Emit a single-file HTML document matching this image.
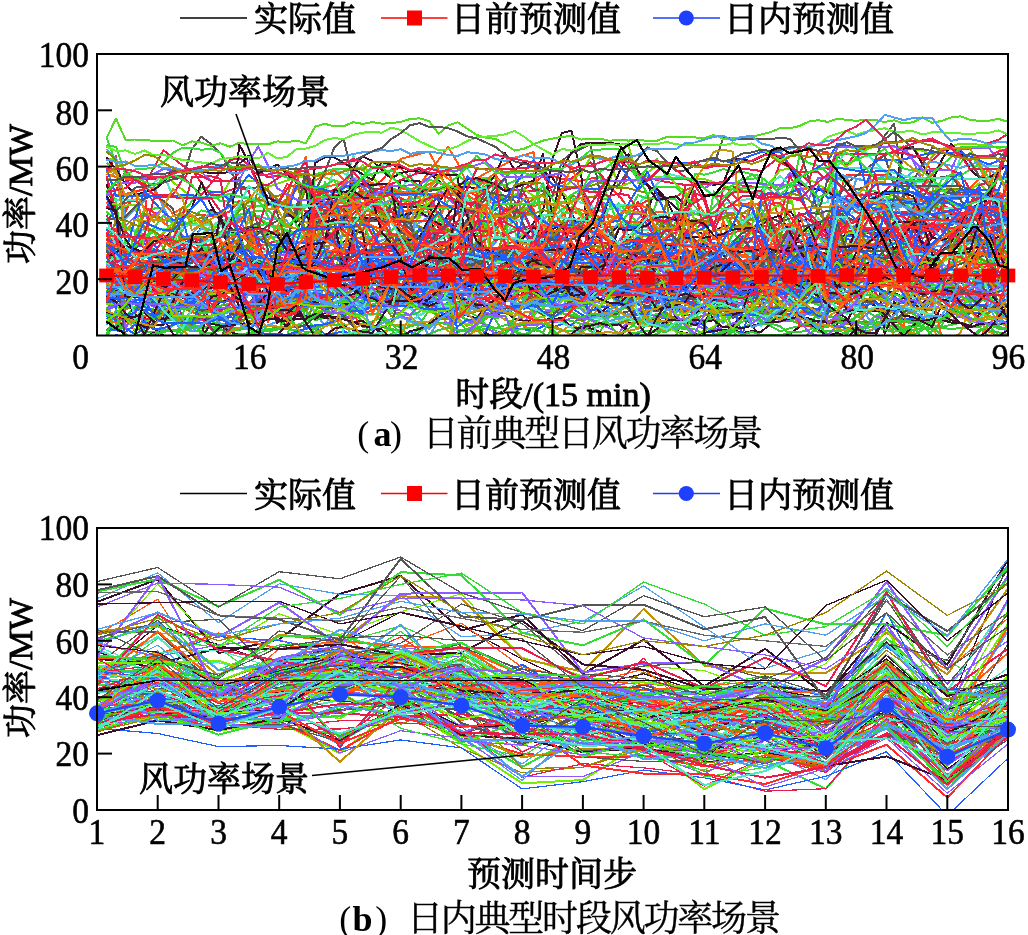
<!DOCTYPE html><html><head><meta charset="utf-8"><style>html,body{margin:0;padding:0;background:#fff;overflow:hidden}svg{display:block}</style></head><body>
<svg width="1028" height="935" viewBox="0 0 1028 935">
<style>text{fill:#000;stroke:#000;stroke-width:0.6}.lg{font-family:"Liberation Serif","Noto Serif CJK SC",serif;font-size:34px;stroke-width:0.9}.tk{font-family:"Liberation Serif","Noto Serif CJK SC",serif;font-size:36px;}.cap{font-family:"Liberation Serif","Noto Serif CJK SC",serif;font-size:36px;stroke-width:0.4}</style>
<rect width="1028" height="935" fill="#fff"/>
<clipPath id="ct"><rect x="97" y="54" width="911" height="281.5"/></clipPath>
<clipPath id="cb"><rect x="97" y="528" width="911" height="282"/></clipPath>
<g clip-path="url(#ct)" fill="none" stroke-width="2" stroke-linejoin="round" shape-rendering="crispEdges">
<polyline stroke="#e81c4c" points="106.5,188.2 135.0,178.2 153.9,178.8 182.4,176.0 201.4,195.1 229.9,160.0 239.3,158.2 267.8,177.3 286.8,174.7 305.8,174.7 334.2,216.9 362.7,190.3 372.2,203.7 381.7,192.1 429.1,191.5 438.6,182.8 457.6,190.8 476.6,179.9 505.1,190.3 543.0,190.8 571.5,178.6 590.5,162.3 618.9,196.6 628.4,169.5 656.9,180.3 685.4,185.0 732.8,182.5 742.3,185.6 770.8,188.2 780.2,162.6 799.2,172.1 818.2,172.1 827.7,181.0 837.2,155.9 846.7,164.8 856.2,152.5 865.7,148.2 884.6,143.0 903.6,141.1 932.1,141.1 960.6,149.0 970.0,149.0 998.5,139.7 1008.0,133.8"/>
<polyline stroke="#e81c4c" points="106.5,247.7 144.4,269.3 153.9,293.5 172.9,293.5 210.9,252.2 239.3,252.2 277.3,240.8 296.3,248.7 315.3,261.2 343.7,243.5 353.2,251.1 362.7,251.1 391.2,258.8 429.1,249.1 457.6,249.1 467.1,224.8 495.6,233.1 505.1,233.1 543.0,264.1 609.4,295.8 637.9,275.2 656.9,297.1 666.4,297.1 675.9,286.2 694.8,245.8 723.3,281.6 732.8,288.4 761.3,292.1 770.8,272.4 780.2,266.8 808.7,264.4 827.7,277.7 837.2,225.1 875.1,212.1 913.1,212.1 932.1,197.3 960.6,216.3 970.0,215.3 998.5,196.0 1008.0,219.6"/>
<polyline stroke="#ff2a2a" points="106.5,290.6 144.4,286.2 163.4,273.0 201.4,285.0 210.9,300.0 220.4,278.4 248.8,271.5 277.3,280.8 315.3,289.1 362.7,289.1 372.2,299.9 410.2,294.2 438.6,285.9 467.1,275.3 476.6,293.8 505.1,291.5 533.5,287.0 571.5,272.3 599.9,291.2 609.4,279.9 618.9,279.9 637.9,284.9 656.9,268.0 694.8,292.0 751.8,292.0 780.2,287.8 789.7,282.6 808.7,261.0 827.7,296.0 837.2,207.7 846.7,231.9 875.1,248.7 894.1,229.9 903.6,228.0 913.1,215.4 932.1,226.6 960.6,220.2 998.5,220.2 1008.0,240.2"/>
<polyline stroke="#ff2a2a" points="106.5,254.7 116.0,254.7 135.0,262.0 163.4,262.0 201.4,291.3 220.4,293.3 239.3,293.3 258.3,291.2 267.8,268.2 305.8,259.2 334.2,291.2 362.7,280.2 400.7,238.8 448.1,235.1 486.1,253.6 505.1,245.6 514.5,245.6 524.0,261.1 562.0,230.6 581.0,216.7 599.9,226.5 647.4,226.5 675.9,261.5 704.3,242.0 742.3,229.9 770.8,230.2 789.7,246.0 808.7,246.0 827.7,258.5 837.2,198.3 846.7,174.7 884.6,175.1 913.1,182.2 922.6,178.7 951.1,194.2 979.5,195.1 998.5,190.5 1008.0,163.8"/>
<polyline stroke="#33cc33" points="106.5,341.1 135.0,341.1 144.4,333.1 153.9,339.1 163.4,341.1 182.4,341.1 191.9,338.5 201.4,338.3 210.9,339.3 220.4,317.6 229.9,316.7 239.3,311.6 248.8,314.0 267.8,316.7 277.3,292.5 286.8,298.5 296.3,309.8 305.8,316.8 315.3,329.1 324.8,337.0 334.2,328.3 343.7,328.1 353.2,329.6 362.7,323.6 372.2,321.6 381.7,316.9 391.2,329.6 400.7,340.3 410.2,341.1 419.6,331.2 438.6,319.5 448.1,319.2 467.1,310.8 476.6,315.8 486.1,324.5 495.6,331.0 505.1,341.1 609.4,341.1 618.9,337.7 637.9,336.1 647.4,334.5 656.9,330.5 666.4,327.9 675.9,326.9 685.4,328.5 704.3,319.6 723.3,314.8 732.8,314.4 742.3,315.6 751.8,312.7 770.8,313.6 780.2,318.8 808.7,324.9 818.2,332.4 827.7,330.7 837.2,330.9 846.7,330.1 856.2,327.6 865.7,327.9 875.1,326.7 884.6,329.7 894.1,329.3 903.6,328.0 922.6,322.2 932.1,324.4 941.6,327.7 951.1,329.1 960.6,327.9 979.5,326.9 989.0,337.2 998.5,341.1 1008.0,341.1"/>
<polyline stroke="#33dd33" points="106.5,163.1 116.0,167.3 125.5,227.2 135.0,229.7 144.4,235.7 153.9,240.0 163.4,243.2 172.9,239.8 182.4,212.7 191.9,201.4 201.4,187.7 210.9,191.6 220.4,201.3 229.9,200.3 248.8,206.0 258.3,205.8 267.8,204.9 286.8,208.5 296.3,222.7 305.8,181.3 315.3,228.9 324.8,216.5 334.2,200.8 343.7,182.5 353.2,194.2 362.7,207.3 381.7,196.1 391.2,186.0 410.2,239.7 419.6,256.5 448.1,200.5 457.6,199.9 467.1,200.5 476.6,202.6 486.1,249.7 495.6,239.6 514.5,228.1 533.5,322.5 543.0,231.7 552.5,233.2 571.5,228.8 599.9,210.2 609.4,209.0 618.9,206.3 628.4,205.6 637.9,264.3 647.4,316.1 656.9,314.2 666.4,315.2 675.9,318.1 694.8,174.0 704.3,174.6 713.8,172.3 723.3,169.0 732.8,171.4 742.3,171.9 761.3,176.4 770.8,233.0 780.2,235.4 789.7,235.4 799.2,232.1 808.7,231.0 818.2,232.0 837.2,229.1 846.7,233.6 856.2,233.4 875.1,293.0 894.1,262.7 922.6,212.6 932.1,192.2 941.6,187.0 960.6,162.9 970.0,152.6 979.5,168.3 989.0,186.2 998.5,196.0 1008.0,195.9"/>
<polyline stroke="#ff2a2a" points="106.5,261.6 163.4,261.1 201.4,254.0 229.9,279.6 248.8,284.8 267.8,305.4 296.3,298.2 315.3,274.4 343.7,274.4 381.7,281.2 410.2,284.9 438.6,274.9 476.6,274.9 514.5,283.4 533.5,306.3 581.0,306.3 618.9,271.7 628.4,271.7 637.9,252.5 647.4,241.5 685.4,261.0 713.8,264.8 723.3,271.4 751.8,270.3 789.7,273.2 818.2,256.8 827.7,256.8 837.2,212.2 846.7,236.6 856.2,224.6 865.7,216.2 884.6,233.7 894.1,221.9 903.6,229.7 941.6,213.4 970.0,222.4 979.5,214.9 1008.0,247.3"/>
<polyline stroke="#ff5a10" points="106.5,251.4 144.4,253.5 153.9,261.7 172.9,265.0 201.4,260.4 220.4,246.2 248.8,249.5 277.3,264.3 305.8,260.9 315.3,202.6 324.8,203.2 362.7,198.1 372.2,203.5 391.2,222.1 410.2,196.1 448.1,172.3 457.6,193.4 476.6,191.9 486.1,248.3 495.6,247.5 533.5,265.8 562.0,247.3 599.9,246.4 618.9,252.1 647.4,252.1 666.4,270.9 675.9,270.9 704.3,245.0 732.8,245.0 742.3,257.4 799.2,257.4 865.7,247.8 894.1,268.4 922.6,277.5 951.1,295.6 970.0,262.4 998.5,248.3 1008.0,269.2"/>
<polyline stroke="#c8960a" points="106.5,238.3 116.0,242.5 125.5,266.1 135.0,280.1 153.9,302.5 163.4,308.4 172.9,279.5 182.4,274.3 191.9,270.6 201.4,263.4 210.9,264.9 229.9,260.3 239.3,262.1 248.8,259.4 258.3,262.8 267.8,308.4 277.3,268.1 286.8,266.3 296.3,290.9 305.8,293.4 315.3,295.2 324.8,295.1 334.2,339.9 343.7,301.1 353.2,293.8 362.7,295.3 372.2,298.3 391.2,299.7 400.7,299.1 410.2,300.2 419.6,297.8 429.1,305.1 438.6,307.7 448.1,326.4 457.6,314.3 467.1,304.8 476.6,307.4 486.1,308.9 495.6,305.8 505.1,307.2 514.5,305.8 524.0,305.5 543.0,315.0 552.5,334.9 562.0,331.0 571.5,324.3 581.0,330.4 590.5,319.0 599.9,305.6 609.4,295.1 618.9,293.5 628.4,295.0 637.9,295.6 656.9,291.4 675.9,306.0 685.4,309.8 694.8,307.5 704.3,295.9 713.8,292.6 723.3,294.5 732.8,295.7 742.3,298.7 751.8,285.8 761.3,279.1 770.8,268.3 789.7,294.5 799.2,299.2 808.7,279.0 818.2,264.4 827.7,313.1 837.2,307.7 846.7,300.9 856.2,302.0 865.7,302.0 875.1,301.3 884.6,315.8 894.1,336.0 903.6,332.7 913.1,333.6 922.6,309.7 932.1,328.2 941.6,341.1 951.1,339.8 960.6,332.5 970.0,307.5 979.5,320.1 989.0,319.3 998.5,315.9 1008.0,315.6"/>
<polyline stroke="#ff5a10" points="106.5,315.8 116.0,315.5 125.5,316.2 135.0,313.3 144.4,296.5 153.9,277.7 163.4,281.7 172.9,277.4 191.9,286.1 201.4,293.7 210.9,295.9 220.4,289.5 229.9,291.4 239.3,283.2 248.8,285.1 258.3,275.8 267.8,264.7 277.3,249.4 286.8,253.5 296.3,255.6 315.3,285.8 324.8,283.6 334.2,285.9 343.7,291.6 353.2,307.7 372.2,272.1 391.2,306.5 400.7,306.2 410.2,303.7 419.6,302.7 429.1,278.7 438.6,257.0 448.1,270.8 457.6,286.7 467.1,283.7 476.6,286.6 486.1,283.8 495.6,283.9 505.1,280.4 514.5,280.4 524.0,328.7 533.5,313.5 552.5,292.9 562.0,279.6 571.5,269.5 581.0,276.6 590.5,278.8 599.9,282.7 618.9,276.3 628.4,306.1 637.9,290.5 647.4,294.5 656.9,285.6 666.4,301.1 675.9,310.1 685.4,312.4 694.8,297.7 704.3,281.3 713.8,279.6 723.3,275.2 732.8,276.7 751.8,256.2 761.3,240.8 770.8,261.4 789.7,275.0 799.2,278.8 808.7,268.8 827.7,300.0 837.2,301.9 856.2,315.6 865.7,309.5 875.1,309.3 884.6,311.4 894.1,254.5 903.6,255.1 913.1,292.6 922.6,292.8 932.1,302.0 941.6,299.8 951.1,301.0 970.0,300.0 979.5,296.8 989.0,294.8 998.5,291.5 1008.0,283.7"/>
<polyline stroke="#ff3a1a" points="106.5,291.0 116.0,290.9 125.5,289.0 135.0,289.4 144.4,291.3 153.9,291.5 191.9,303.8 201.4,304.0 210.9,307.0 220.4,293.2 229.9,291.0 239.3,293.2 248.8,286.1 258.3,282.7 267.8,322.2 277.3,307.0 286.8,322.7 305.8,308.1 334.2,291.8 353.2,314.3 362.7,327.4 372.2,323.5 381.7,310.6 391.2,305.5 400.7,289.2 410.2,294.7 419.6,299.2 429.1,291.5 438.6,289.1 448.1,291.5 457.6,286.7 467.1,283.5 476.6,279.3 486.1,270.5 495.6,260.2 505.1,251.4 514.5,261.0 524.0,268.2 533.5,272.8 543.0,281.5 552.5,293.6 562.0,295.8 571.5,293.2 581.0,294.2 590.5,314.1 599.9,315.0 609.4,311.3 618.9,311.1 637.9,295.9 656.9,283.0 675.9,282.6 685.4,283.2 694.8,280.7 704.3,282.9 713.8,287.1 723.3,269.7 732.8,268.9 742.3,263.7 751.8,286.7 770.8,298.0 789.7,310.8 799.2,307.9 808.7,301.8 818.2,297.9 827.7,299.6 846.7,307.7 856.2,308.7 865.7,307.8 884.6,280.1 894.1,269.3 913.1,294.5 922.6,305.5 932.1,303.7 941.6,300.1 951.1,301.0 960.6,300.0 970.0,296.2 979.5,287.6 989.0,282.6 998.5,271.3 1008.0,280.6"/>
<polyline stroke="#4fa0ee" points="106.5,325.4 116.0,280.1 125.5,281.6 135.0,280.2 144.4,279.9 153.9,290.3 163.4,302.5 172.9,312.1 182.4,337.3 191.9,336.4 201.4,338.5 210.9,337.0 220.4,337.2 229.9,332.9 239.3,313.7 248.8,289.9 258.3,297.9 267.8,312.4 277.3,297.8 286.8,285.2 296.3,287.8 305.8,302.3 315.3,313.1 324.8,325.5 343.7,295.0 353.2,278.0 362.7,278.3 372.2,280.5 381.7,281.8 391.2,285.4 400.7,290.9 410.2,290.8 438.6,303.8 448.1,304.5 457.6,302.1 467.1,301.7 476.6,268.1 486.1,271.2 495.6,271.0 505.1,273.1 514.5,278.6 524.0,275.1 533.5,277.9 552.5,288.2 562.0,292.6 571.5,293.4 581.0,299.8 590.5,299.0 599.9,290.4 609.4,280.0 618.9,271.5 628.4,267.9 637.9,266.0 647.4,266.0 656.9,260.5 666.4,261.6 675.9,283.2 685.4,299.5 694.8,265.5 704.3,274.2 713.8,285.5 723.3,285.3 732.8,287.0 742.3,287.7 751.8,286.0 761.3,287.0 770.8,285.2 780.2,285.5 789.7,285.1 799.2,281.5 808.7,274.5 818.2,269.8 827.7,266.7 837.2,261.5 846.7,258.7 894.1,255.3 903.6,260.4 913.1,264.0 922.6,262.5 932.1,263.6 941.6,271.5 960.6,291.7 970.0,296.1 979.5,296.2 989.0,297.0 998.5,310.4 1008.0,321.6"/>
<polyline stroke="#50e8c0" points="106.5,233.4 116.0,230.8 135.0,230.0 153.9,230.7 163.4,229.0 172.9,228.3 182.4,243.2 191.9,240.7 210.9,226.6 220.4,220.5 229.9,218.5 239.3,221.3 248.8,222.7 258.3,227.2 277.3,242.6 286.8,239.5 296.3,237.2 305.8,236.6 324.8,210.6 334.2,217.7 353.2,155.6 372.2,205.0 381.7,216.2 400.7,190.9 410.2,174.2 419.6,194.9 429.1,197.1 438.6,196.1 448.1,193.3 457.6,192.0 467.1,199.8 476.6,206.1 486.1,210.2 505.1,241.0 514.5,216.4 524.0,225.7 533.5,233.5 543.0,244.1 552.5,227.7 562.0,213.2 571.5,196.9 581.0,202.8 590.5,202.7 599.9,221.8 609.4,237.9 618.9,259.3 628.4,258.4 637.9,229.9 647.4,230.1 656.9,231.5 666.4,240.1 675.9,240.5 685.4,240.0 694.8,241.2 704.3,239.8 713.8,243.0 723.3,243.3 732.8,240.8 742.3,242.2 751.8,242.1 761.3,239.6 780.2,240.1 789.7,238.8 808.7,233.7 818.2,217.8 827.7,227.7 837.2,241.9 856.2,226.5 865.7,259.4 875.1,259.3 884.6,228.4 894.1,258.4 913.1,202.2 922.6,205.4 932.1,207.2 941.6,205.2 951.1,231.6 960.6,234.0 970.0,237.8 979.5,238.1 989.0,211.8 998.5,215.0 1008.0,219.1"/>
<polyline stroke="#33dd33" points="106.5,255.3 116.0,259.2 125.5,260.2 144.4,209.2 163.4,207.9 172.9,225.5 182.4,265.9 191.9,254.1 201.4,247.1 210.9,248.4 220.4,246.0 229.9,245.2 248.8,247.6 258.3,251.7 267.8,257.6 286.8,277.6 296.3,279.1 315.3,261.6 324.8,181.8 334.2,213.7 343.7,215.1 353.2,218.0 362.7,221.8 381.7,275.1 400.7,267.8 410.2,271.6 419.6,273.1 429.1,279.7 438.6,269.1 448.1,265.0 467.1,244.0 476.6,225.6 495.6,182.9 524.0,242.8 543.0,232.7 552.5,225.0 562.0,227.5 571.5,226.8 581.0,224.9 590.5,245.2 599.9,272.1 609.4,294.4 628.4,257.4 637.9,236.4 647.4,235.9 656.9,241.8 666.4,240.3 675.9,221.5 685.4,199.1 694.8,254.0 704.3,254.3 713.8,252.9 723.3,250.5 732.8,246.2 742.3,237.0 751.8,231.9 761.3,250.3 770.8,265.7 780.2,266.6 789.7,266.1 799.2,258.1 808.7,243.2 818.2,249.5 827.7,237.6 846.7,228.7 856.2,225.6 865.7,243.5 875.1,256.7 884.6,256.6 894.1,250.8 903.6,251.8 913.1,227.5 932.1,230.1 951.1,228.5 960.6,225.7 979.5,224.7 998.5,220.5 1008.0,223.7"/>
<polyline stroke="#33dd33" points="106.5,268.1 116.0,267.4 125.5,268.2 135.0,272.7 153.9,240.6 163.4,233.0 172.9,227.8 182.4,243.0 191.9,255.2 201.4,269.9 210.9,242.0 220.4,252.3 229.9,256.4 239.3,206.1 258.3,198.8 267.8,216.0 277.3,235.6 286.8,258.9 315.3,238.0 334.2,205.4 343.7,206.5 353.2,205.7 362.7,208.6 372.2,257.4 381.7,293.5 400.7,279.8 410.2,272.1 419.6,258.5 429.1,254.5 438.6,252.9 448.1,263.5 467.1,286.8 486.1,226.0 495.6,214.9 505.1,210.3 514.5,212.7 524.0,209.6 533.5,203.9 543.0,201.5 552.5,204.5 562.0,202.1 571.5,203.6 581.0,212.9 590.5,224.3 609.4,209.0 618.9,203.3 637.9,223.3 647.4,227.8 656.9,201.6 666.4,198.4 675.9,199.4 685.4,229.5 694.8,243.6 713.8,265.3 723.3,251.6 732.8,234.2 742.3,219.8 751.8,219.7 761.3,217.3 780.2,204.2 799.2,239.4 808.7,254.5 818.2,202.1 827.7,190.8 837.2,207.4 846.7,227.0 856.2,242.9 875.1,208.2 884.6,196.4 894.1,200.1 903.6,202.2 913.1,210.3 922.6,197.8 932.1,183.3 941.6,230.6 951.1,255.0 960.6,250.7 979.5,234.3 989.0,238.7 998.5,221.8 1008.0,215.2"/>
<polyline stroke="#ff2a2a" points="106.5,202.1 116.0,205.3 135.0,200.5 144.4,207.2 153.9,212.4 163.4,220.2 172.9,220.9 182.4,217.4 201.4,214.7 210.9,216.5 220.4,214.9 229.9,211.5 239.3,201.0 248.8,211.4 267.8,225.9 286.8,184.2 296.3,187.4 315.3,190.6 324.8,190.0 334.2,224.3 343.7,214.2 362.7,186.4 372.2,186.2 381.7,180.5 391.2,169.4 400.7,168.2 419.6,187.2 429.1,195.7 438.6,287.1 448.1,287.6 467.1,284.3 476.6,194.4 486.1,185.7 495.6,175.3 505.1,188.0 514.5,197.3 524.0,188.9 533.5,183.7 543.0,176.0 552.5,175.6 562.0,178.9 571.5,180.4 581.0,180.7 599.9,176.7 609.4,187.0 618.9,195.1 628.4,208.6 637.9,206.1 656.9,195.0 666.4,197.7 675.9,197.0 685.4,190.1 704.3,182.1 713.8,183.2 723.3,183.7 732.8,194.9 742.3,204.2 751.8,203.1 761.3,205.7 770.8,195.6 780.2,220.7 789.7,175.8 799.2,175.8 808.7,149.4 827.7,152.3 837.2,225.9 846.7,225.2 856.2,228.0 875.1,160.0 894.1,151.3 903.6,149.5 913.1,148.5 932.1,171.0 941.6,202.0 970.0,194.9 979.5,195.2 989.0,193.7 998.5,196.1 1008.0,194.6"/>
<polyline stroke="#3a0f2a" points="106.5,183.8 116.0,214.1 125.5,278.9 144.4,284.4 153.9,284.6 163.4,285.8 172.9,292.8 191.9,242.5 201.4,227.0 210.9,209.5 220.4,220.4 229.9,226.9 239.3,235.5 248.8,271.8 258.3,294.3 267.8,287.1 277.3,276.9 296.3,261.3 305.8,256.4 324.8,240.6 334.2,242.4 343.7,241.5 353.2,241.3 362.7,221.4 372.2,218.9 381.7,221.6 391.2,221.8 400.7,180.3 419.6,181.5 438.6,246.3 448.1,246.1 457.6,243.4 467.1,245.7 476.6,248.9 486.1,255.8 495.6,254.3 505.1,251.9 514.5,253.4 524.0,236.3 533.5,223.1 543.0,211.3 552.5,158.5 562.0,132.9 571.5,130.8 581.0,174.3 590.5,249.0 599.9,239.6 609.4,235.1 618.9,224.7 628.4,224.5 637.9,229.7 656.9,188.6 666.4,199.2 685.4,216.2 694.8,231.8 704.3,234.0 713.8,231.2 723.3,226.2 732.8,224.9 742.3,226.9 751.8,226.9 761.3,234.4 770.8,228.8 780.2,221.8 789.7,211.0 799.2,221.3 808.7,219.2 818.2,224.9 827.7,232.4 837.2,238.2 846.7,234.5 856.2,233.1 865.7,232.8 875.1,233.3 884.6,235.6 894.1,235.2 913.1,305.3 922.6,252.4 932.1,236.9 941.6,227.9 951.1,213.0 960.6,223.4 979.5,240.6 989.0,248.1 998.5,256.9 1008.0,237.6"/>
<polyline stroke="#4fa0ee" points="106.5,278.7 116.0,285.0 125.5,295.1 135.0,296.9 144.4,295.7 163.4,279.1 172.9,272.3 182.4,295.2 191.9,312.3 210.9,253.4 220.4,259.9 229.9,269.4 239.3,269.4 248.8,267.4 258.3,269.2 267.8,278.3 286.8,280.5 296.3,282.5 305.8,282.2 315.3,275.4 324.8,271.8 334.2,271.3 343.7,274.1 362.7,275.5 372.2,275.5 381.7,274.3 391.2,282.2 400.7,296.9 410.2,306.3 419.6,318.5 429.1,336.3 438.6,320.9 448.1,302.3 457.6,291.7 476.6,266.0 486.1,268.4 495.6,267.9 514.5,270.7 524.0,272.9 533.5,274.3 543.0,269.4 552.5,271.2 562.0,268.8 581.0,253.4 590.5,242.8 599.9,238.6 609.4,230.5 618.9,224.1 628.4,226.2 637.9,226.1 647.4,225.3 656.9,233.6 666.4,221.8 675.9,215.7 694.8,278.7 704.3,281.8 713.8,277.1 723.3,269.2 742.3,267.0 761.3,266.6 770.8,267.9 780.2,271.1 789.7,266.4 808.7,254.0 818.2,256.0 827.7,257.1 837.2,262.2 856.2,241.0 865.7,228.4 875.1,240.4 884.6,250.2 894.1,252.9 903.6,286.4 913.1,285.6 922.6,287.4 932.1,292.7 941.6,296.0 951.1,287.8 970.0,259.6 979.5,284.4 989.0,299.7 998.5,312.3 1008.0,286.9"/>
<polyline stroke="#33cc33" points="106.5,330.5 116.0,325.2 125.5,328.7 135.0,333.6 144.4,337.4 153.9,333.8 163.4,331.3 172.9,330.8 182.4,327.9 201.4,328.2 210.9,326.7 229.9,328.0 239.3,327.5 248.8,328.4 258.3,331.9 267.8,340.8 315.3,341.1 324.8,340.7 372.2,341.1 381.7,339.9 391.2,334.0 400.7,337.9 410.2,340.2 419.6,323.6 429.1,310.6 438.6,316.0 448.1,316.9 457.6,319.2 467.1,331.5 476.6,341.1 505.1,341.1 514.5,331.5 533.5,341.1 543.0,340.6 552.5,329.3 562.0,338.6 571.5,341.1 581.0,341.1 599.9,335.1 609.4,338.8 618.9,340.6 628.4,335.8 637.9,339.6 647.4,341.1 666.4,340.6 675.9,336.0 685.4,313.1 694.8,309.2 704.3,309.0 713.8,307.8 723.3,308.2 732.8,328.8 761.3,324.7 770.8,319.4 780.2,319.2 789.7,316.2 799.2,314.8 808.7,309.6 818.2,314.0 827.7,311.8 837.2,307.2 846.7,335.8 856.2,315.0 865.7,321.0 875.1,324.0 884.6,324.6 894.1,326.9 903.6,321.2 913.1,323.0 922.6,341.1 941.6,321.3 951.1,316.4 960.6,306.7 970.0,298.9 979.5,306.3 989.0,316.1 998.5,324.3 1008.0,324.7"/>
<polyline stroke="#1f5fff" points="106.5,263.4 116.0,262.0 125.5,254.3 135.0,247.9 144.4,243.9 153.9,244.8 163.4,256.3 172.9,273.4 182.4,286.7 201.4,292.8 210.9,296.7 220.4,291.8 229.9,285.1 239.3,275.5 248.8,261.6 258.3,270.7 267.8,272.3 277.3,271.9 286.8,273.5 296.3,290.6 315.3,272.0 324.8,272.5 334.2,275.5 343.7,276.8 353.2,285.6 362.7,299.2 381.7,300.1 391.2,303.4 400.7,300.8 410.2,301.4 419.6,304.8 429.1,307.1 438.6,306.2 448.1,302.9 467.1,301.1 476.6,301.6 495.6,295.3 505.1,298.8 514.5,298.8 524.0,297.6 533.5,276.6 552.5,277.4 562.0,281.0 571.5,274.2 581.0,269.9 590.5,263.6 599.9,262.1 609.4,261.3 618.9,258.4 628.4,257.6 637.9,291.2 647.4,281.1 656.9,267.6 666.4,269.3 675.9,249.5 685.4,251.2 694.8,256.0 704.3,258.0 713.8,268.2 723.3,275.4 742.3,236.2 761.3,263.0 770.8,274.0 780.2,269.2 789.7,268.4 818.2,226.6 837.2,239.2 846.7,238.7 856.2,242.4 865.7,255.0 875.1,254.3 884.6,255.9 894.1,256.6 903.6,256.7 913.1,259.9 922.6,241.5 932.1,265.5 941.6,246.8 960.6,236.1 970.0,227.9 989.0,246.4 998.5,277.6 1008.0,263.6"/>
<polyline stroke="#8a8a00" points="106.5,312.3 116.0,285.5 125.5,296.0 135.0,304.2 153.9,303.9 163.4,300.8 172.9,306.2 182.4,308.0 201.4,315.9 210.9,321.4 220.4,315.2 239.3,307.6 248.8,315.1 258.3,324.4 267.8,329.0 277.3,327.9 296.3,327.1 305.8,320.6 315.3,302.2 324.8,287.3 334.2,287.3 343.7,289.1 353.2,287.4 381.7,290.6 391.2,289.8 410.2,285.7 419.6,285.5 429.1,296.9 438.6,303.2 448.1,305.9 457.6,307.0 467.1,305.3 476.6,296.5 486.1,293.4 495.6,286.3 505.1,285.4 514.5,282.2 524.0,285.4 533.5,289.4 543.0,291.2 552.5,291.7 562.0,298.9 571.5,301.8 581.0,308.9 590.5,312.9 599.9,287.4 609.4,289.9 618.9,299.3 628.4,299.2 637.9,283.2 647.4,284.3 656.9,288.4 666.4,281.1 675.9,280.8 685.4,282.1 694.8,277.9 704.3,280.4 713.8,282.1 723.3,283.0 732.8,281.8 742.3,282.3 751.8,280.1 761.3,280.4 770.8,277.1 780.2,275.7 789.7,279.1 799.2,279.1 808.7,281.6 818.2,281.8 827.7,289.7 837.2,292.4 846.7,300.8 856.2,293.1 865.7,290.4 875.1,290.6 884.6,286.3 894.1,284.6 903.6,280.9 913.1,313.8 922.6,319.2 932.1,321.6 941.6,317.8 960.6,307.8 970.0,313.1 979.5,312.4 989.0,312.9 998.5,305.4 1008.0,306.8"/>
<polyline stroke="#ff2a2a" points="106.5,172.5 116.0,155.7 125.5,211.9 135.0,192.0 144.4,188.9 153.9,281.1 172.9,276.3 182.4,275.5 191.9,245.5 201.4,253.3 210.9,257.7 220.4,268.2 239.3,239.8 248.8,262.2 258.3,274.2 267.8,282.0 277.3,273.8 286.8,262.5 296.3,253.7 305.8,254.9 315.3,255.2 334.2,252.3 343.7,252.4 362.7,245.8 372.2,208.7 381.7,208.4 391.2,245.6 400.7,235.2 410.2,246.8 419.6,256.5 429.1,270.7 438.6,251.9 448.1,254.6 457.6,253.9 467.1,292.3 476.6,284.4 486.1,273.2 495.6,265.6 505.1,265.4 514.5,261.5 524.0,249.1 552.5,221.8 571.5,220.4 590.5,262.3 599.9,271.6 609.4,278.0 618.9,273.4 628.4,270.1 637.9,265.2 656.9,290.7 666.4,300.0 675.9,292.9 685.4,288.8 694.8,262.6 704.3,233.2 713.8,245.4 723.3,247.0 732.8,245.5 742.3,248.0 751.8,247.1 761.3,248.9 770.8,248.7 780.2,244.3 789.7,246.5 799.2,251.5 808.7,258.1 827.7,276.9 837.2,288.7 846.7,284.2 856.2,278.5 865.7,275.4 875.1,267.3 884.6,265.9 894.1,267.3 903.6,230.8 922.6,258.7 932.1,256.3 951.1,244.5 960.6,239.4 970.0,238.4 989.0,310.8 1008.0,293.5"/>
<polyline stroke="#33dd33" points="106.5,273.2 116.0,295.9 144.4,295.9 153.9,291.4 182.4,287.0 201.4,276.8 229.9,263.8 286.8,263.8 296.3,260.7 305.8,262.0 315.3,204.7 334.2,207.4 343.7,231.7 362.7,206.6 372.2,259.5 391.2,245.2 419.6,245.2 429.1,303.9 457.6,303.9 495.6,287.7 505.1,276.5 543.0,307.3 571.5,250.8 599.9,276.6 637.9,295.7 666.4,295.7 675.9,282.8 685.4,282.8 694.8,267.0 723.3,263.3 751.8,289.1 761.3,255.4 770.8,279.4 799.2,294.8 808.7,294.8 818.2,271.4 827.7,269.1 846.7,279.9 884.6,281.8 922.6,291.0 951.1,261.8 989.0,264.8 1008.0,291.4"/>
<polyline stroke="#33dd33" points="106.5,283.7 135.0,283.7 153.9,305.2 182.4,316.1 191.9,280.9 229.9,278.5 267.8,271.2 296.3,286.6 305.8,282.8 315.3,228.3 334.2,220.8 343.7,246.7 353.2,240.1 372.2,270.1 400.7,236.4 419.6,230.5 448.1,230.3 457.6,281.0 514.5,280.9 524.0,268.6 533.5,268.8 552.5,262.3 628.4,291.2 666.4,291.2 694.8,276.1 770.8,276.1 799.2,277.5 818.2,304.1 846.7,286.9 884.6,274.8 903.6,260.7 913.1,246.3 922.6,272.0 941.6,305.6 951.1,305.6 979.5,264.6 989.0,259.6 998.5,292.7 1008.0,266.7"/>
<polyline stroke="#1f5fff" points="106.5,341.1 116.0,335.0 125.5,337.3 135.0,340.7 286.8,341.1 296.3,340.2 305.8,325.2 315.3,326.7 324.8,334.0 334.2,333.6 343.7,331.1 353.2,335.0 362.7,341.1 372.2,341.1 381.7,339.7 391.2,336.4 410.2,332.3 419.6,334.7 429.1,339.6 438.6,341.1 467.1,341.1 495.6,333.5 505.1,330.1 514.5,327.9 533.5,330.9 543.0,326.3 552.5,327.5 562.0,324.2 571.5,324.8 581.0,317.5 590.5,330.8 609.4,339.9 618.9,341.1 628.4,340.0 637.9,334.0 647.4,324.0 656.9,319.4 666.4,309.3 675.9,309.3 694.8,313.3 704.3,310.7 723.3,309.4 751.8,310.0 761.3,311.2 770.8,314.5 780.2,312.5 789.7,314.7 799.2,315.5 808.7,323.3 818.2,324.9 827.7,325.2 846.7,327.8 856.2,330.1 865.7,331.2 875.1,329.0 894.1,317.9 913.1,319.2 922.6,318.7 932.1,322.9 941.6,319.2 951.1,307.1 960.6,316.9 970.0,313.4 979.5,312.5 989.0,309.1 998.5,307.1 1008.0,320.0"/>
<polyline stroke="#ff2a2a" points="106.5,254.1 116.0,272.0 153.9,272.0 163.4,264.9 191.9,273.7 220.4,268.2 248.8,268.2 277.3,255.4 286.8,261.2 296.3,261.0 305.8,284.5 315.3,223.0 343.7,223.0 381.7,210.1 410.2,205.9 438.6,196.1 467.1,191.4 505.1,208.5 514.5,208.5 524.0,273.7 543.0,281.1 562.0,281.1 599.9,274.0 637.9,274.0 666.4,285.4 675.9,262.1 694.8,284.1 704.3,278.6 723.3,278.6 751.8,229.8 780.2,263.6 789.7,258.2 799.2,247.6 856.2,277.3 875.1,271.0 903.6,263.5 932.1,263.5 951.1,279.4 970.0,299.9 979.5,262.9 998.5,291.1 1008.0,271.5"/>
<polyline stroke="#e81c4c" points="106.5,242.2 116.0,258.7 125.5,315.7 135.0,331.3 144.4,325.7 153.9,317.3 163.4,298.4 172.9,276.5 182.4,320.4 191.9,322.3 201.4,323.2 210.9,319.7 239.3,258.9 248.8,244.8 258.3,241.4 267.8,234.7 277.3,230.3 305.8,278.9 315.3,255.1 324.8,255.7 343.7,259.4 353.2,260.5 362.7,263.3 372.2,264.4 381.7,263.5 391.2,265.6 400.7,266.6 419.6,295.9 429.1,307.6 438.6,306.8 448.1,255.3 457.6,268.0 467.1,271.2 476.6,267.8 486.1,271.2 495.6,280.2 505.1,264.3 514.5,251.2 524.0,256.2 552.5,304.6 562.0,281.2 571.5,264.3 581.0,281.7 590.5,279.0 609.4,281.8 618.9,274.5 628.4,262.5 637.9,248.7 647.4,263.1 656.9,261.9 666.4,259.9 675.9,252.6 685.4,244.0 694.8,229.8 704.3,220.6 723.3,280.0 751.8,204.4 761.3,236.2 770.8,265.4 780.2,263.6 789.7,270.3 799.2,250.1 818.2,235.8 837.2,215.1 846.7,198.4 856.2,207.0 865.7,212.3 884.6,256.6 894.1,252.2 903.6,251.3 913.1,247.8 922.6,248.1 932.1,251.4 941.6,255.8 951.1,256.1 970.0,248.1 989.0,241.6 998.5,239.9 1008.0,256.5"/>
<polyline stroke="#4fa0ee" points="106.5,295.9 135.0,303.5 163.4,298.9 182.4,306.5 220.4,279.7 258.3,312.2 296.3,311.2 305.8,308.7 324.8,276.0 353.2,271.9 391.2,285.9 400.7,290.9 419.6,291.4 448.1,283.8 476.6,291.7 486.1,252.7 505.1,231.5 524.0,252.5 533.5,243.5 543.0,289.1 562.0,277.4 581.0,290.4 618.9,245.2 637.9,264.5 647.4,264.5 666.4,245.1 694.8,245.1 704.3,268.5 713.8,262.8 723.3,261.3 751.8,251.8 761.3,262.8 770.8,287.1 780.2,287.2 799.2,312.3 818.2,316.5 827.7,316.5 837.2,246.5 913.1,241.8 951.1,270.1 989.0,270.1 1008.0,233.7"/>
<polyline stroke="#33cc33" points="106.5,321.1 116.0,326.5 135.0,340.7 172.9,341.1 182.4,324.6 191.9,326.7 201.4,325.5 210.9,328.9 220.4,328.0 229.9,336.4 239.3,333.9 248.8,333.8 258.3,329.7 277.3,329.1 296.3,329.7 305.8,332.0 315.3,331.8 324.8,336.4 334.2,336.9 343.7,336.4 353.2,332.6 362.7,331.8 372.2,333.2 381.7,319.8 400.7,327.6 410.2,336.7 419.6,328.2 429.1,324.9 448.1,322.5 457.6,341.1 476.6,341.1 486.1,340.3 495.6,338.6 505.1,341.1 514.5,330.4 524.0,328.6 533.5,327.9 543.0,332.9 552.5,341.1 562.0,341.1 571.5,337.9 581.0,323.6 590.5,331.1 599.9,340.0 609.4,341.1 618.9,341.1 628.4,340.1 637.9,339.9 656.9,333.8 666.4,328.7 675.9,327.3 685.4,329.5 694.8,329.3 704.3,334.8 713.8,336.0 723.3,334.7 732.8,330.6 742.3,327.8 751.8,323.7 761.3,317.0 770.8,311.9 780.2,305.7 789.7,303.5 799.2,306.7 808.7,309.1 818.2,317.9 827.7,316.0 837.2,318.1 846.7,328.3 856.2,332.7 865.7,331.7 875.1,328.4 884.6,327.5 894.1,324.4 903.6,329.0 913.1,330.4 922.6,328.8 932.1,329.2 960.6,322.7 970.0,325.4 979.5,326.3 989.0,323.3 998.5,326.2 1008.0,329.9"/>
<polyline stroke="#77dd00" points="106.5,159.2 116.0,159.2 125.5,171.0 153.9,194.4 163.4,174.2 191.9,197.4 220.4,197.4 229.9,181.0 258.3,181.0 267.8,186.9 296.3,177.5 315.3,174.5 343.7,183.4 362.7,164.9 391.2,200.3 400.7,217.8 419.6,217.8 429.1,196.1 457.6,187.2 467.1,178.0 495.6,178.0 514.5,195.0 524.0,188.9 533.5,196.3 552.5,196.3 581.0,173.1 590.5,157.4 609.4,159.5 618.9,187.2 647.4,175.7 675.9,178.9 704.3,178.9 732.8,189.1 761.3,193.1 780.2,170.0 789.7,168.7 827.7,189.6 837.2,161.3 846.7,166.6 865.7,149.8 875.1,146.4 903.6,147.2 922.6,150.7 932.1,154.4 941.6,148.9 960.6,143.6 989.0,145.2 998.5,148.3 1008.0,153.6"/>
<polyline stroke="#8a5cff" points="106.5,244.3 135.0,216.7 153.9,215.0 163.4,209.1 182.4,281.3 191.9,302.3 201.4,286.9 210.9,269.3 220.4,269.4 229.9,250.5 239.3,216.2 248.8,241.3 258.3,269.6 296.3,242.4 305.8,241.0 315.3,247.1 324.8,257.8 334.2,234.1 353.2,200.5 362.7,203.1 372.2,203.0 381.7,202.0 391.2,232.7 400.7,259.7 410.2,211.6 419.6,214.9 429.1,216.1 438.6,190.1 457.6,206.7 467.1,216.1 486.1,198.8 495.6,192.4 505.1,177.8 514.5,168.0 524.0,236.3 533.5,240.9 543.0,229.2 552.5,231.1 562.0,231.7 571.5,237.0 581.0,221.2 590.5,213.4 599.9,201.4 628.4,213.9 637.9,213.7 647.4,209.4 666.4,224.2 675.9,218.7 685.4,216.6 694.8,213.4 704.3,215.8 713.8,216.1 723.3,213.4 732.8,212.5 742.3,212.7 751.8,214.9 761.3,214.8 789.7,172.8 799.2,182.5 808.7,189.0 818.2,198.3 827.7,231.2 837.2,245.0 856.2,259.2 865.7,240.4 875.1,233.9 884.6,230.7 894.1,224.8 903.6,146.3 913.1,160.5 922.6,182.4 932.1,201.5 951.1,258.9 960.6,255.0 970.0,252.6 989.0,250.9 998.5,249.1 1008.0,243.3"/>
<polyline stroke="#8a5cff" points="106.5,278.0 125.5,250.9 135.0,244.6 144.4,241.6 153.9,236.6 163.4,238.4 182.4,235.2 191.9,253.2 201.4,274.3 210.9,292.7 220.4,283.8 229.9,280.0 239.3,279.2 248.8,283.3 258.3,290.7 267.8,295.9 277.3,298.9 286.8,259.7 296.3,262.7 305.8,266.7 315.3,281.4 324.8,291.2 343.7,298.4 353.2,276.9 362.7,270.2 381.7,259.5 391.2,263.8 400.7,264.9 410.2,267.9 419.6,273.2 429.1,276.0 438.6,277.7 448.1,278.5 457.6,275.2 467.1,276.9 486.1,277.0 495.6,273.7 514.5,309.2 524.0,323.0 533.5,309.0 543.0,286.1 552.5,284.7 571.5,287.2 581.0,286.6 590.5,278.9 599.9,274.5 609.4,267.4 628.4,300.0 647.4,288.7 666.4,289.6 675.9,319.5 694.8,292.3 704.3,282.1 713.8,277.4 723.3,275.5 732.8,277.6 742.3,284.7 751.8,285.3 761.3,284.4 780.2,321.9 789.7,317.8 808.7,307.8 818.2,309.3 827.7,309.8 837.2,289.9 846.7,257.9 865.7,257.2 875.1,261.4 884.6,268.8 894.1,271.7 913.1,274.5 932.1,260.7 941.6,276.7 951.1,290.9 960.6,302.8 970.0,293.7 979.5,292.5 989.0,299.5 998.5,313.7 1008.0,314.1"/>
<polyline stroke="#1f5fff" points="106.5,299.3 135.0,310.1 172.9,310.1 191.9,269.2 201.4,269.2 229.9,288.0 248.8,270.7 258.3,270.7 286.8,242.6 315.3,242.6 353.2,267.6 381.7,278.0 400.7,262.5 419.6,255.7 429.1,269.7 457.6,269.5 476.6,289.2 495.6,289.2 514.5,303.5 543.0,299.9 552.5,263.0 590.5,263.0 618.9,293.4 647.4,309.9 675.9,261.9 704.3,261.9 723.3,277.1 751.8,260.7 761.3,283.9 770.8,300.7 827.7,300.7 837.2,248.2 856.2,225.4 884.6,238.8 894.1,226.3 903.6,230.8 932.1,230.8 951.1,245.6 989.0,232.9 1008.0,257.1"/>
<polyline stroke="#33dd33" points="106.5,192.4 116.0,199.3 125.5,281.8 135.0,290.9 144.4,296.8 153.9,300.9 163.4,303.3 172.9,305.0 182.4,293.0 191.9,283.1 210.9,291.3 220.4,288.1 229.9,291.3 248.8,302.4 258.3,314.5 267.8,329.9 277.3,341.1 286.8,339.2 296.3,292.4 305.8,275.9 315.3,276.2 324.8,277.4 343.7,275.8 353.2,282.9 362.7,291.6 372.2,295.5 381.7,295.5 400.7,301.4 410.2,302.1 419.6,307.0 429.1,299.1 438.6,295.8 448.1,293.6 457.6,294.1 467.1,252.2 476.6,253.7 486.1,287.8 495.6,278.2 505.1,267.0 524.0,285.9 533.5,297.3 543.0,289.3 562.0,277.9 571.5,275.4 581.0,273.9 590.5,278.6 599.9,286.8 609.4,290.9 618.9,298.6 647.4,278.6 656.9,274.8 666.4,277.7 675.9,279.6 685.4,280.7 694.8,299.2 704.3,314.5 713.8,313.5 723.3,315.3 732.8,316.2 742.3,318.9 751.8,319.6 761.3,322.6 770.8,299.6 780.2,307.6 789.7,318.1 799.2,301.3 808.7,282.4 818.2,282.4 827.7,279.6 837.2,279.1 846.7,253.7 856.2,256.4 875.1,269.2 884.6,247.7 894.1,243.7 903.6,244.3 913.1,285.4 922.6,271.1 932.1,269.7 951.1,307.9 960.6,304.9 970.0,299.2 979.5,285.2 989.0,278.8 998.5,280.2 1008.0,276.8"/>
<polyline stroke="#33cc33" points="106.5,341.1 135.0,341.1 144.4,331.6 153.9,332.2 163.4,328.9 182.4,332.9 191.9,318.6 201.4,318.4 210.9,320.9 220.4,324.6 239.3,321.7 258.3,336.1 267.8,341.1 324.8,341.1 334.2,335.9 343.7,337.7 353.2,332.9 362.7,341.1 438.6,341.1 448.1,336.4 467.1,328.7 476.6,326.1 486.1,333.7 495.6,338.0 505.1,341.1 514.5,339.1 524.0,338.6 533.5,330.3 543.0,319.8 562.0,319.8 571.5,320.7 581.0,323.8 590.5,323.9 599.9,334.4 609.4,341.1 618.9,341.1 628.4,334.0 647.4,330.8 666.4,331.7 685.4,321.1 694.8,313.8 704.3,307.7 713.8,306.8 723.3,307.3 732.8,306.3 742.3,314.0 751.8,319.1 761.3,320.9 780.2,331.4 789.7,328.3 799.2,326.2 808.7,321.5 818.2,324.3 827.7,321.0 846.7,321.2 856.2,317.4 865.7,310.0 875.1,308.7 884.6,317.6 903.6,332.1 913.1,335.0 922.6,329.8 932.1,323.5 941.6,319.4 951.1,320.5 970.0,310.0 979.5,306.2 989.0,305.3 998.5,302.3 1008.0,304.8"/>
<polyline stroke="#4fa0ee" points="106.5,149.0 116.0,159.1 125.5,218.8 144.4,200.6 153.9,187.1 163.4,207.2 172.9,225.4 182.4,241.4 191.9,234.0 210.9,211.8 229.9,218.1 258.3,215.9 267.8,219.3 277.3,219.0 286.8,220.3 296.3,246.5 305.8,251.5 315.3,253.3 324.8,253.5 334.2,255.5 343.7,263.2 353.2,272.1 362.7,262.5 372.2,267.8 381.7,275.4 391.2,276.3 400.7,257.0 410.2,240.3 429.1,269.2 438.6,279.0 448.1,285.3 457.6,288.5 467.1,284.2 476.6,281.1 486.1,280.8 495.6,262.3 505.1,263.5 514.5,261.1 524.0,257.0 533.5,263.9 552.5,235.8 562.0,245.1 571.5,257.3 590.5,260.2 599.9,261.0 609.4,249.4 618.9,240.6 637.9,219.5 647.4,207.2 656.9,222.5 666.4,234.7 675.9,244.7 685.4,253.2 694.8,262.9 704.3,263.4 723.3,254.1 732.8,248.0 742.3,249.7 751.8,249.8 761.3,251.5 770.8,229.9 780.2,230.1 789.7,224.8 799.2,217.3 808.7,223.3 818.2,233.4 846.7,246.0 856.2,246.2 865.7,241.3 875.1,237.9 884.6,230.3 894.1,224.9 903.6,225.2 913.1,222.8 932.1,231.2 941.6,229.1 951.1,229.5 960.6,233.1 970.0,243.5 979.5,250.1 998.5,240.3 1008.0,233.2"/>
<polyline stroke="#50e8c0" points="106.5,200.0 135.0,200.0 163.4,173.9 172.9,196.3 220.4,197.3 248.8,196.7 277.3,205.5 305.8,205.3 324.8,196.1 334.2,169.6 362.7,181.0 372.2,168.5 391.2,162.0 410.2,170.1 429.1,169.4 438.6,168.3 467.1,168.2 505.1,221.1 524.0,219.1 543.0,182.5 552.5,221.3 581.0,221.3 599.9,204.8 637.9,204.8 666.4,173.5 694.8,179.9 723.3,204.1 751.8,198.4 780.2,175.9 799.2,192.8 808.7,180.7 818.2,203.5 827.7,202.3 837.2,167.4 846.7,146.4 856.2,148.6 865.7,152.5 894.1,181.5 922.6,181.5 951.1,188.2 960.6,156.3 970.0,166.2 1008.0,166.2"/>
<polyline stroke="#50e8c0" points="106.5,306.6 144.4,306.6 172.9,301.0 191.9,292.5 267.8,286.9 296.3,264.8 315.3,282.8 334.2,321.3 362.7,312.3 372.2,315.4 400.7,301.8 419.6,315.5 438.6,305.3 457.6,306.1 467.1,307.8 486.1,290.9 524.0,290.9 562.0,286.6 571.5,287.2 590.5,318.0 609.4,318.0 618.9,282.9 628.4,276.2 647.4,296.8 666.4,310.8 675.9,289.2 704.3,293.4 732.8,288.7 761.3,291.7 789.7,277.1 799.2,293.7 827.7,307.6 837.2,221.4 865.7,204.9 875.1,215.1 894.1,201.6 932.1,208.3 951.1,208.3 960.6,206.8 970.0,211.5 989.0,226.7 998.5,226.7 1008.0,219.0"/>
<polyline stroke="#ff2a2a" points="106.5,287.6 125.5,292.2 153.9,292.2 163.4,294.5 191.9,285.3 229.9,285.3 258.3,278.0 286.8,289.2 305.8,289.2 315.3,209.7 353.2,209.7 391.2,193.9 419.6,206.4 448.1,206.4 457.6,286.0 495.6,286.0 533.5,299.9 543.0,275.6 552.5,287.1 571.5,281.8 599.9,278.3 609.4,282.7 647.4,275.9 666.4,297.5 694.8,312.8 732.8,302.5 770.8,309.4 799.2,312.4 818.2,311.4 837.2,266.2 856.2,266.2 884.6,279.5 922.6,272.7 932.1,290.2 941.6,290.9 1008.0,290.9"/>
<polyline stroke="#33cc33" points="106.5,308.6 116.0,307.1 125.5,308.7 144.4,307.1 153.9,309.6 163.4,313.1 172.9,317.5 182.4,324.2 191.9,321.2 210.9,318.2 229.9,321.7 239.3,318.9 248.8,302.6 258.3,310.2 286.8,325.9 296.3,332.5 305.8,334.2 315.3,328.5 334.2,321.6 343.7,316.3 353.2,309.6 362.7,305.8 372.2,304.6 381.7,300.8 391.2,299.1 400.7,299.4 410.2,305.0 419.6,307.0 429.1,310.5 438.6,311.0 448.1,310.5 457.6,313.7 467.1,320.1 476.6,329.1 486.1,341.1 495.6,341.1 505.1,339.9 514.5,335.9 524.0,334.3 533.5,339.6 543.0,341.1 552.5,341.1 562.0,339.7 571.5,341.1 581.0,340.0 599.9,331.9 609.4,315.8 618.9,311.6 637.9,298.6 647.4,297.2 656.9,297.4 666.4,301.9 675.9,301.9 685.4,323.4 694.8,341.1 723.3,341.1 732.8,331.3 742.3,341.1 808.7,341.1 818.2,338.8 827.7,334.0 837.2,334.6 846.7,332.5 856.2,328.0 865.7,326.6 894.1,308.3 903.6,331.3 913.1,330.4 922.6,328.0 932.1,328.1 941.6,326.1 951.1,306.1 960.6,306.3 970.0,304.8 979.5,306.6 989.0,305.3 998.5,316.2 1008.0,311.3"/>
<polyline stroke="#555555" points="106.5,319.1 210.9,319.1 239.3,321.8 267.8,272.3 305.8,322.9 315.3,250.5 353.2,250.5 381.7,233.4 391.2,201.7 410.2,220.8 438.6,197.4 448.1,264.1 476.6,298.3 495.6,265.8 524.0,291.8 543.0,312.1 562.0,312.1 571.5,297.7 581.0,297.7 590.5,315.5 609.4,315.5 637.9,309.3 656.9,303.4 685.4,288.2 713.8,288.2 751.8,297.9 827.7,310.9 865.7,309.9 875.1,282.4 913.1,257.7 951.1,280.5 989.0,284.5 1008.0,319.8"/>
<polyline stroke="#3a0f2a" points="106.5,259.1 116.0,253.3 135.0,248.9 144.4,253.0 153.9,253.4 163.4,268.5 172.9,255.5 182.4,249.3 191.9,244.5 201.4,238.3 210.9,234.5 220.4,232.3 239.3,232.0 248.8,233.6 258.3,231.8 267.8,234.1 277.3,234.4 286.8,236.3 296.3,230.9 305.8,212.7 315.3,239.2 324.8,238.5 334.2,241.6 353.2,194.2 362.7,193.8 372.2,191.9 381.7,193.2 391.2,195.6 400.7,206.8 429.1,206.4 438.6,228.2 457.6,201.2 467.1,212.7 476.6,233.5 486.1,252.0 495.6,250.1 505.1,251.8 514.5,248.5 524.0,250.0 533.5,250.0 552.5,232.6 562.0,226.7 571.5,233.3 581.0,235.8 590.5,237.0 599.9,237.3 609.4,265.2 628.4,235.1 637.9,246.6 647.4,259.9 666.4,293.1 694.8,250.7 704.3,251.9 713.8,251.6 723.3,254.7 732.8,271.2 742.3,289.9 751.8,291.1 761.3,289.7 770.8,289.0 780.2,270.9 789.7,240.2 799.2,242.1 808.7,239.8 818.2,221.5 827.7,235.3 846.7,286.9 865.7,265.9 875.1,253.4 884.6,333.8 903.6,293.1 913.1,238.6 922.6,242.4 932.1,249.1 941.6,251.7 960.6,232.4 970.0,208.8 979.5,210.1 989.0,210.1 998.5,208.0 1008.0,211.3"/>
<polyline stroke="#33cc33" points="106.5,329.8 116.0,329.5 125.5,320.8 135.0,318.9 144.4,319.2 153.9,322.2 163.4,319.8 182.4,320.0 191.9,311.3 201.4,305.6 210.9,306.4 220.4,305.8 229.9,303.5 239.3,307.1 248.8,318.0 258.3,319.3 267.8,319.2 286.8,314.8 296.3,308.6 315.3,301.7 324.8,299.6 334.2,302.7 343.7,300.8 353.2,310.1 362.7,308.6 381.7,301.0 391.2,301.1 410.2,299.9 419.6,303.5 429.1,308.5 448.1,315.0 457.6,315.6 467.1,319.4 476.6,320.5 486.1,319.4 495.6,310.0 514.5,306.2 524.0,302.6 533.5,305.0 543.0,303.0 552.5,307.9 562.0,310.5 571.5,311.6 581.0,317.2 590.5,320.4 609.4,325.2 618.9,325.3 628.4,320.1 637.9,318.5 647.4,312.8 656.9,310.1 666.4,302.7 675.9,307.9 685.4,307.3 694.8,311.8 704.3,309.0 723.3,310.0 732.8,308.2 742.3,302.2 761.3,287.1 770.8,289.8 780.2,294.6 789.7,302.5 799.2,303.4 808.7,301.7 827.7,307.8 837.2,312.2 846.7,312.2 856.2,311.5 865.7,309.2 875.1,317.1 894.1,322.2 903.6,322.1 913.1,322.9 922.6,325.9 932.1,334.6 941.6,341.1 960.6,341.1 970.0,338.3 979.5,329.7 998.5,332.4 1008.0,334.8"/>
<polyline stroke="#33dd33" points="106.5,137.3 116.0,163.7 125.5,243.1 135.0,246.1 144.4,236.8 163.4,263.3 172.9,278.7 182.4,222.0 191.9,223.2 201.4,226.2 210.9,230.5 229.9,218.4 239.3,214.8 258.3,210.6 267.8,210.6 286.8,199.1 296.3,225.3 305.8,236.1 315.3,242.8 324.8,254.9 334.2,256.0 343.7,246.9 353.2,239.5 362.7,236.8 372.2,237.5 381.7,236.1 391.2,231.0 410.2,213.1 419.6,211.9 438.6,212.6 448.1,230.8 457.6,237.4 467.1,239.7 476.6,245.6 486.1,226.7 495.6,213.2 505.1,229.1 514.5,218.9 524.0,206.4 533.5,217.3 543.0,225.3 581.0,193.5 590.5,183.8 599.9,176.4 618.9,227.0 628.4,212.3 637.9,195.1 647.4,198.7 656.9,197.6 675.9,199.5 685.4,208.9 694.8,214.1 704.3,215.6 723.3,197.9 732.8,192.2 742.3,182.3 751.8,174.1 761.3,183.9 770.8,190.5 780.2,199.1 789.7,203.5 799.2,156.4 808.7,163.0 818.2,165.9 827.7,173.2 837.2,177.6 856.2,189.2 865.7,190.6 875.1,191.3 884.6,194.0 894.1,189.1 913.1,176.9 922.6,201.4 932.1,199.2 941.6,201.1 951.1,201.8 960.6,217.1 970.0,234.4 979.5,249.6 989.0,238.6 998.5,224.0 1008.0,207.5"/>
<polyline stroke="#4fa0ee" points="106.5,249.9 116.0,261.2 153.9,265.4 172.9,265.4 201.4,228.4 239.3,236.8 277.3,236.8 305.8,253.5 315.3,202.8 353.2,199.2 362.7,192.7 381.7,224.5 400.7,210.6 410.2,226.2 448.1,232.2 457.6,288.4 467.1,288.4 476.6,254.8 514.5,259.6 543.0,257.5 562.0,251.9 599.9,260.6 637.9,266.7 647.4,259.7 675.9,252.0 713.8,268.0 751.8,270.9 770.8,258.9 808.7,248.1 818.2,252.8 846.7,256.1 875.1,256.1 913.1,261.9 922.6,268.1 932.1,247.2 960.6,242.5 1008.0,242.5"/>
<polyline stroke="#8a8a00" points="106.5,151.4 116.0,159.9 125.5,235.6 135.0,242.2 144.4,213.5 163.4,219.9 172.9,221.8 182.4,225.5 201.4,217.4 220.4,233.4 229.9,220.7 248.8,201.3 258.3,200.6 286.8,193.6 296.3,214.5 305.8,188.9 324.8,191.6 334.2,191.3 353.2,194.3 372.2,191.1 381.7,192.7 391.2,220.0 400.7,218.4 419.6,226.2 429.1,233.6 438.6,245.1 448.1,252.7 457.6,242.0 476.6,224.7 495.6,190.9 505.1,204.5 514.5,214.5 524.0,206.1 533.5,198.8 543.0,194.3 552.5,208.3 562.0,224.9 571.5,195.7 581.0,198.0 599.9,195.8 628.4,276.4 637.9,262.5 647.4,243.6 656.9,227.8 666.4,230.0 675.9,228.9 685.4,223.3 694.8,218.8 704.3,223.1 713.8,222.4 723.3,218.3 732.8,217.5 742.3,223.3 751.8,224.9 761.3,200.4 770.8,219.3 780.2,235.3 789.7,238.9 799.2,234.6 808.7,234.0 818.2,238.0 827.7,239.3 846.7,266.4 856.2,275.1 865.7,257.6 884.6,192.3 903.6,198.9 913.1,198.5 922.6,194.5 932.1,191.4 941.6,190.5 951.1,188.5 960.6,188.7 979.5,218.5 989.0,230.6 998.5,240.8 1008.0,255.1"/>
<polyline stroke="#ff5a10" points="106.5,194.9 116.0,195.1 125.5,194.2 135.0,191.1 144.4,229.5 153.9,214.4 172.9,230.2 182.4,241.1 191.9,237.1 210.9,240.2 229.9,235.0 239.3,236.0 248.8,235.1 267.8,231.4 277.3,234.8 286.8,207.5 305.8,156.7 315.3,227.1 324.8,214.4 334.2,207.0 343.7,220.2 353.2,206.6 362.7,219.5 372.2,234.5 381.7,246.0 391.2,269.2 400.7,259.2 410.2,191.1 419.6,198.3 438.6,225.8 448.1,188.1 457.6,193.3 467.1,195.6 476.6,200.3 486.1,187.4 495.6,202.2 505.1,209.9 514.5,213.1 524.0,211.3 533.5,206.1 543.0,204.1 552.5,204.3 562.0,205.7 571.5,210.7 581.0,214.8 590.5,211.0 599.9,211.0 609.4,215.4 628.4,221.6 637.9,222.6 647.4,217.7 656.9,211.5 666.4,213.0 675.9,213.2 685.4,225.4 694.8,222.9 713.8,222.7 723.3,209.7 732.8,204.8 742.3,204.7 751.8,205.3 761.3,202.7 770.8,199.2 780.2,197.7 799.2,189.0 808.7,188.4 818.2,188.7 827.7,189.7 837.2,198.2 846.7,200.3 856.2,199.9 875.1,221.0 884.6,230.3 894.1,213.9 903.6,193.6 913.1,201.1 922.6,200.9 932.1,203.6 951.1,198.7 960.6,199.2 970.0,187.8 989.0,169.3 998.5,209.8 1008.0,210.7"/>
<polyline stroke="#555555" points="106.5,276.7 135.0,276.7 144.4,280.8 163.4,280.8 191.9,268.3 220.4,294.5 258.3,275.9 277.3,258.5 296.3,279.1 324.8,281.9 334.2,266.1 362.7,266.1 381.7,286.8 410.2,297.3 438.6,293.6 448.1,284.3 486.1,284.3 514.5,290.6 552.5,287.7 562.0,287.7 590.5,289.8 599.9,269.4 637.9,284.0 656.9,284.0 666.4,274.9 704.3,261.1 723.3,259.2 751.8,267.8 761.3,311.2 799.2,300.7 827.7,281.5 837.2,199.0 856.2,202.9 894.1,205.7 922.6,198.9 932.1,178.9 951.1,175.6 960.6,188.3 989.0,209.1 1008.0,209.1"/>
<polyline stroke="#4fa0ee" points="106.5,284.0 116.0,297.2 144.4,297.2 172.9,317.8 210.9,316.8 229.9,329.2 248.8,292.9 286.8,325.6 296.3,289.8 324.8,306.9 362.7,292.1 372.2,265.7 400.7,297.6 419.6,258.3 429.1,269.9 448.1,269.9 476.6,246.9 495.6,252.2 533.5,267.6 552.5,279.0 581.0,290.3 599.9,290.3 609.4,274.6 647.4,283.3 675.9,268.5 704.3,270.6 732.8,260.9 742.3,274.8 770.8,254.5 799.2,239.6 827.7,245.8 837.2,177.6 846.7,177.6 856.2,200.6 894.1,200.2 913.1,240.6 951.1,212.1 989.0,237.6 1008.0,213.2"/>
<polyline stroke="#3a0f2a" points="106.5,296.7 116.0,293.4 125.5,315.5 135.0,318.2 144.4,316.9 153.9,314.2 163.4,319.4 172.9,316.2 182.4,307.5 191.9,293.2 210.9,309.1 220.4,301.9 229.9,298.7 239.3,290.4 248.8,289.1 258.3,287.0 267.8,308.7 277.3,317.2 286.8,327.1 305.8,299.5 334.2,308.2 343.7,304.3 362.7,301.8 372.2,296.8 381.7,293.9 391.2,291.9 400.7,294.9 410.2,296.4 419.6,296.8 429.1,303.8 438.6,288.7 448.1,288.1 457.6,293.9 467.1,295.4 476.6,283.4 486.1,273.2 495.6,270.5 505.1,270.3 514.5,269.0 533.5,287.3 543.0,295.1 552.5,285.9 562.0,290.5 571.5,292.5 599.9,306.3 618.9,286.6 637.9,292.7 647.4,300.1 656.9,301.1 666.4,299.5 675.9,303.9 685.4,315.5 694.8,314.0 704.3,306.6 713.8,319.2 723.3,334.5 742.3,315.4 751.8,325.4 761.3,337.5 770.8,338.5 780.2,337.5 789.7,333.7 808.7,320.7 837.2,323.6 846.7,322.2 865.7,283.9 884.6,291.4 894.1,292.2 913.1,304.1 922.6,306.3 932.1,310.3 941.6,319.7 951.1,322.6 960.6,322.5 970.0,326.0 979.5,313.8 989.0,307.0 998.5,307.6 1008.0,306.2"/>
<polyline stroke="#1f5fff" points="106.5,313.0 125.5,328.4 135.0,334.0 144.4,329.0 153.9,322.7 163.4,318.1 182.4,302.7 191.9,298.8 201.4,297.8 220.4,287.2 229.9,299.2 239.3,315.9 248.8,329.9 258.3,321.5 267.8,311.1 277.3,311.8 315.3,303.9 324.8,304.5 334.2,311.7 343.7,302.0 353.2,297.4 362.7,302.8 372.2,294.1 381.7,296.8 400.7,304.0 419.6,291.1 429.1,291.8 438.6,290.4 457.6,292.3 467.1,294.7 486.1,291.8 495.6,289.6 505.1,296.1 514.5,301.4 524.0,309.1 533.5,304.5 543.0,300.8 552.5,302.2 571.5,307.6 581.0,314.3 590.5,317.8 599.9,315.3 609.4,309.5 618.9,305.0 628.4,307.2 647.4,314.2 666.4,318.7 675.9,316.7 685.4,322.8 694.8,321.6 704.3,325.3 713.8,334.2 723.3,292.3 732.8,293.8 742.3,299.5 751.8,294.9 761.3,292.1 770.8,290.1 780.2,316.8 789.7,313.9 799.2,307.9 808.7,299.9 818.2,300.2 827.7,289.1 846.7,281.4 856.2,279.7 865.7,272.4 875.1,284.5 884.6,298.5 894.1,307.1 903.6,301.0 913.1,290.6 922.6,282.8 932.1,289.5 941.6,299.5 951.1,307.3 960.6,296.7 970.0,288.5 979.5,282.7 989.0,283.0 998.5,286.8 1008.0,289.3"/>
<polyline stroke="#ff5a10" points="106.5,173.8 116.0,177.0 135.0,180.2 144.4,183.9 153.9,190.2 163.4,202.9 172.9,213.6 182.4,207.8 191.9,215.9 201.4,221.4 210.9,224.9 220.4,224.7 229.9,222.3 239.3,221.7 248.8,209.1 267.8,188.2 277.3,208.8 296.3,189.6 305.8,181.2 315.3,180.5 334.2,170.1 343.7,179.5 362.7,190.1 372.2,200.7 381.7,208.6 391.2,199.2 400.7,187.8 410.2,190.1 419.6,185.6 429.1,171.4 438.6,159.9 448.1,146.8 457.6,162.9 467.1,184.3 486.1,172.8 505.1,164.2 514.5,157.8 533.5,152.2 543.0,236.0 552.5,226.8 562.0,215.7 571.5,207.3 581.0,209.7 599.9,217.0 609.4,217.2 618.9,216.5 628.4,250.4 637.9,280.6 647.4,266.9 656.9,254.7 666.4,254.5 685.4,215.7 694.8,199.0 723.3,242.3 732.8,213.0 742.3,230.4 751.8,240.7 761.3,253.6 770.8,245.0 780.2,241.6 789.7,235.6 799.2,213.7 808.7,240.5 818.2,237.3 827.7,221.7 837.2,174.0 846.7,181.5 865.7,202.1 875.1,222.7 884.6,247.1 894.1,239.5 913.1,221.1 922.6,188.5 932.1,174.0 941.6,162.1 951.1,170.4 960.6,186.2 970.0,188.8 979.5,197.8 989.0,202.5 998.5,192.6 1008.0,197.4"/>
<polyline stroke="#e81c4c" points="106.5,176.1 116.0,210.9 125.5,260.7 144.4,233.0 153.9,266.3 163.4,270.1 172.9,251.6 182.4,244.0 191.9,238.7 201.4,240.1 210.9,252.3 229.9,284.7 239.3,236.8 258.3,243.3 277.3,262.7 286.8,274.0 296.3,274.8 305.8,271.6 315.3,269.5 324.8,265.9 334.2,267.0 343.7,266.4 353.2,264.6 362.7,267.2 372.2,249.4 381.7,226.2 391.2,236.4 400.7,253.0 410.2,265.7 419.6,257.7 429.1,254.5 438.6,262.2 448.1,260.2 467.1,258.6 476.6,279.8 486.1,297.5 495.6,313.5 505.1,313.2 514.5,309.3 524.0,303.9 533.5,275.0 543.0,248.8 552.5,245.0 562.0,239.2 571.5,230.5 581.0,251.5 590.5,239.0 599.9,242.7 618.9,259.3 628.4,298.0 647.4,283.5 656.9,281.0 666.4,281.4 675.9,280.3 685.4,292.5 704.3,312.5 713.8,277.1 723.3,269.5 732.8,258.3 742.3,251.1 751.8,250.4 761.3,259.3 770.8,264.0 780.2,273.3 799.2,274.1 808.7,256.2 827.7,257.0 837.2,258.8 846.7,261.8 865.7,265.6 875.1,264.4 894.1,259.7 903.6,260.7 913.1,260.4 922.6,260.8 932.1,283.5 941.6,290.0 960.6,304.9 970.0,310.3 979.5,318.8 1008.0,256.7"/>
<polyline stroke="#8a5cff" points="106.5,309.7 135.0,299.6 144.4,299.9 153.9,307.3 163.4,307.6 172.9,312.7 182.4,321.5 191.9,322.3 201.4,320.2 210.9,315.5 220.4,314.4 229.9,310.5 239.3,308.9 248.8,303.1 258.3,296.2 277.3,297.6 296.3,302.8 305.8,302.6 315.3,305.7 324.8,305.3 334.2,311.2 343.7,315.6 353.2,318.9 362.7,311.6 372.2,306.6 381.7,312.2 391.2,309.0 400.7,316.0 410.2,319.1 419.6,323.6 429.1,322.0 448.1,323.1 457.6,322.2 467.1,323.9 476.6,319.8 486.1,326.4 495.6,334.4 505.1,332.7 514.5,327.6 524.0,324.5 533.5,324.9 543.0,323.9 552.5,321.9 562.0,322.2 571.5,317.9 590.5,319.0 618.9,333.0 637.9,308.5 647.4,312.0 656.9,318.0 666.4,316.3 675.9,318.5 685.4,319.0 694.8,323.4 704.3,329.4 713.8,329.3 723.3,327.1 732.8,323.4 742.3,321.9 751.8,317.6 761.3,316.8 770.8,322.0 789.7,320.7 799.2,318.0 808.7,312.8 818.2,311.1 827.7,316.0 846.7,321.9 856.2,324.0 865.7,328.8 875.1,315.8 884.6,318.8 894.1,322.8 903.6,319.3 913.1,322.5 922.6,311.8 932.1,305.5 951.1,311.3 960.6,317.1 970.0,319.2 979.5,324.1 989.0,324.5 1008.0,330.7"/>
<polyline stroke="#ff2a2a" points="106.5,295.8 135.0,268.2 172.9,281.1 210.9,308.6 229.9,285.4 248.8,305.5 286.8,294.4 305.8,292.3 315.3,216.1 324.8,215.0 343.7,207.9 353.2,195.3 429.1,194.3 438.6,215.7 476.6,248.1 505.1,219.5 514.5,292.1 524.0,289.4 562.0,259.0 618.9,271.5 656.9,286.7 694.8,305.2 732.8,300.5 751.8,275.7 789.7,274.1 827.7,257.6 846.7,269.5 884.6,268.3 913.1,277.3 932.1,277.3 960.6,274.8 989.0,296.8 998.5,278.7 1008.0,296.1"/>
<polyline stroke="#e81c4c" points="106.5,276.4 116.0,288.8 135.0,272.4 144.4,269.2 163.4,257.1 172.9,256.7 182.4,260.5 191.9,270.8 201.4,256.4 210.9,253.9 220.4,257.6 239.3,319.8 248.8,310.0 258.3,301.9 267.8,301.8 277.3,259.1 286.8,258.4 296.3,255.5 305.8,264.1 315.3,274.2 324.8,281.5 334.2,282.2 343.7,270.2 353.2,254.1 362.7,249.7 372.2,250.6 381.7,250.0 391.2,247.4 410.2,236.7 429.1,236.0 438.6,257.6 448.1,274.1 457.6,275.5 467.1,277.8 476.6,275.2 486.1,262.0 505.1,243.0 514.5,242.2 524.0,233.8 533.5,228.7 543.0,233.4 552.5,237.0 562.0,235.6 571.5,230.0 581.0,228.6 590.5,245.4 599.9,264.0 609.4,264.9 618.9,267.0 628.4,255.0 637.9,249.5 647.4,238.3 656.9,230.7 666.4,219.4 675.9,228.1 685.4,233.7 694.8,240.5 704.3,262.8 723.3,261.3 732.8,262.5 742.3,249.8 751.8,239.2 761.3,225.3 770.8,226.3 780.2,223.1 789.7,228.0 799.2,241.2 808.7,251.1 818.2,252.6 827.7,258.5 837.2,231.9 856.2,267.6 865.7,283.7 875.1,292.5 884.6,302.6 894.1,298.7 903.6,224.9 913.1,229.2 922.6,247.6 932.1,235.8 941.6,226.4 951.1,233.0 960.6,245.6 970.0,248.3 989.0,248.0 998.5,241.6 1008.0,275.5"/>
<polyline stroke="#3a0f2a" points="106.5,290.5 125.5,290.5 163.4,277.5 191.9,286.8 267.8,285.8 296.3,290.0 305.8,289.4 315.3,221.7 334.2,220.3 353.2,217.5 391.2,217.5 419.6,211.6 438.6,223.9 467.1,228.0 476.6,293.2 495.6,289.4 599.9,289.0 628.4,297.2 656.9,293.0 666.4,284.3 685.4,277.6 713.8,297.3 732.8,282.8 751.8,275.7 789.7,282.5 827.7,281.6 837.2,278.5 846.7,310.6 913.1,310.6 941.6,287.0 960.6,282.9 979.5,276.2 989.0,276.5 1008.0,285.7"/>
<polyline stroke="#33dd33" points="106.5,220.3 116.0,211.6 125.5,274.9 135.0,285.0 144.4,290.1 153.9,293.8 163.4,292.2 172.9,293.8 182.4,258.1 191.9,284.1 201.4,306.2 210.9,300.5 220.4,296.8 229.9,287.9 239.3,275.4 248.8,278.0 258.3,278.5 267.8,269.2 277.3,266.2 286.8,267.9 305.8,268.5 315.3,277.6 324.8,282.7 334.2,290.0 343.7,289.9 353.2,281.7 372.2,288.8 381.7,290.6 391.2,291.1 419.6,296.1 429.1,294.2 438.6,299.4 448.1,300.7 467.1,304.7 476.6,309.8 486.1,306.7 495.6,304.4 505.1,287.7 514.5,275.7 524.0,260.3 543.0,287.2 552.5,299.2 562.0,283.7 571.5,277.2 581.0,266.0 590.5,268.1 599.9,264.5 618.9,253.3 628.4,257.7 637.9,264.0 647.4,265.4 656.9,262.7 666.4,258.6 675.9,260.3 685.4,263.4 694.8,264.8 704.3,265.4 713.8,269.5 723.3,261.2 732.8,247.8 751.8,213.3 761.3,215.7 780.2,243.7 799.2,250.3 808.7,252.8 818.2,252.7 827.7,253.2 837.2,255.5 846.7,256.3 856.2,255.8 865.7,274.7 875.1,266.3 884.6,260.8 894.1,253.3 903.6,260.5 913.1,259.6 922.6,260.2 932.1,259.2 941.6,272.5 951.1,289.9 960.6,293.3 979.5,298.9 1008.0,236.3"/>
<polyline stroke="#ff2a2a" points="106.5,282.1 116.0,295.4 125.5,283.4 163.4,278.9 201.4,287.6 229.9,287.7 248.8,303.7 267.8,301.5 277.3,301.5 305.8,299.5 315.3,294.6 334.2,321.4 362.7,313.8 381.7,306.7 410.2,279.9 448.1,288.9 467.1,285.9 514.5,286.0 543.0,295.4 562.0,276.0 590.5,276.0 628.4,302.1 694.8,302.1 732.8,266.2 761.3,296.4 799.2,292.4 818.2,292.4 827.7,286.9 837.2,230.7 846.7,225.1 884.6,245.8 913.1,254.3 932.1,271.5 960.6,241.3 998.5,232.4 1008.0,211.7"/>
<polyline stroke="#ff5a10" points="106.5,319.7 116.0,322.8 125.5,322.4 135.0,322.8 144.4,316.0 153.9,314.0 163.4,309.2 172.9,312.9 182.4,318.7 191.9,312.4 201.4,302.2 210.9,297.8 220.4,295.7 229.9,292.4 239.3,287.1 248.8,306.2 258.3,321.5 267.8,278.9 277.3,241.3 286.8,318.0 296.3,305.9 305.8,298.0 315.3,296.0 324.8,300.1 334.2,283.0 343.7,285.6 353.2,284.5 372.2,269.3 391.2,271.8 400.7,274.0 410.2,275.4 419.6,276.2 429.1,281.5 438.6,284.4 448.1,282.7 457.6,279.8 467.1,245.2 486.1,281.6 505.1,232.0 514.5,242.5 524.0,251.6 533.5,264.4 543.0,265.4 552.5,259.4 571.5,240.9 590.5,283.0 599.9,284.8 609.4,285.7 628.4,282.5 637.9,285.5 647.4,285.7 656.9,289.7 675.9,304.1 685.4,314.3 704.3,321.4 713.8,318.7 723.3,290.9 732.8,257.7 742.3,262.1 751.8,263.3 761.3,266.3 770.8,305.3 780.2,311.8 789.7,317.0 799.2,321.2 818.2,253.9 827.7,270.4 837.2,289.7 846.7,305.9 856.2,309.6 865.7,304.8 875.1,302.0 884.6,311.5 903.6,326.4 913.1,252.1 922.6,250.6 941.6,337.0 951.1,339.6 960.6,339.4 970.0,339.9 979.5,338.7 989.0,324.5 998.5,314.0 1008.0,328.8"/>
<polyline stroke="#4fa0ee" points="106.5,292.3 182.4,301.6 220.4,295.7 248.8,314.1 258.3,329.5 286.8,317.4 305.8,319.9 315.3,262.4 324.8,216.4 334.2,216.4 372.2,240.5 381.7,240.5 419.6,222.8 429.1,216.7 438.6,280.5 467.1,299.6 476.6,299.6 486.1,250.6 524.0,253.8 562.0,259.5 581.0,279.3 618.9,291.0 637.9,286.0 647.4,302.2 675.9,312.5 685.4,290.7 723.3,323.0 732.8,301.2 770.8,276.1 789.7,276.1 818.2,296.9 856.2,306.1 875.1,264.9 903.6,281.0 951.1,281.0 970.0,292.4 979.5,310.4 1008.0,310.4"/>
<polyline stroke="#33cc33" points="106.5,313.8 116.0,315.4 125.5,315.4 135.0,325.2 144.4,330.9 153.9,333.2 163.4,332.2 172.9,325.6 182.4,320.4 191.9,323.7 201.4,332.2 210.9,333.5 220.4,329.8 229.9,331.4 248.8,328.3 258.3,331.8 267.8,331.2 277.3,329.8 296.3,307.5 305.8,311.3 315.3,320.3 324.8,317.8 334.2,313.1 343.7,313.5 353.2,311.3 362.7,322.0 372.2,337.0 381.7,332.2 391.2,329.4 400.7,339.8 410.2,341.1 419.6,341.1 429.1,337.5 438.6,336.7 457.6,338.8 467.1,332.3 476.6,328.0 486.1,325.1 495.6,327.9 505.1,325.3 514.5,323.7 524.0,323.5 533.5,322.1 543.0,323.5 562.0,330.5 571.5,331.1 581.0,329.0 590.5,329.2 599.9,326.0 609.4,314.8 618.9,319.6 628.4,322.4 637.9,328.3 647.4,323.6 656.9,322.1 666.4,321.7 675.9,319.9 685.4,322.7 694.8,319.5 704.3,320.1 713.8,319.4 723.3,321.3 732.8,316.6 751.8,304.6 761.3,310.5 770.8,321.7 780.2,312.2 789.7,319.5 799.2,323.9 808.7,323.7 818.2,313.9 827.7,316.1 837.2,317.1 865.7,324.8 875.1,315.9 884.6,312.9 894.1,312.2 903.6,310.3 913.1,313.9 922.6,320.9 932.1,326.2 941.6,335.0 951.1,339.4 970.0,341.1 979.5,331.6 989.0,324.4 998.5,328.6 1008.0,329.9"/>
<polyline stroke="#555555" points="106.5,207.4 116.0,209.4 125.5,262.1 153.9,263.6 163.4,260.4 172.9,258.1 182.4,253.8 191.9,254.2 201.4,262.5 210.9,268.9 220.4,274.2 229.9,273.8 239.3,268.8 248.8,267.2 258.3,264.0 267.8,263.2 277.3,263.6 286.8,238.2 296.3,266.8 305.8,253.6 315.3,254.8 334.2,232.9 343.7,280.3 362.7,278.6 372.2,278.5 381.7,275.4 391.2,259.7 400.7,248.8 410.2,246.8 419.6,237.2 429.1,242.3 448.1,255.7 467.1,219.5 476.6,240.9 486.1,259.3 495.6,253.5 514.5,254.7 524.0,253.4 533.5,267.4 543.0,278.2 562.0,268.3 571.5,269.3 581.0,270.9 590.5,271.8 599.9,273.8 609.4,278.5 618.9,282.4 628.4,285.0 637.9,290.9 647.4,291.9 656.9,289.7 666.4,289.3 685.4,296.8 704.3,300.4 713.8,299.4 723.3,266.8 732.8,318.2 742.3,312.9 761.3,270.7 770.8,277.7 780.2,288.9 799.2,273.1 808.7,266.4 818.2,269.6 827.7,270.1 837.2,275.0 846.7,278.7 856.2,297.2 865.7,299.0 875.1,302.1 884.6,306.3 894.1,312.3 903.6,293.6 913.1,276.7 932.1,275.1 941.6,277.5 951.1,274.5 960.6,275.5 970.0,277.9 989.0,292.8 998.5,285.3 1008.0,282.4"/>
<polyline stroke="#e81c4c" points="106.5,240.0 116.0,239.9 135.0,270.6 144.4,266.8 153.9,266.2 163.4,267.4 172.9,240.2 182.4,217.1 191.9,177.1 210.9,176.2 220.4,178.8 229.9,244.0 248.8,233.2 277.3,280.3 286.8,294.3 296.3,293.4 305.8,293.7 315.3,296.0 334.2,295.2 343.7,296.8 353.2,300.5 372.2,268.5 381.7,250.4 391.2,251.3 410.2,247.2 419.6,248.4 429.1,245.7 438.6,229.8 448.1,218.9 457.6,212.6 467.1,209.4 476.6,216.1 486.1,231.7 495.6,240.8 505.1,235.3 524.0,227.2 533.5,225.5 543.0,232.1 562.0,247.3 571.5,248.1 581.0,275.9 590.5,270.7 599.9,269.8 609.4,275.0 618.9,277.1 637.9,260.1 647.4,248.9 666.4,248.4 675.9,246.7 685.4,219.9 694.8,190.5 704.3,233.5 723.3,265.0 732.8,274.3 742.3,276.7 761.3,269.4 770.8,269.2 780.2,219.6 789.7,175.3 799.2,193.7 808.7,214.6 818.2,229.8 837.2,265.6 846.7,247.7 865.7,216.8 875.1,222.0 884.6,233.9 894.1,231.7 903.6,227.9 913.1,208.5 922.6,186.3 932.1,168.8 951.1,170.1 960.6,173.9 970.0,189.3 979.5,199.6 989.0,218.6 998.5,231.3 1008.0,219.2"/>
<polyline stroke="#555555" points="106.5,303.4 144.4,287.0 153.9,305.1 172.9,302.2 191.9,303.0 201.4,309.7 220.4,309.7 286.8,302.7 324.8,275.2 353.2,286.7 362.7,286.7 381.7,301.1 400.7,273.6 429.1,295.2 505.1,295.2 524.0,286.0 543.0,302.2 571.5,285.1 609.4,293.0 618.9,293.0 656.9,311.3 713.8,289.8 751.8,297.4 761.3,297.4 770.8,317.7 808.7,297.6 827.7,297.5 837.2,216.1 865.7,201.7 913.1,246.5 932.1,197.2 951.1,192.4 979.5,192.4 1008.0,209.9"/>
<polyline stroke="#555555" points="106.5,270.7 125.5,273.0 135.0,269.1 163.4,269.1 172.9,243.5 182.4,272.2 210.9,287.0 239.3,269.9 286.8,269.9 305.8,271.2 315.3,210.0 334.2,203.9 343.7,186.1 372.2,186.1 381.7,222.4 410.2,219.1 419.6,269.1 429.1,257.3 486.1,257.3 495.6,286.6 524.0,286.6 562.0,271.6 581.0,271.6 609.4,258.8 637.9,258.8 675.9,272.3 694.8,246.9 704.3,256.2 742.3,279.8 770.8,259.1 808.7,302.4 827.7,302.4 837.2,253.6 846.7,275.2 875.1,281.0 913.1,281.0 951.1,291.8 998.5,291.8 1008.0,259.7"/>
<polyline stroke="#3a0f2a" points="106.5,157.2 116.0,169.5 125.5,183.8 135.0,195.2 144.4,192.0 153.9,190.0 163.4,182.4 172.9,168.7 182.4,172.6 191.9,172.5 201.4,171.2 210.9,173.4 229.9,172.3 248.8,155.6 258.3,173.1 267.8,169.6 277.3,164.5 286.8,174.1 296.3,182.4 305.8,189.6 315.3,239.8 324.8,237.9 334.2,231.7 343.7,227.8 353.2,167.7 362.7,156.5 372.2,160.9 391.2,178.6 400.7,172.9 419.6,169.1 429.1,172.8 448.1,188.4 457.6,187.0 476.6,187.7 486.1,189.4 495.6,173.3 505.1,153.2 514.5,170.3 524.0,162.1 543.0,171.4 552.5,177.7 562.0,192.9 571.5,213.8 581.0,229.8 590.5,229.0 599.9,225.6 609.4,197.8 618.9,172.7 628.4,154.5 637.9,170.7 656.9,200.2 666.4,197.9 675.9,196.3 685.4,205.1 694.8,181.6 704.3,182.3 713.8,184.9 723.3,183.0 732.8,159.4 742.3,158.9 751.8,161.5 770.8,151.5 789.7,167.1 799.2,183.6 808.7,187.1 827.7,192.0 837.2,197.6 856.2,202.6 865.7,196.6 875.1,193.2 884.6,194.1 894.1,193.2 903.6,148.3 913.1,147.3 932.1,181.8 941.6,160.3 951.1,144.3 960.6,152.1 970.0,169.2 979.5,177.8 989.0,177.7 1008.0,164.9"/>
<polyline stroke="#ff5a10" points="106.5,255.2 116.0,251.7 125.5,253.1 135.0,251.2 144.4,261.8 153.9,268.4 163.4,272.8 182.4,260.8 191.9,261.9 201.4,260.6 210.9,264.4 220.4,264.8 229.9,262.9 239.3,266.4 248.8,261.2 258.3,262.4 267.8,281.9 277.3,304.4 286.8,275.3 296.3,249.1 305.8,248.5 315.3,253.7 334.2,250.0 343.7,250.8 353.2,236.6 362.7,239.1 372.2,240.7 381.7,286.0 400.7,248.5 419.6,292.2 429.1,272.1 448.1,250.1 457.6,236.6 476.6,229.2 486.1,223.1 495.6,234.0 505.1,242.4 514.5,253.6 524.0,262.6 533.5,257.7 543.0,262.4 552.5,261.3 562.0,263.8 571.5,264.7 581.0,254.6 590.5,239.9 599.9,243.3 609.4,245.8 618.9,244.7 628.4,241.4 637.9,239.9 647.4,233.2 656.9,234.9 666.4,239.3 675.9,240.9 685.4,238.4 694.8,245.9 704.3,255.9 713.8,263.9 723.3,219.9 732.8,255.1 742.3,255.1 751.8,254.2 761.3,254.1 770.8,246.3 780.2,250.3 789.7,250.1 799.2,252.7 808.7,253.7 827.7,265.4 846.7,275.5 856.2,271.4 875.1,275.5 884.6,273.7 894.1,278.2 903.6,278.0 913.1,239.2 922.6,245.5 932.1,284.1 941.6,268.7 960.6,316.3 970.0,304.2 979.5,290.0 998.5,240.1 1008.0,303.1"/>
<polyline stroke="#33dd33" points="106.5,273.6 116.0,250.0 135.0,250.0 163.4,260.8 201.4,255.4 220.4,232.3 229.9,234.9 267.8,223.3 305.8,237.0 315.3,174.5 334.2,168.8 362.7,168.4 381.7,204.0 391.2,203.7 419.6,197.7 448.1,168.4 467.1,182.1 505.1,184.9 533.5,173.3 543.0,229.1 571.5,258.9 599.9,248.2 609.4,267.3 647.4,267.3 685.4,264.0 713.8,296.1 742.3,296.1 780.2,267.5 808.7,250.6 846.7,286.1 856.2,300.0 894.1,265.3 913.1,254.3 932.1,277.5 951.1,250.2 960.6,222.3 989.0,248.7 1008.0,234.9"/>
<polyline stroke="#3a0f2a" points="106.5,333.4 125.5,321.3 135.0,314.2 153.9,327.9 163.4,335.7 172.9,341.1 191.9,341.1 201.4,337.8 210.9,323.7 220.4,325.6 229.9,331.4 239.3,335.2 248.8,333.3 258.3,334.6 267.8,337.6 277.3,335.1 296.3,315.7 305.8,317.1 315.3,315.2 324.8,317.9 334.2,317.6 343.7,319.2 362.7,326.0 372.2,327.5 381.7,332.8 391.2,341.0 400.7,338.1 410.2,331.0 419.6,329.1 429.1,324.0 438.6,316.8 448.1,311.8 457.6,314.9 467.1,315.4 476.6,318.2 486.1,307.2 495.6,315.6 505.1,310.9 514.5,319.0 524.0,321.0 533.5,321.7 543.0,319.6 552.5,319.4 562.0,317.8 571.5,328.0 581.0,327.5 590.5,328.3 599.9,332.1 609.4,337.1 618.9,339.7 628.4,323.4 647.4,320.0 656.9,319.4 666.4,322.4 675.9,330.7 685.4,333.1 694.8,334.7 713.8,330.9 723.3,329.9 732.8,330.1 742.3,333.0 751.8,331.2 761.3,331.9 780.2,314.7 789.7,307.0 799.2,317.2 808.7,318.5 818.2,321.4 827.7,320.9 837.2,321.3 846.7,320.2 856.2,325.5 865.7,341.1 875.1,340.5 884.6,338.4 894.1,341.1 960.6,341.1 970.0,337.7 979.5,338.5 989.0,336.2 998.5,335.9 1008.0,330.2"/>
<polyline stroke="#e81c4c" points="106.5,257.9 116.0,237.5 125.5,272.3 153.9,238.9 182.4,248.5 191.9,234.5 210.9,260.3 229.9,274.4 258.3,263.4 286.8,266.5 296.3,265.9 305.8,267.4 343.7,256.8 381.7,297.5 410.2,280.8 429.1,254.3 438.6,262.6 457.6,268.7 486.1,268.7 514.5,262.3 552.5,264.9 562.0,264.9 581.0,243.6 618.9,242.8 656.9,286.0 694.8,253.3 713.8,270.1 742.3,286.4 789.7,291.1 818.2,291.1 827.7,290.6 837.2,223.5 856.2,222.3 894.1,181.6 913.1,184.6 951.1,204.5 960.6,213.0 989.0,213.2 1008.0,202.4"/>
<polyline stroke="#c8960a" points="106.5,275.6 116.0,260.2 125.5,287.0 135.0,290.7 144.4,295.8 153.9,296.5 172.9,306.0 182.4,305.7 191.9,308.0 201.4,311.5 210.9,312.3 220.4,315.1 229.9,311.8 239.3,311.9 248.8,321.2 258.3,322.2 267.8,326.2 277.3,326.5 286.8,328.0 296.3,325.4 305.8,321.6 315.3,312.0 324.8,311.3 334.2,324.5 343.7,325.1 353.2,323.7 362.7,341.1 372.2,341.1 381.7,337.1 391.2,324.9 400.7,324.7 410.2,325.0 419.6,322.0 429.1,321.6 438.6,313.9 448.1,309.9 467.1,326.0 495.6,314.4 505.1,319.8 514.5,322.5 524.0,312.6 543.0,309.3 552.5,310.2 562.0,308.7 571.5,303.4 581.0,299.3 590.5,303.2 599.9,313.2 609.4,312.9 618.9,319.9 628.4,323.9 637.9,322.3 647.4,325.5 656.9,326.7 666.4,331.3 675.9,294.0 685.4,322.1 694.8,341.1 761.3,341.1 770.8,337.8 780.2,337.0 789.7,338.6 799.2,341.1 846.7,341.1 856.2,334.6 865.7,334.4 875.1,327.1 884.6,317.0 894.1,310.3 903.6,306.3 913.1,304.4 922.6,303.7 932.1,323.6 951.1,315.9 960.6,311.3 970.0,311.2 989.0,331.7 998.5,336.0 1008.0,335.3"/>
<polyline stroke="#33dd33" points="106.5,211.5 125.5,227.8 135.0,231.9 144.4,237.2 153.9,227.7 163.4,215.5 182.4,230.5 191.9,217.9 201.4,210.3 210.9,212.9 220.4,219.7 229.9,225.2 239.3,206.7 248.8,212.9 258.3,216.7 267.8,224.4 286.8,231.7 296.3,236.8 305.8,238.9 315.3,236.7 324.8,233.3 334.2,232.3 343.7,221.7 362.7,196.1 372.2,187.7 381.7,218.7 391.2,245.4 400.7,242.1 419.6,242.3 438.6,213.4 457.6,262.6 486.1,177.6 495.6,185.8 514.5,211.5 524.0,214.2 533.5,215.8 543.0,219.7 552.5,212.2 571.5,194.8 581.0,189.3 590.5,185.7 599.9,197.6 609.4,200.2 618.9,213.9 628.4,225.6 637.9,223.5 647.4,227.8 656.9,227.0 675.9,259.1 685.4,276.9 694.8,263.8 704.3,247.0 713.8,191.4 723.3,212.6 732.8,230.4 742.3,246.4 751.8,224.4 761.3,208.3 770.8,229.4 780.2,255.2 789.7,252.1 799.2,252.7 808.7,251.7 818.2,231.6 827.7,214.8 837.2,190.2 846.7,227.0 856.2,228.0 865.7,232.8 875.1,229.6 884.6,207.1 894.1,222.0 913.1,247.0 932.1,203.1 941.6,179.5 951.1,174.7 960.6,175.8 970.0,169.5 979.5,164.9 989.0,178.0 998.5,195.0 1008.0,209.7"/>
<polyline stroke="#4fa0ee" points="106.5,277.1 144.4,289.1 172.9,289.1 201.4,308.0 220.4,308.0 258.3,312.7 277.3,313.6 305.8,289.8 315.3,289.8 324.8,295.7 343.7,262.7 372.2,262.9 400.7,269.4 410.2,289.9 429.1,287.7 467.1,271.3 476.6,256.2 514.5,250.0 543.0,295.0 581.0,296.9 590.5,296.9 609.4,309.9 647.4,285.7 675.9,275.6 685.4,275.6 713.8,269.8 751.8,272.5 827.7,272.5 837.2,201.8 894.1,205.2 903.6,203.8 913.1,218.9 941.6,218.9 951.1,223.5 970.0,212.4 989.0,212.4 1008.0,227.6"/>
<polyline stroke="#8a5cff" points="106.5,270.6 116.0,274.3 125.5,328.6 135.0,309.8 144.4,303.4 153.9,294.4 163.4,293.4 172.9,294.5 182.4,294.0 191.9,284.2 201.4,268.2 220.4,280.1 239.3,290.2 248.8,283.0 258.3,282.9 267.8,280.3 277.3,273.4 286.8,269.6 296.3,266.7 305.8,268.7 324.8,281.7 334.2,291.3 343.7,290.9 353.2,286.5 362.7,290.2 372.2,292.8 381.7,293.2 391.2,295.5 400.7,294.1 410.2,289.0 419.6,290.3 438.6,288.2 457.6,294.1 467.1,294.1 476.6,304.4 486.1,309.7 514.5,304.8 524.0,305.8 533.5,310.7 543.0,311.8 552.5,310.5 562.0,298.5 571.5,288.1 581.0,275.1 590.5,272.9 599.9,267.3 609.4,264.7 628.4,268.3 637.9,280.8 647.4,291.7 656.9,282.3 666.4,280.3 685.4,272.2 694.8,273.8 713.8,280.3 732.8,277.6 751.8,278.2 761.3,280.1 770.8,287.5 780.2,289.3 789.7,286.7 799.2,285.1 808.7,285.7 818.2,285.6 827.7,293.6 837.2,298.6 846.7,296.1 856.2,294.7 865.7,294.7 875.1,297.0 884.6,297.3 894.1,299.7 903.6,303.4 932.1,273.3 941.6,265.5 951.1,289.7 960.6,291.8 970.0,297.8 979.5,298.9 989.0,298.8 998.5,302.7 1008.0,303.8"/>
<polyline stroke="#77dd00" points="106.5,203.1 125.5,205.7 135.0,204.5 144.4,249.9 153.9,240.3 163.4,232.5 182.4,214.4 191.9,219.8 201.4,227.7 210.9,221.8 229.9,255.8 248.8,285.9 258.3,281.7 267.8,275.9 286.8,256.1 296.3,257.3 305.8,265.8 324.8,280.9 334.2,282.0 343.7,225.7 353.2,226.6 372.2,230.1 391.2,283.1 400.7,262.7 410.2,238.9 419.6,212.1 429.1,202.5 438.6,190.8 457.6,184.2 467.1,184.7 476.6,183.6 495.6,278.8 505.1,271.2 524.0,232.2 533.5,230.3 543.0,230.7 562.0,190.9 581.0,216.6 590.5,228.0 609.4,182.1 618.9,156.1 628.4,144.2 637.9,182.9 647.4,172.7 656.9,165.5 666.4,172.8 675.9,184.4 685.4,192.1 704.3,251.0 713.8,283.3 742.3,239.4 751.8,232.5 761.3,223.9 770.8,211.5 789.7,193.2 799.2,231.2 808.7,227.4 827.7,247.8 837.2,255.5 846.7,233.6 856.2,233.0 865.7,217.5 884.6,201.3 894.1,192.3 903.6,190.2 913.1,184.5 922.6,187.0 932.1,186.1 941.6,190.9 951.1,191.3 970.0,190.3 979.5,183.1 989.0,193.0 998.5,198.3 1008.0,207.0"/>
<polyline stroke="#4fa0ee" points="106.5,272.3 135.0,272.3 172.9,269.5 201.4,250.1 239.3,265.4 248.8,264.7 258.3,264.7 277.3,279.7 305.8,279.7 315.3,204.0 343.7,208.9 381.7,204.6 410.2,189.2 419.6,280.4 438.6,308.1 457.6,308.1 495.6,310.0 524.0,301.5 543.0,270.1 552.5,295.1 581.0,280.1 599.9,280.1 637.9,258.1 656.9,240.6 694.8,258.5 713.8,258.5 723.3,268.8 751.8,257.5 865.7,258.1 894.1,282.4 913.1,259.1 951.1,232.8 989.0,230.5 998.5,261.0 1008.0,273.5"/>
<polyline stroke="#77dd00" points="106.5,303.7 116.0,303.6 125.5,317.6 135.0,330.1 144.4,322.9 153.9,317.5 163.4,307.8 172.9,300.8 182.4,295.0 191.9,291.1 201.4,290.2 210.9,294.1 220.4,294.9 229.9,285.7 239.3,278.1 248.8,277.8 258.3,273.7 267.8,271.8 277.3,279.8 286.8,290.6 296.3,299.5 305.8,298.8 315.3,311.8 324.8,310.6 334.2,301.7 343.7,302.2 353.2,301.2 362.7,293.8 372.2,291.8 391.2,285.4 400.7,289.7 410.2,286.4 419.6,288.3 429.1,276.5 438.6,280.4 457.6,320.9 476.6,326.6 486.1,310.0 505.1,310.3 524.0,317.2 533.5,318.2 543.0,317.1 552.5,312.1 562.0,300.6 571.5,295.4 581.0,292.1 590.5,291.7 599.9,290.3 609.4,290.0 618.9,298.7 656.9,324.3 666.4,325.1 675.9,331.9 685.4,333.3 694.8,335.7 704.3,330.5 713.8,327.0 732.8,307.9 742.3,301.9 761.3,314.4 770.8,309.4 780.2,302.5 789.7,302.2 799.2,312.3 808.7,302.9 818.2,295.0 827.7,304.9 846.7,283.7 856.2,286.0 875.1,295.3 884.6,300.6 894.1,307.1 903.6,292.8 913.1,308.8 922.6,307.7 932.1,301.0 941.6,300.3 951.1,300.4 960.6,295.9 989.0,318.1 998.5,319.4 1008.0,315.7"/>
<polyline stroke="#3a0f2a" points="106.5,339.1 116.0,341.0 135.0,341.1 144.4,337.9 153.9,332.7 163.4,337.8 172.9,341.1 191.9,341.1 201.4,336.0 210.9,297.1 229.9,291.6 239.3,299.9 248.8,312.1 267.8,314.4 277.3,310.4 286.8,309.6 296.3,313.6 315.3,318.9 324.8,313.0 334.2,296.1 343.7,295.8 353.2,294.3 362.7,287.2 372.2,287.8 381.7,291.2 400.7,291.2 410.2,290.5 419.6,287.0 429.1,284.4 438.6,286.2 448.1,287.2 457.6,286.4 467.1,283.4 486.1,280.5 495.6,289.1 505.1,295.3 514.5,296.9 524.0,293.3 533.5,286.9 543.0,281.9 552.5,288.3 571.5,295.5 581.0,295.0 590.5,296.8 599.9,313.2 609.4,305.7 618.9,303.1 628.4,295.6 637.9,294.6 647.4,295.8 656.9,293.7 666.4,295.8 675.9,317.2 685.4,321.7 694.8,325.2 704.3,321.5 713.8,310.4 723.3,303.5 732.8,303.9 742.3,293.0 751.8,287.5 761.3,277.7 770.8,284.2 780.2,279.1 789.7,278.6 799.2,276.5 808.7,273.8 818.2,278.6 827.7,278.5 837.2,279.6 846.7,282.4 865.7,300.4 875.1,306.0 884.6,314.7 903.6,335.9 913.1,326.2 922.6,313.5 932.1,299.2 941.6,299.5 951.1,301.4 960.6,293.0 970.0,294.1 979.5,290.9 989.0,291.0 998.5,287.9 1008.0,273.1"/>
<polyline stroke="#555555" points="106.5,256.8 125.5,271.0 163.4,280.1 191.9,273.0 201.4,262.6 229.9,281.9 267.8,279.7 277.3,284.3 305.8,260.3 343.7,266.1 372.2,266.1 391.2,293.1 400.7,264.6 410.2,252.5 429.1,265.6 448.1,264.7 457.6,266.5 486.1,279.7 505.1,264.1 514.5,272.3 533.5,298.3 571.5,298.3 590.5,304.2 628.4,291.2 647.4,279.6 732.8,278.6 761.3,261.5 789.7,253.2 808.7,279.3 827.7,279.3 837.2,199.9 846.7,182.8 884.6,155.5 894.1,185.9 960.6,185.9 998.5,202.6 1008.0,192.0"/>
<polyline stroke="#e81c4c" points="106.5,318.9 163.4,318.9 172.9,302.9 182.4,296.3 220.4,339.2 248.8,309.9 286.8,305.8 296.3,301.2 324.8,297.3 381.7,297.7 391.2,303.9 400.7,303.9 419.6,285.6 495.6,283.7 533.5,291.5 562.0,309.1 571.5,301.3 609.4,288.0 647.4,288.0 675.9,282.1 694.8,284.1 732.8,284.1 742.3,291.9 780.2,291.9 789.7,282.3 827.7,287.6 837.2,240.6 846.7,220.8 884.6,216.4 903.6,216.4 922.6,238.5 941.6,226.6 960.6,239.6 998.5,229.1 1008.0,238.1"/>
<polyline stroke="#555555" points="106.5,218.6 116.0,219.2 125.5,216.8 135.0,206.6 144.4,198.5 153.9,195.5 163.4,200.7 172.9,208.8 182.4,239.0 191.9,239.9 201.4,249.6 210.9,263.4 220.4,220.7 239.3,177.9 248.8,245.9 258.3,233.8 267.8,225.9 286.8,215.8 296.3,216.6 305.8,167.9 315.3,226.0 324.8,211.3 334.2,211.4 343.7,208.6 362.7,266.1 381.7,244.9 391.2,236.6 400.7,232.6 410.2,236.4 419.6,238.2 429.1,237.6 438.6,239.1 448.1,232.2 457.6,224.1 467.1,224.3 476.6,208.8 486.1,191.6 505.1,195.8 514.5,200.7 524.0,225.8 533.5,248.5 543.0,250.8 552.5,252.2 562.0,224.4 571.5,219.8 581.0,227.3 590.5,231.4 599.9,236.5 609.4,235.2 618.9,247.1 628.4,246.8 637.9,249.8 647.4,204.6 656.9,216.4 666.4,231.3 675.9,228.8 685.4,229.4 694.8,240.1 704.3,249.5 713.8,261.0 723.3,261.6 732.8,242.1 742.3,233.2 751.8,229.1 761.3,220.0 770.8,218.3 780.2,222.0 799.2,215.2 808.7,212.6 818.2,214.0 827.7,210.5 837.2,211.8 856.2,221.9 865.7,236.8 875.1,237.9 894.1,251.6 903.6,254.9 922.6,207.8 932.1,214.9 951.1,225.6 960.6,218.3 970.0,213.5 979.5,223.4 989.0,225.1 998.5,232.4 1008.0,234.5"/>
<polyline stroke="#4fa0ee" points="106.5,249.3 144.4,268.9 182.4,293.8 201.4,293.8 210.9,261.9 220.4,252.9 258.3,275.9 286.8,275.9 315.3,238.5 353.2,246.8 391.2,273.0 429.1,273.0 438.6,288.8 467.1,288.8 486.1,255.2 514.5,250.7 552.5,250.7 581.0,259.1 666.4,259.1 675.9,239.2 704.3,253.0 713.8,256.9 723.3,275.1 751.8,258.9 770.8,280.3 827.7,256.1 837.2,174.0 884.6,185.2 894.1,185.2 922.6,165.2 932.1,161.5 960.6,167.8 979.5,161.7 998.5,176.6 1008.0,177.0"/>
<polyline stroke="#8a8a00" points="106.5,256.5 116.0,267.7 125.5,307.6 135.0,307.9 144.4,307.4 153.9,310.1 163.4,310.8 182.4,319.8 191.9,325.4 201.4,312.8 210.9,309.9 220.4,299.1 229.9,311.5 239.3,322.5 248.8,317.2 258.3,310.9 267.8,305.7 277.3,304.9 286.8,305.6 296.3,301.4 305.8,296.3 315.3,296.9 324.8,305.3 334.2,290.6 343.7,295.4 353.2,299.1 362.7,305.1 372.2,301.1 381.7,299.2 391.2,316.3 400.7,312.1 410.2,303.4 419.6,301.8 429.1,303.0 438.6,318.1 448.1,319.5 457.6,316.2 476.6,311.4 486.1,310.3 495.6,306.7 505.1,313.1 514.5,315.9 524.0,306.5 533.5,299.1 543.0,293.6 552.5,305.6 562.0,312.9 581.0,320.6 590.5,325.1 599.9,324.4 609.4,324.5 618.9,323.4 628.4,319.5 637.9,317.8 647.4,317.3 656.9,318.4 666.4,312.9 675.9,319.8 685.4,320.1 704.3,315.6 713.8,314.1 723.3,311.0 732.8,306.0 742.3,311.1 751.8,312.7 770.8,313.7 780.2,300.8 789.7,304.7 799.2,302.4 808.7,312.5 818.2,315.6 827.7,320.8 837.2,319.9 846.7,324.0 856.2,321.4 875.1,323.0 884.6,319.9 894.1,320.4 903.6,316.0 913.1,310.5 922.6,311.9 932.1,309.1 941.6,308.0 951.1,310.2 960.6,307.2 970.0,306.4 979.5,303.2 989.0,286.0 998.5,282.4 1008.0,280.5"/>
<polyline stroke="#ff2a2a" points="106.5,287.0 125.5,278.9 163.4,297.5 191.9,293.2 229.9,290.2 267.8,282.4 296.3,288.8 334.2,251.7 362.7,251.7 400.7,291.5 429.1,291.5 467.1,278.0 495.6,248.8 533.5,251.0 552.5,237.1 562.0,238.1 599.9,260.3 618.9,260.3 647.4,256.8 666.4,260.9 685.4,228.7 713.8,270.5 732.8,258.0 761.3,280.1 789.7,304.7 799.2,274.7 808.7,274.7 827.7,268.5 837.2,208.1 846.7,205.0 856.2,211.8 875.1,221.3 884.6,215.9 903.6,215.9 932.1,206.4 960.6,216.4 989.0,216.4 1008.0,187.0"/>
<polyline stroke="#50e8c0" points="106.5,218.5 116.0,247.3 125.5,269.5 135.0,268.1 144.4,265.4 153.9,278.3 163.4,261.4 172.9,242.4 182.4,226.7 191.9,224.8 201.4,225.1 210.9,224.8 220.4,225.8 229.9,231.6 239.3,230.8 248.8,272.0 258.3,260.5 267.8,246.5 277.3,245.4 286.8,245.4 296.3,249.5 305.8,245.9 315.3,251.6 334.2,267.6 343.7,265.3 353.2,264.6 362.7,274.8 372.2,289.9 381.7,302.4 391.2,293.0 400.7,286.9 410.2,298.7 419.6,307.3 429.1,304.7 448.1,296.1 457.6,227.5 467.1,249.6 476.6,241.7 486.1,237.3 495.6,237.8 505.1,239.0 514.5,238.2 524.0,232.0 533.5,228.7 543.0,246.6 562.0,239.2 581.0,220.3 590.5,236.7 599.9,223.7 609.4,208.4 618.9,205.4 637.9,271.0 647.4,251.3 656.9,251.5 666.4,247.1 675.9,245.7 685.4,247.5 704.3,244.7 713.8,247.0 723.3,246.6 732.8,247.9 742.3,251.7 751.8,254.5 761.3,259.3 770.8,266.2 780.2,276.4 789.7,288.1 808.7,289.0 818.2,285.2 827.7,284.1 837.2,272.9 856.2,237.2 865.7,236.7 884.6,241.1 894.1,242.8 903.6,242.3 913.1,267.6 922.6,295.6 932.1,287.1 941.6,281.6 951.1,284.8 960.6,282.7 970.0,279.0 979.5,254.5 989.0,257.1 998.5,264.2 1008.0,264.7"/>
<polyline stroke="#555555" points="106.5,220.2 116.0,212.0 135.0,187.6 144.4,186.5 153.9,184.2 163.4,182.8 172.9,179.2 182.4,177.9 191.9,149.1 201.4,136.7 210.9,143.8 220.4,152.8 239.3,186.5 248.8,188.3 258.3,187.3 267.8,190.0 277.3,213.5 286.8,242.3 296.3,207.1 305.8,177.3 315.3,190.8 324.8,172.4 334.2,147.8 343.7,138.9 353.2,180.7 372.2,188.5 391.2,190.3 400.7,233.2 419.6,186.3 429.1,191.3 438.6,189.0 448.1,185.1 457.6,196.0 467.1,211.4 476.6,211.3 486.1,198.1 505.1,177.4 514.5,216.8 524.0,181.6 533.5,189.1 543.0,191.3 552.5,196.2 562.0,160.8 571.5,153.3 590.5,144.2 599.9,192.6 609.4,189.2 618.9,184.9 628.4,170.2 647.4,147.4 656.9,151.2 675.9,171.5 685.4,170.3 694.8,165.1 704.3,168.0 713.8,165.4 723.3,137.9 732.8,137.9 742.3,139.2 770.8,138.9 780.2,138.1 789.7,138.7 799.2,149.6 808.7,178.3 818.2,214.0 827.7,178.6 837.2,182.4 846.7,190.7 856.2,189.4 865.7,187.0 875.1,159.8 884.6,135.8 894.1,123.8 903.6,197.1 932.1,148.1 941.6,148.9 951.1,149.0 960.6,149.8 970.0,161.7 979.5,176.4 989.0,186.6 998.5,227.6 1008.0,167.5"/>
<polyline stroke="#4fa0ee" points="106.5,257.3 116.0,252.4 125.5,250.8 135.0,252.2 144.4,341.1 153.9,341.1 163.4,320.6 172.9,295.0 182.4,281.3 191.9,273.5 201.4,285.8 210.9,289.4 220.4,274.2 229.9,261.7 239.3,260.9 258.3,263.3 267.8,308.9 277.3,298.2 286.8,282.9 296.3,266.0 305.8,264.8 315.3,264.6 324.8,249.7 334.2,241.1 353.2,230.1 362.7,302.0 372.2,297.7 391.2,281.4 400.7,305.2 410.2,283.0 419.6,265.8 438.6,265.7 448.1,263.3 457.6,263.9 467.1,260.9 476.6,260.5 486.1,257.5 505.1,273.3 514.5,283.9 524.0,284.7 533.5,245.7 543.0,216.6 552.5,238.0 562.0,254.5 571.5,216.9 581.0,184.7 599.9,231.8 609.4,271.4 618.9,271.8 628.4,269.6 637.9,268.2 647.4,269.5 656.9,269.8 675.9,267.6 685.4,272.7 694.8,270.0 704.3,275.0 713.8,265.4 723.3,253.2 732.8,243.3 751.8,301.8 761.3,302.1 770.8,296.7 789.7,228.6 799.2,233.6 808.7,235.5 818.2,236.6 837.2,248.9 856.2,178.9 865.7,180.8 875.1,179.2 884.6,176.3 894.1,177.1 903.6,181.7 913.1,180.7 922.6,215.5 932.1,226.1 951.1,253.5 970.0,302.7 989.0,272.0 998.5,282.3 1008.0,296.5"/>
<polyline stroke="#3a0f2a" points="106.5,282.2 144.4,282.2 153.9,290.0 163.4,265.3 191.9,275.1 210.9,257.3 248.8,262.7 286.8,262.7 305.8,252.1 315.3,162.6 324.8,157.3 334.2,157.3 372.2,179.9 381.7,162.0 419.6,172.7 438.6,175.0 457.6,175.0 467.1,259.2 505.1,256.6 533.5,227.2 543.0,234.0 562.0,224.6 571.5,247.7 599.9,252.5 618.9,285.6 628.4,253.0 656.9,263.1 666.4,243.6 675.9,248.8 685.4,268.5 704.3,242.2 732.8,281.1 751.8,282.6 770.8,275.1 780.2,266.2 789.7,238.4 818.2,274.5 837.2,263.5 875.1,272.1 903.6,272.1 941.6,255.4 979.5,246.3 998.5,236.8 1008.0,229.6"/>
<polyline stroke="#33dd33" points="106.5,263.6 125.5,254.7 144.4,238.6 153.9,231.4 163.4,248.7 172.9,263.3 182.4,256.6 191.9,253.9 201.4,248.6 220.4,255.6 229.9,261.1 239.3,234.1 248.8,258.4 258.3,261.6 267.8,264.0 277.3,269.8 286.8,269.1 296.3,261.8 305.8,256.1 315.3,254.8 324.8,266.0 334.2,279.0 343.7,311.4 362.7,288.2 372.2,272.0 391.2,256.5 400.7,245.1 410.2,249.4 419.6,250.9 438.6,257.1 448.1,281.9 476.6,266.9 486.1,261.1 495.6,261.5 505.1,260.6 514.5,262.6 533.5,315.2 552.5,300.7 562.0,294.3 571.5,286.9 581.0,283.0 590.5,278.1 599.9,272.0 609.4,267.0 618.9,315.1 628.4,297.2 647.4,265.8 656.9,265.8 666.4,260.9 675.9,261.2 685.4,270.9 694.8,276.4 704.3,284.1 713.8,294.6 732.8,297.9 751.8,298.2 761.3,290.8 789.7,261.8 799.2,264.3 808.7,265.0 827.7,302.1 837.2,301.9 846.7,298.2 856.2,292.3 865.7,293.2 875.1,285.7 894.1,278.7 903.6,276.5 913.1,275.6 932.1,285.0 941.6,286.7 951.1,286.3 960.6,246.1 970.0,293.3 979.5,256.2 989.0,295.2 998.5,308.6 1008.0,310.5"/>
<polyline stroke="#ff5a10" points="106.5,276.4 125.5,278.1 135.0,292.1 163.4,273.4 229.9,274.0 248.8,295.4 277.3,274.7 305.8,291.1 315.3,236.7 334.2,203.4 353.2,203.4 362.7,211.0 391.2,212.5 457.6,205.5 467.1,266.5 486.1,269.1 514.5,281.7 533.5,270.8 552.5,270.8 562.0,273.9 590.5,251.3 647.4,251.3 675.9,276.0 704.3,268.7 742.3,275.5 761.3,275.9 799.2,278.9 818.2,275.7 827.7,272.9 837.2,281.4 884.6,281.4 922.6,270.1 960.6,289.9 998.5,267.6 1008.0,258.8"/>
<polyline stroke="#33dd33" points="106.5,291.5 144.4,282.3 163.4,290.8 191.9,266.8 229.9,266.8 267.8,231.8 305.8,278.4 315.3,208.1 324.8,216.7 353.2,200.9 372.2,211.0 391.2,187.8 410.2,195.3 419.6,207.1 438.6,208.4 467.1,208.4 476.6,233.5 505.1,216.6 514.5,293.9 543.0,281.0 562.0,252.3 590.5,265.7 618.9,294.0 694.8,271.7 732.8,287.1 761.3,270.0 799.2,283.3 846.7,283.3 894.1,294.9 932.1,300.1 960.6,248.4 979.5,257.1 989.0,263.3 1008.0,254.4"/>
<polyline stroke="#50e8c0" points="106.5,264.2 116.0,264.2 125.5,275.8 163.4,293.3 172.9,293.3 201.4,244.7 220.4,251.2 229.9,256.2 267.8,269.7 296.3,268.1 324.8,265.1 353.2,266.9 391.2,271.4 419.6,271.0 448.1,279.6 476.6,274.2 495.6,280.8 505.1,259.4 514.5,249.2 524.0,257.6 533.5,230.8 552.5,249.8 571.5,255.9 609.4,274.5 628.4,264.5 647.4,277.3 675.9,264.1 685.4,273.7 723.3,243.8 732.8,261.1 770.8,286.2 808.7,266.5 818.2,266.5 827.7,249.7 837.2,167.7 875.1,167.7 913.1,178.0 1008.0,179.1"/>
<polyline stroke="#1f5fff" points="106.5,317.4 116.0,313.0 125.5,306.4 135.0,301.7 144.4,306.4 153.9,312.8 163.4,315.7 172.9,312.6 182.4,308.2 191.9,302.5 201.4,300.8 210.9,300.6 220.4,302.3 229.9,300.9 239.3,301.3 248.8,290.7 258.3,300.3 267.8,297.4 286.8,293.4 296.3,288.0 305.8,286.1 315.3,290.5 324.8,290.3 334.2,294.5 343.7,317.6 353.2,303.9 362.7,293.1 372.2,296.6 391.2,305.1 400.7,295.8 419.6,303.6 429.1,303.1 448.1,295.0 467.1,281.9 476.6,281.1 486.1,284.3 495.6,289.6 505.1,292.9 514.5,290.2 533.5,275.1 543.0,274.4 552.5,272.8 562.0,272.0 571.5,281.2 581.0,277.3 590.5,277.7 599.9,284.2 609.4,284.9 618.9,282.8 628.4,266.9 637.9,260.3 647.4,270.2 656.9,277.4 666.4,287.8 685.4,286.0 694.8,287.3 713.8,283.0 723.3,286.4 732.8,292.0 742.3,292.5 751.8,293.6 761.3,297.0 770.8,303.5 780.2,293.9 789.7,289.5 799.2,292.1 818.2,299.3 827.7,275.5 837.2,287.7 846.7,303.5 856.2,285.1 865.7,278.9 875.1,290.2 884.6,291.1 903.6,302.5 913.1,304.8 922.6,296.5 932.1,290.5 951.1,299.1 960.6,292.2 970.0,290.3 979.5,282.6 998.5,289.3 1008.0,291.4"/>
<polyline stroke="#ff5a10" points="106.5,254.5 125.5,280.5 163.4,269.9 172.9,269.9 201.4,280.1 229.9,276.6 248.8,268.9 286.8,270.6 305.8,269.4 315.3,187.4 324.8,186.8 362.7,179.9 400.7,192.4 448.1,195.1 467.1,195.1 495.6,172.8 505.1,252.7 533.5,248.7 543.0,224.5 552.5,230.5 590.5,230.5 618.9,271.1 666.4,293.7 713.8,293.7 732.8,271.7 770.8,284.3 808.7,284.3 818.2,254.5 837.2,254.5 856.2,272.4 894.1,287.7 922.6,287.4 951.1,265.3 979.5,251.7 989.0,251.7 1008.0,253.8"/>
<polyline stroke="#1f5fff" points="106.5,276.2 135.0,276.2 163.4,260.4 182.4,259.0 248.8,259.0 277.3,251.4 315.3,253.7 324.8,275.3 343.7,275.3 353.2,264.8 381.7,255.0 410.2,273.8 448.1,276.6 467.1,269.5 495.6,247.9 514.5,260.7 552.5,236.3 571.5,239.7 590.5,230.8 628.4,250.2 647.4,253.2 685.4,253.2 713.8,255.7 742.3,276.5 761.3,273.3 799.2,264.3 818.2,264.3 827.7,270.1 837.2,194.3 856.2,205.9 875.1,184.7 894.1,183.7 922.6,198.1 960.6,198.1 970.0,190.1 998.5,190.1 1008.0,165.3"/>
<polyline stroke="#e81c4c" points="106.5,208.3 125.5,171.6 135.0,180.1 144.4,186.2 153.9,194.9 172.9,194.6 182.4,179.8 191.9,168.9 201.4,183.3 210.9,195.5 220.4,194.9 229.9,190.0 239.3,187.5 248.8,191.0 258.3,227.8 267.8,197.9 277.3,200.3 286.8,205.0 305.8,211.2 315.3,211.5 324.8,203.9 334.2,194.6 343.7,197.6 353.2,198.3 381.7,252.1 391.2,254.8 400.7,253.6 410.2,249.5 419.6,243.5 429.1,241.6 448.1,241.6 457.6,221.7 467.1,204.1 476.6,206.2 495.6,224.1 505.1,217.3 514.5,206.0 524.0,192.9 533.5,210.6 543.0,231.8 552.5,249.5 562.0,251.0 571.5,255.1 581.0,255.3 599.9,194.1 609.4,195.9 618.9,193.6 628.4,195.5 647.4,225.1 656.9,241.3 666.4,238.5 675.9,232.4 685.4,210.9 694.8,194.3 713.8,195.5 723.3,195.5 742.3,215.2 751.8,226.5 761.3,245.3 770.8,256.5 780.2,241.2 799.2,212.9 818.2,226.8 827.7,240.2 837.2,246.3 846.7,256.5 865.7,223.2 875.1,209.7 884.6,222.2 903.6,243.7 913.1,245.2 922.6,248.8 941.6,206.0 951.1,239.6 960.6,224.4 979.5,185.1 989.0,182.2 1008.0,253.5"/>
<polyline stroke="#4fa0ee" points="106.5,259.9 135.0,259.9 144.4,267.6 172.9,274.2 182.4,260.3 201.4,275.4 229.9,288.3 267.8,260.8 305.8,302.9 334.2,265.1 362.7,274.9 391.2,277.7 400.7,263.4 429.1,286.6 457.6,270.0 467.1,260.1 505.1,291.4 533.5,304.1 552.5,288.4 562.0,279.2 581.0,281.3 628.4,281.3 637.9,268.1 656.9,264.7 685.4,264.7 704.3,260.4 732.8,273.5 770.8,256.0 780.2,274.0 808.7,287.6 827.7,281.5 837.2,198.7 856.2,192.6 884.6,200.2 913.1,200.2 941.6,215.5 970.0,215.5 1008.0,199.0"/>
<polyline stroke="#1f5fff" points="106.5,197.0 125.5,251.8 135.0,219.0 144.4,190.3 153.9,202.1 163.4,212.1 172.9,219.8 182.4,218.3 201.4,284.9 210.9,278.6 220.4,255.8 229.9,229.8 239.3,229.3 248.8,231.6 267.8,245.2 277.3,244.4 286.8,242.9 296.3,292.5 324.8,250.3 334.2,282.1 343.7,261.8 353.2,236.3 362.7,246.7 372.2,254.7 391.2,277.3 400.7,199.5 410.2,249.2 419.6,306.0 429.1,273.4 438.6,283.3 448.1,296.2 457.6,269.6 467.1,260.0 476.6,244.5 486.1,226.9 495.6,195.7 505.1,214.7 514.5,223.0 524.0,233.0 533.5,238.5 543.0,234.7 552.5,232.1 571.5,267.3 581.0,281.2 590.5,275.5 599.9,263.5 609.4,247.7 618.9,228.5 637.9,226.4 647.4,219.6 666.4,253.2 685.4,231.6 694.8,245.2 704.3,245.6 713.8,242.5 742.3,335.1 751.8,302.9 761.3,277.3 780.2,256.8 789.7,248.2 799.2,247.5 808.7,250.2 818.2,257.5 837.2,279.8 846.7,236.0 865.7,236.3 875.1,238.3 884.6,216.2 894.1,217.3 903.6,222.2 913.1,236.6 922.6,254.3 932.1,247.4 951.1,223.7 960.6,222.8 970.0,218.1 979.5,211.9 998.5,192.9 1008.0,224.0"/>
<polyline stroke="#ff2a2a" points="106.5,291.1 125.5,298.5 153.9,285.9 163.4,288.5 172.9,288.5 191.9,285.4 210.9,285.4 220.4,296.7 258.3,276.4 305.8,261.7 315.3,199.3 324.8,196.1 362.7,198.4 391.2,220.5 429.1,220.5 457.6,236.2 486.1,236.2 505.1,210.0 514.5,218.9 533.5,209.1 543.0,263.4 552.5,258.5 562.0,266.2 599.9,266.2 609.4,271.3 647.4,271.3 675.9,284.4 685.4,272.8 704.3,272.8 723.3,303.2 742.3,268.0 780.2,269.9 789.7,269.9 799.2,326.0 827.7,326.0 856.2,287.7 865.7,271.4 884.6,259.6 894.1,286.0 922.6,292.0 960.6,292.0 979.5,277.1 1008.0,277.1"/>
<polyline stroke="#33cc33" points="106.5,316.4 116.0,314.6 125.5,341.1 135.0,341.1 144.4,338.0 153.9,333.6 163.4,332.4 172.9,329.5 201.4,331.3 210.9,341.1 286.8,341.1 296.3,332.8 305.8,328.7 315.3,327.7 324.8,323.9 334.2,324.8 343.7,324.0 353.2,336.0 362.7,330.1 372.2,330.5 381.7,326.9 391.2,329.2 400.7,330.5 410.2,326.3 419.6,324.2 429.1,325.4 438.6,322.6 448.1,324.4 457.6,329.5 467.1,331.9 476.6,330.7 486.1,328.7 495.6,327.8 505.1,329.1 514.5,325.8 524.0,324.0 533.5,321.2 552.5,319.8 562.0,322.0 581.0,333.0 590.5,325.0 599.9,319.6 609.4,315.7 618.9,316.7 628.4,319.6 637.9,320.8 647.4,317.7 656.9,318.8 666.4,324.8 675.9,324.2 685.4,327.8 694.8,336.2 704.3,336.7 713.8,334.6 723.3,331.2 732.8,330.1 742.3,334.6 751.8,331.8 761.3,334.9 770.8,334.5 780.2,335.5 789.7,332.1 799.2,332.0 808.7,330.3 818.2,325.0 827.7,335.1 837.2,341.1 846.7,338.7 856.2,334.0 865.7,327.4 875.1,326.0 884.6,329.8 894.1,331.6 903.6,330.3 913.1,327.1 922.6,325.5 932.1,317.2 941.6,319.8 951.1,314.2 960.6,311.7 970.0,318.3 979.5,319.5 989.0,325.5 998.5,328.0 1008.0,328.4"/>
<polyline stroke="#33cc33" points="106.5,335.5 116.0,324.6 135.0,307.0 144.4,303.7 153.9,299.2 163.4,306.7 172.9,315.7 182.4,322.3 191.9,318.8 201.4,335.0 210.9,341.1 220.4,341.1 229.9,335.9 248.8,333.1 258.3,332.5 277.3,290.8 296.3,279.4 305.8,321.5 324.8,300.9 334.2,303.3 343.7,300.8 362.7,301.5 372.2,300.0 381.7,305.0 391.2,313.3 400.7,314.7 410.2,315.1 419.6,312.0 429.1,285.4 438.6,288.5 448.1,295.6 457.6,298.8 467.1,301.0 476.6,304.5 486.1,305.0 505.1,335.1 524.0,297.9 533.5,277.7 552.5,311.5 562.0,310.7 571.5,309.2 581.0,307.0 590.5,303.4 609.4,298.3 618.9,292.4 637.9,283.4 647.4,297.0 656.9,308.0 666.4,317.4 675.9,329.9 685.4,338.0 694.8,341.1 704.3,341.1 713.8,338.4 723.3,332.5 732.8,327.9 742.3,321.7 751.8,317.5 761.3,314.5 770.8,288.1 780.2,268.5 789.7,294.6 799.2,285.1 808.7,282.9 818.2,284.0 827.7,245.1 837.2,281.3 846.7,286.6 856.2,289.6 884.6,302.0 894.1,290.2 903.6,277.0 913.1,291.9 922.6,286.9 932.1,288.5 941.6,287.0 951.1,289.9 960.6,296.3 970.0,300.3 979.5,300.2 998.5,301.6 1008.0,290.4"/>
<polyline stroke="#3a0f2a" points="106.5,195.7 116.0,214.6 125.5,238.9 135.0,253.5 144.4,250.4 153.9,241.3 163.4,239.0 172.9,230.8 191.9,207.5 201.4,182.4 210.9,205.1 220.4,220.3 229.9,230.6 239.3,144.6 248.8,162.3 258.3,183.7 267.8,197.3 277.3,202.5 286.8,211.5 296.3,222.0 305.8,214.1 315.3,205.0 324.8,199.3 334.2,197.7 343.7,192.3 353.2,189.1 362.7,183.7 372.2,185.0 381.7,183.9 391.2,184.9 400.7,242.3 419.6,237.0 429.1,218.8 448.1,187.8 457.6,186.7 467.1,179.7 476.6,178.2 486.1,180.9 495.6,184.6 505.1,191.1 533.5,180.7 543.0,154.3 552.5,216.8 562.0,169.2 571.5,152.5 581.0,144.1 590.5,142.6 609.4,143.0 618.9,144.0 628.4,158.4 637.9,178.4 647.4,184.6 666.4,200.0 685.4,237.8 694.8,237.2 704.3,237.7 723.3,234.1 732.8,229.6 751.8,227.9 761.3,224.9 770.8,218.5 780.2,215.5 789.7,232.1 799.2,250.5 808.7,275.5 818.2,250.9 827.7,254.8 837.2,255.4 846.7,254.7 865.7,200.6 875.1,197.7 884.6,191.3 903.6,192.8 913.1,196.2 932.1,237.7 941.6,239.7 951.1,237.7 960.6,225.1 970.0,209.1 989.0,197.5 998.5,171.0 1008.0,149.4"/>
<polyline stroke="#555555" points="106.5,250.4 116.0,269.8 135.0,255.7 153.9,280.3 172.9,265.6 201.4,269.2 229.9,267.9 239.3,273.8 267.8,287.0 305.8,286.6 315.3,230.6 343.7,219.8 353.2,227.1 391.2,211.2 419.6,238.2 429.1,275.7 448.1,245.9 495.6,272.8 505.1,260.8 533.5,235.1 552.5,239.6 571.5,239.6 599.9,218.4 618.9,245.1 647.4,257.2 656.9,257.2 685.4,265.3 694.8,265.3 723.3,267.4 742.3,238.2 770.8,278.2 808.7,260.5 837.2,271.6 856.2,257.7 894.1,257.7 922.6,268.9 932.1,274.2 1008.0,246.9"/>
<polyline stroke="#8a8a00" points="106.5,294.6 116.0,291.5 125.5,292.0 135.0,286.8 144.4,284.3 153.9,277.4 163.4,278.3 172.9,278.4 182.4,273.0 201.4,271.5 210.9,269.6 229.9,263.2 248.8,266.8 267.8,288.1 277.3,296.6 286.8,299.7 296.3,298.1 305.8,310.0 315.3,292.4 334.2,267.5 343.7,295.8 353.2,288.8 362.7,286.7 372.2,278.4 381.7,295.3 391.2,310.2 400.7,285.0 410.2,281.6 429.1,273.6 438.6,294.0 448.1,317.5 457.6,315.3 476.6,303.5 486.1,304.6 495.6,304.8 505.1,302.7 514.5,286.1 524.0,272.9 533.5,261.2 543.0,265.5 562.0,285.6 571.5,297.7 581.0,291.4 590.5,287.2 599.9,288.9 609.4,294.9 618.9,302.9 628.4,309.3 647.4,286.6 666.4,281.3 675.9,281.3 685.4,266.3 694.8,269.5 704.3,271.4 713.8,271.9 723.3,265.0 732.8,272.1 742.3,274.5 751.8,280.8 761.3,276.9 770.8,272.0 780.2,272.0 789.7,236.9 799.2,287.9 808.7,282.1 818.2,296.4 827.7,294.2 837.2,295.6 846.7,298.2 856.2,278.6 865.7,302.5 884.6,294.3 894.1,285.1 903.6,281.5 922.6,277.7 941.6,278.9 951.1,281.8 960.6,274.1 970.0,253.6 979.5,258.7 989.0,262.8 998.5,279.1 1008.0,273.4"/>
<polyline stroke="#1f5fff" points="106.5,167.7 116.0,195.9 163.4,196.4 191.9,194.6 201.4,200.9 210.9,192.0 220.4,192.0 229.9,201.1 248.8,174.5 258.3,183.7 267.8,205.0 277.3,201.1 286.8,213.9 296.3,186.2 305.8,183.8 334.2,192.9 362.7,178.5 372.2,193.0 429.1,194.5 457.6,211.3 467.1,176.4 495.6,202.2 505.1,198.9 524.0,172.0 533.5,160.3 552.5,184.8 581.0,188.7 599.9,188.7 618.9,164.2 637.9,190.0 666.4,163.4 685.4,163.4 713.8,159.7 732.8,162.2 761.3,151.9 780.2,151.9 799.2,178.2 827.7,161.6 837.2,143.7 856.2,147.5 865.7,185.9 875.1,159.5 903.6,159.5 932.1,152.5 960.6,152.5 989.0,164.6 998.5,160.6 1008.0,169.7"/>
<polyline stroke="#c8960a" points="106.5,181.1 116.0,171.2 125.5,231.3 135.0,220.3 144.4,221.3 153.9,219.5 163.4,221.1 172.9,215.9 182.4,214.7 191.9,214.8 201.4,224.3 210.9,235.9 220.4,242.1 229.9,245.7 239.3,250.3 248.8,216.3 258.3,251.3 267.8,240.9 286.8,211.1 305.8,222.2 315.3,225.9 324.8,224.9 334.2,230.6 343.7,204.6 353.2,219.3 362.7,232.0 372.2,250.3 381.7,243.6 391.2,241.0 400.7,244.9 410.2,250.9 419.6,260.0 429.1,260.9 438.6,266.7 448.1,274.4 457.6,257.6 467.1,233.2 476.6,228.4 486.1,229.0 495.6,228.3 505.1,239.5 514.5,239.2 524.0,243.8 533.5,245.2 543.0,249.4 552.5,258.0 562.0,263.6 571.5,260.7 581.0,270.6 599.9,245.4 628.4,242.6 637.9,228.5 647.4,254.2 656.9,241.3 666.4,226.3 675.9,230.9 685.4,230.7 694.8,229.5 704.3,230.6 713.8,230.7 732.8,227.4 751.8,225.8 761.3,230.6 770.8,231.8 780.2,237.7 789.7,248.2 799.2,261.7 818.2,249.2 827.7,241.9 837.2,244.4 846.7,243.4 856.2,245.6 875.1,239.4 884.6,242.2 894.1,255.7 913.1,276.0 932.1,278.0 941.6,277.7 951.1,274.5 960.6,269.6 970.0,267.4 979.5,225.3 998.5,252.4 1008.0,233.3"/>
<polyline stroke="#555555" points="106.5,295.4 116.0,282.1 144.4,263.0 191.9,263.0 201.4,237.3 229.9,237.3 258.3,265.0 296.3,275.5 305.8,275.5 315.3,214.3 334.2,214.3 372.2,221.0 410.2,222.6 419.6,251.0 457.6,213.0 467.1,208.1 476.6,271.0 505.1,276.1 524.0,271.8 581.0,271.8 599.9,300.6 637.9,263.8 675.9,275.3 742.3,275.3 770.8,279.8 780.2,279.8 789.7,262.7 808.7,242.5 846.7,292.0 884.6,250.5 913.1,266.3 951.1,246.1 979.5,237.0 989.0,265.8 1008.0,276.5"/>
<polyline stroke="#8a8a00" points="106.5,269.0 116.0,268.3 125.5,270.8 135.0,268.4 144.4,268.3 153.9,269.9 182.4,207.0 191.9,212.1 201.4,215.1 210.9,221.4 220.4,269.3 229.9,237.8 248.8,248.3 258.3,227.2 267.8,241.5 277.3,262.3 286.8,197.6 296.3,167.5 305.8,242.3 315.3,238.5 324.8,246.1 334.2,244.9 343.7,250.8 353.2,220.1 362.7,222.5 372.2,227.5 381.7,234.0 391.2,236.4 400.7,236.1 410.2,234.9 419.6,230.4 429.1,229.5 438.6,232.4 448.1,229.2 457.6,242.0 467.1,256.6 495.6,213.4 505.1,216.4 514.5,217.8 524.0,214.2 533.5,214.0 543.0,209.9 552.5,213.2 562.0,188.9 571.5,186.6 581.0,187.4 590.5,186.0 599.9,182.8 618.9,188.4 628.4,188.4 647.4,193.0 656.9,246.9 666.4,201.0 675.9,249.0 685.4,220.2 694.8,222.6 704.3,220.7 713.8,222.5 723.3,217.1 732.8,214.2 742.3,213.7 751.8,207.6 770.8,254.5 780.2,249.5 789.7,245.4 799.2,247.9 808.7,257.4 827.7,214.6 846.7,224.6 856.2,228.6 865.7,241.3 875.1,250.1 884.6,238.2 894.1,233.4 913.1,217.2 922.6,230.1 932.1,247.9 941.6,262.6 960.6,233.2 970.0,237.9 979.5,241.5 989.0,244.2 998.5,245.4 1008.0,263.4"/>
<polyline stroke="#e81c4c" points="106.5,230.0 116.0,229.2 125.5,255.8 135.0,263.7 144.4,253.0 153.9,244.4 163.4,239.3 172.9,242.8 182.4,259.2 191.9,258.0 201.4,273.3 210.9,277.4 220.4,280.3 229.9,279.3 239.3,270.0 248.8,271.3 258.3,271.2 267.8,272.2 277.3,266.1 296.3,274.2 305.8,271.5 315.3,267.7 324.8,270.4 334.2,270.3 343.7,272.8 353.2,242.1 362.7,291.7 372.2,288.7 381.7,288.2 391.2,263.1 410.2,271.5 419.6,274.6 438.6,271.8 448.1,282.6 457.6,290.5 467.1,302.9 476.6,303.9 486.1,301.1 495.6,296.7 514.5,302.1 524.0,303.9 533.5,292.6 543.0,278.7 552.5,279.4 562.0,281.3 590.5,295.3 599.9,272.4 609.4,267.4 628.4,267.4 647.4,303.2 666.4,279.0 685.4,273.8 694.8,281.2 704.3,291.1 713.8,299.0 732.8,305.2 742.3,302.0 751.8,301.6 761.3,298.9 770.8,294.3 780.2,295.4 789.7,299.5 799.2,302.5 808.7,286.5 818.2,288.4 827.7,285.7 837.2,280.6 846.7,271.2 856.2,278.7 865.7,276.1 875.1,275.2 884.6,275.1 894.1,275.9 903.6,272.4 913.1,270.0 922.6,269.4 932.1,270.7 941.6,272.9 951.1,274.1 960.6,273.4 970.0,270.5 979.5,271.4 998.5,276.0 1008.0,292.5"/>
<polyline stroke="#555555" points="106.5,269.1 116.0,274.7 125.5,340.4 135.0,341.1 144.4,334.3 153.9,321.2 163.4,303.4 182.4,309.4 191.9,309.2 201.4,309.8 210.9,326.9 220.4,341.1 229.9,313.6 239.3,316.0 248.8,313.6 258.3,300.2 267.8,306.1 277.3,310.5 286.8,316.0 296.3,327.8 305.8,324.8 315.3,316.6 324.8,310.5 334.2,305.6 343.7,316.8 353.2,325.8 362.7,341.1 372.2,325.6 381.7,327.1 391.2,324.2 400.7,294.1 410.2,296.2 419.6,301.6 429.1,308.2 438.6,310.7 457.6,309.9 467.1,306.0 476.6,306.6 486.1,315.4 505.1,308.7 514.5,306.2 524.0,306.5 533.5,308.1 543.0,314.8 552.5,315.5 562.0,306.8 581.0,295.3 590.5,300.5 599.9,300.8 609.4,304.0 618.9,311.8 628.4,315.5 637.9,314.5 647.4,311.5 656.9,310.8 666.4,304.3 675.9,300.1 685.4,297.5 694.8,299.3 704.3,296.6 713.8,301.7 732.8,315.7 742.3,284.0 751.8,280.9 761.3,271.8 770.8,266.4 780.2,266.3 789.7,263.1 799.2,267.7 808.7,270.8 818.2,280.1 827.7,283.9 837.2,299.0 846.7,300.1 856.2,304.1 865.7,302.2 875.1,301.1 884.6,309.9 894.1,321.3 903.6,312.5 913.1,306.1 922.6,296.9 932.1,291.6 951.1,287.6 960.6,287.8 979.5,305.6 989.0,308.0 998.5,305.5 1008.0,305.0"/>
<polyline stroke="#1f5fff" points="106.5,328.6 125.5,332.0 135.0,324.7 144.4,321.4 153.9,329.5 163.4,328.1 182.4,321.6 191.9,323.6 201.4,322.9 210.9,321.5 220.4,317.9 229.9,315.8 239.3,323.6 248.8,326.3 258.3,332.6 267.8,334.2 277.3,333.5 286.8,335.1 305.8,328.8 315.3,324.9 324.8,324.4 334.2,321.3 343.7,313.7 353.2,310.8 362.7,311.4 372.2,305.7 381.7,306.7 391.2,289.3 410.2,289.1 419.6,287.0 438.6,310.6 448.1,317.5 457.6,326.5 467.1,319.9 476.6,319.0 486.1,309.5 495.6,312.6 505.1,313.3 514.5,306.7 533.5,308.5 543.0,300.2 552.5,295.8 562.0,296.9 571.5,293.9 581.0,296.1 590.5,311.0 599.9,307.5 609.4,306.0 618.9,303.7 628.4,303.6 637.9,302.8 656.9,298.5 666.4,297.7 675.9,301.3 685.4,303.3 694.8,307.0 704.3,303.3 713.8,304.0 742.3,270.4 751.8,270.3 761.3,272.9 770.8,285.8 780.2,291.1 808.7,313.8 818.2,308.6 827.7,302.1 837.2,293.9 846.7,300.5 856.2,304.0 865.7,305.6 875.1,302.8 884.6,308.1 894.1,310.3 903.6,307.5 913.1,309.5 922.6,308.2 932.1,293.6 941.6,281.1 951.1,299.1 960.6,305.1 970.0,304.5 989.0,305.8 998.5,303.1 1008.0,298.6"/>
<polyline stroke="#3a0f2a" points="106.5,274.9 116.0,272.2 125.5,296.5 135.0,316.6 144.4,334.5 163.4,292.0 172.9,278.7 201.4,248.2 210.9,265.0 220.4,260.0 229.9,259.0 248.8,260.4 258.3,265.5 267.8,274.4 277.3,281.8 286.8,291.3 296.3,280.5 305.8,271.9 315.3,260.9 324.8,238.9 334.2,218.9 343.7,272.3 353.2,230.7 362.7,232.6 372.2,283.0 381.7,287.0 391.2,288.7 400.7,289.5 410.2,296.9 419.6,302.1 429.1,305.8 448.1,298.6 457.6,296.8 467.1,300.3 476.6,305.0 486.1,305.7 495.6,299.2 505.1,286.0 524.0,265.7 533.5,260.1 543.0,260.3 552.5,263.4 562.0,270.7 571.5,294.6 581.0,266.7 590.5,267.5 599.9,266.7 609.4,264.5 618.9,263.3 628.4,259.5 637.9,261.1 647.4,259.3 666.4,292.2 675.9,289.6 685.4,288.3 704.3,274.6 713.8,266.8 723.3,264.8 732.8,264.4 742.3,266.2 751.8,264.4 761.3,254.0 780.2,250.8 789.7,247.6 799.2,236.1 808.7,226.0 827.7,269.7 837.2,287.7 846.7,271.8 856.2,252.6 884.6,229.4 894.1,249.3 913.1,222.9 922.6,221.4 932.1,253.3 941.6,281.9 960.6,276.4 970.0,260.8 979.5,248.2 989.0,233.8 1008.0,271.7"/>
<polyline stroke="#8a5cff" points="106.5,196.2 116.0,181.8 125.5,183.1 135.0,183.1 163.4,169.1 191.9,172.1 201.4,172.1 210.9,180.9 239.3,180.7 248.8,161.2 258.3,146.5 267.8,165.0 277.3,188.3 296.3,199.5 324.8,199.5 353.2,178.5 372.2,195.7 391.2,186.2 419.6,185.0 438.6,170.6 457.6,170.6 486.1,162.1 505.1,177.3 533.5,177.3 562.0,173.5 581.0,190.6 590.5,181.3 618.9,181.1 647.4,178.9 694.8,178.9 704.3,188.3 713.8,182.7 751.8,182.7 770.8,184.9 799.2,184.9 808.7,198.9 818.2,177.9 827.7,177.9 837.2,147.5 894.1,146.4 903.6,150.9 922.6,169.8 951.1,169.8 960.6,148.7 989.0,147.8 998.5,161.0 1008.0,145.5"/>
<polyline stroke="#1f5fff" points="106.5,228.0 116.0,255.5 125.5,254.7 135.0,251.3 144.4,251.1 153.9,269.8 163.4,269.5 172.9,267.5 182.4,237.3 191.9,236.3 201.4,237.4 220.4,263.4 239.3,228.6 248.8,209.0 267.8,287.8 277.3,301.3 305.8,215.0 315.3,208.0 324.8,205.1 334.2,200.8 343.7,223.2 353.2,224.7 362.7,225.0 372.2,227.3 381.7,252.9 391.2,284.3 400.7,268.0 410.2,249.3 419.6,228.3 429.1,244.2 438.6,287.9 467.1,237.3 476.6,229.2 486.1,215.4 495.6,209.5 505.1,201.6 514.5,197.0 524.0,199.1 533.5,213.9 543.0,221.3 552.5,226.1 562.0,225.8 571.5,224.9 581.0,220.3 590.5,221.6 599.9,220.9 609.4,222.4 618.9,220.4 647.4,171.6 666.4,216.1 685.4,279.8 694.8,249.5 713.8,257.8 723.3,264.5 732.8,264.3 742.3,265.1 751.8,267.6 761.3,195.0 770.8,192.7 780.2,194.9 789.7,192.8 799.2,189.0 808.7,216.1 818.2,186.3 827.7,198.2 837.2,195.9 846.7,215.2 856.2,202.1 865.7,205.0 875.1,204.2 884.6,201.1 894.1,200.1 903.6,200.4 913.1,204.5 922.6,203.5 941.6,188.3 951.1,179.5 960.6,172.1 979.5,246.9 989.0,235.2 998.5,220.9 1008.0,211.1"/>
<polyline stroke="#1f5fff" points="106.5,280.8 116.0,308.6 125.5,262.9 135.0,299.7 144.4,300.1 153.9,315.5 182.4,309.1 201.4,300.1 220.4,317.5 229.9,324.0 239.3,315.2 248.8,308.3 258.3,299.2 267.8,296.4 277.3,295.8 286.8,298.1 296.3,297.0 315.3,293.1 324.8,295.5 334.2,294.5 343.7,294.2 362.7,316.2 372.2,246.2 381.7,247.6 391.2,246.9 410.2,279.6 419.6,298.6 429.1,285.8 438.6,269.9 448.1,260.1 457.6,334.4 467.1,341.1 476.6,341.1 486.1,331.2 495.6,310.9 505.1,287.2 524.0,212.4 552.5,276.7 562.0,283.6 571.5,288.1 581.0,294.4 590.5,298.4 599.9,295.2 609.4,294.9 618.9,300.5 628.4,308.5 637.9,315.4 647.4,312.2 656.9,303.5 666.4,300.5 685.4,249.1 694.8,259.7 704.3,268.0 723.3,253.0 732.8,244.2 742.3,239.9 751.8,237.5 761.3,236.0 780.2,261.9 789.7,277.8 799.2,261.9 808.7,288.3 818.2,279.8 837.2,266.2 846.7,256.5 856.2,248.2 875.1,259.6 884.6,260.8 894.1,279.0 903.6,294.7 913.1,308.6 922.6,285.7 932.1,267.5 941.6,272.6 951.1,268.9 960.6,271.9 970.0,273.7 979.5,273.4 989.0,290.3 998.5,305.0 1008.0,280.0"/>
<polyline stroke="#e81c4c" points="106.5,191.7 125.5,188.3 135.0,178.8 144.4,185.2 163.4,150.2 182.4,165.4 210.9,181.0 229.9,181.0 248.8,164.3 258.3,185.1 267.8,185.1 286.8,172.2 315.3,195.5 334.2,189.9 353.2,171.7 372.2,191.9 429.1,168.3 438.6,171.0 457.6,209.4 476.6,169.3 505.1,169.3 533.5,167.2 543.0,174.5 552.5,192.8 581.0,186.1 590.5,204.5 599.9,191.0 618.9,161.0 647.4,180.6 666.4,161.6 694.8,185.3 723.3,182.0 742.3,168.5 761.3,171.0 780.2,156.3 808.7,181.6 818.2,152.2 827.7,169.2 837.2,154.3 903.6,153.2 932.1,160.3 941.6,152.2 951.1,146.1 960.6,155.0 970.0,169.2 998.5,169.2 1008.0,146.8"/>
<polyline stroke="#50e8c0" points="106.5,264.9 116.0,254.9 125.5,273.4 135.0,321.3 153.9,282.6 172.9,309.4 191.9,280.1 201.4,268.0 210.9,268.1 220.4,266.3 229.9,263.3 239.3,257.1 248.8,267.5 258.3,279.5 267.8,287.9 286.8,268.6 296.3,282.7 305.8,289.1 315.3,289.3 324.8,288.3 334.2,290.6 343.7,334.4 353.2,332.3 362.7,333.9 372.2,334.2 381.7,332.6 391.2,336.4 410.2,321.8 429.1,308.4 438.6,309.0 448.1,289.7 467.1,280.5 476.6,272.4 486.1,285.6 495.6,300.3 505.1,296.7 514.5,301.9 533.5,308.5 543.0,313.0 552.5,319.0 571.5,327.3 581.0,335.3 590.5,339.7 599.9,318.3 609.4,321.5 618.9,321.6 628.4,317.3 637.9,324.2 647.4,326.4 656.9,291.8 666.4,263.7 675.9,274.0 685.4,282.2 704.3,308.5 713.8,305.6 723.3,305.6 732.8,300.1 742.3,299.8 761.3,326.1 770.8,314.4 780.2,307.4 789.7,296.5 799.2,306.3 808.7,308.3 818.2,315.8 827.7,300.3 837.2,307.7 846.7,313.9 856.2,311.0 865.7,293.2 884.6,262.4 894.1,275.3 903.6,283.9 932.1,323.2 941.6,316.5 951.1,313.7 960.6,314.7 970.0,322.9 979.5,319.1 989.0,307.2 998.5,300.4 1008.0,290.5"/>
<polyline stroke="#3a0f2a" points="106.5,311.8 125.5,318.6 135.0,316.8 144.4,312.5 153.9,322.3 163.4,318.4 172.9,333.7 182.4,341.1 201.4,341.1 210.9,335.4 220.4,326.7 229.9,325.7 239.3,323.8 248.8,324.3 258.3,322.8 267.8,319.3 277.3,319.4 286.8,321.4 296.3,319.1 305.8,319.2 315.3,313.9 324.8,315.8 334.2,316.9 353.2,322.0 362.7,321.0 372.2,328.7 381.7,329.2 391.2,338.9 400.7,341.1 476.6,341.1 486.1,332.9 495.6,338.4 514.5,341.1 562.0,341.1 581.0,326.9 590.5,325.7 599.9,323.1 609.4,325.7 618.9,324.4 628.4,331.6 637.9,341.1 647.4,335.9 656.9,328.8 666.4,319.5 675.9,320.5 685.4,320.5 694.8,319.7 704.3,321.7 713.8,320.3 723.3,327.4 732.8,326.9 742.3,328.1 761.3,323.5 770.8,323.1 780.2,321.3 789.7,318.5 799.2,316.8 818.2,329.2 827.7,336.5 837.2,332.5 846.7,338.1 856.2,328.7 865.7,332.7 875.1,332.6 884.6,320.5 894.1,321.9 903.6,320.5 922.6,321.5 932.1,318.9 941.6,315.1 951.1,320.3 960.6,322.9 970.0,327.6 979.5,324.1 989.0,323.1 998.5,324.8 1008.0,321.4"/>
<polyline stroke="#33cc33" points="106.5,334.8 116.0,310.3 125.5,318.7 135.0,322.8 144.4,310.9 153.9,319.0 163.4,313.7 172.9,311.7 182.4,308.9 191.9,308.8 201.4,313.3 220.4,311.1 229.9,322.5 248.8,308.2 258.3,309.1 267.8,310.9 277.3,315.5 286.8,313.7 296.3,326.2 315.3,316.0 324.8,309.6 334.2,313.3 343.7,313.4 362.7,315.7 372.2,313.3 381.7,315.5 391.2,323.0 400.7,334.3 419.6,337.2 429.1,334.2 438.6,330.1 448.1,327.7 457.6,330.0 467.1,329.6 476.6,325.2 486.1,315.7 495.6,318.3 505.1,315.9 514.5,331.1 524.0,334.9 533.5,329.9 543.0,332.1 552.5,317.2 562.0,313.4 571.5,314.6 581.0,317.4 590.5,314.5 599.9,313.8 618.9,335.1 628.4,329.1 637.9,320.1 647.4,324.2 656.9,326.2 666.4,325.9 675.9,323.1 685.4,329.4 694.8,313.4 704.3,324.6 713.8,308.5 732.8,295.2 742.3,297.1 751.8,300.2 761.3,323.6 770.8,323.6 780.2,326.3 799.2,341.1 808.7,333.8 818.2,328.3 827.7,327.0 837.2,322.4 846.7,323.2 856.2,321.9 865.7,323.8 894.1,320.5 903.6,320.5 913.1,321.8 932.1,322.0 941.6,319.0 951.1,311.6 960.6,309.1 970.0,318.3 979.5,319.4 989.0,326.1 998.5,334.9 1008.0,341.1"/>
<polyline stroke="#1f5fff" points="106.5,318.9 135.0,313.0 144.4,291.9 163.4,310.4 191.9,301.7 229.9,266.8 248.8,284.4 277.3,284.4 296.3,294.0 324.8,310.6 353.2,271.5 391.2,271.5 429.1,266.8 457.6,285.3 476.6,292.0 505.1,284.0 514.5,310.6 533.5,305.2 552.5,317.8 590.5,293.0 628.4,293.0 685.4,300.1 723.3,314.8 761.3,314.8 770.8,308.0 808.7,308.0 818.2,316.4 827.7,313.7 837.2,252.5 856.2,247.2 884.6,247.2 951.1,221.2 989.0,234.7 1008.0,228.9"/>
<polyline stroke="#1f5fff" points="106.5,276.1 135.0,276.1 172.9,271.3 191.9,271.3 220.4,259.9 248.8,309.2 258.3,293.8 286.8,293.5 315.3,243.1 324.8,236.6 362.7,260.7 391.2,292.7 429.1,270.7 438.6,283.9 476.6,285.7 486.1,249.9 524.0,262.2 543.0,280.1 581.0,257.3 618.9,257.3 637.9,240.4 675.9,240.4 713.8,223.4 723.3,267.2 751.8,275.0 789.7,251.1 818.2,248.5 827.7,248.5 837.2,167.5 865.7,172.3 894.1,170.0 932.1,205.5 960.6,190.0 998.5,197.1 1008.0,195.9"/>
<polyline stroke="#8a5cff" points="106.5,283.5 116.0,279.9 135.0,283.9 144.4,288.3 153.9,293.7 163.4,291.8 172.9,284.1 182.4,285.8 191.9,281.4 201.4,275.0 210.9,265.9 220.4,263.0 239.3,270.6 248.8,271.4 258.3,321.5 267.8,292.8 277.3,254.7 286.8,254.5 296.3,258.7 305.8,260.4 315.3,259.5 324.8,262.5 334.2,263.7 343.7,291.7 353.2,282.0 362.7,275.5 372.2,278.5 391.2,278.3 400.7,267.6 410.2,260.1 429.1,272.5 438.6,296.9 448.1,315.4 457.6,341.1 476.6,323.6 486.1,312.6 495.6,316.3 505.1,316.0 514.5,336.4 524.0,340.9 562.0,341.1 571.5,340.0 581.0,331.7 590.5,303.6 599.9,300.3 609.4,291.2 618.9,290.3 628.4,287.6 637.9,287.8 647.4,282.3 656.9,294.1 685.4,325.3 694.8,333.4 704.3,314.6 713.8,293.3 723.3,291.0 732.8,316.1 742.3,300.6 751.8,323.5 761.3,316.6 780.2,293.8 789.7,306.2 799.2,320.1 808.7,332.1 818.2,336.3 827.7,334.5 837.2,326.7 846.7,322.6 856.2,322.6 875.1,307.4 894.1,297.8 903.6,300.9 913.1,299.7 922.6,304.8 932.1,295.7 941.6,305.9 951.1,312.9 960.6,315.2 970.0,318.9 989.0,323.9 998.5,321.2 1008.0,322.9"/>
<polyline stroke="#3a0f2a" points="106.5,296.3 116.0,301.8 125.5,313.3 135.0,321.4 144.4,327.0 153.9,325.4 163.4,325.4 172.9,301.6 182.4,281.5 191.9,283.0 201.4,280.6 220.4,285.1 229.9,285.8 239.3,306.5 248.8,304.0 258.3,304.1 267.8,292.8 277.3,323.1 296.3,304.7 305.8,322.7 315.3,336.6 324.8,336.1 334.2,328.7 343.7,326.2 353.2,329.8 362.7,331.7 372.2,332.9 400.7,285.8 410.2,280.4 419.6,273.3 429.1,262.8 448.1,273.9 457.6,275.0 467.1,274.9 476.6,275.8 486.1,280.4 505.1,295.9 524.0,271.1 533.5,256.4 543.0,249.5 552.5,250.2 562.0,248.4 571.5,249.9 581.0,254.5 590.5,253.6 609.4,294.8 618.9,297.6 628.4,287.1 637.9,274.8 647.4,293.8 656.9,309.6 675.9,305.0 685.4,302.0 694.8,286.9 704.3,274.2 713.8,278.0 723.3,270.1 732.8,260.4 742.3,269.1 751.8,279.3 761.3,285.9 770.8,282.6 780.2,277.5 799.2,285.9 818.2,295.8 827.7,304.8 837.2,312.4 846.7,318.2 856.2,335.0 865.7,341.1 875.1,336.4 884.6,318.3 894.1,302.1 903.6,315.7 913.1,317.0 932.1,326.7 941.6,305.0 960.6,323.0 979.5,337.5 989.0,329.1 1008.0,304.8"/>
<polyline stroke="#8a8a00" points="106.5,249.6 116.0,218.9 125.5,220.2 135.0,225.3 144.4,226.5 153.9,231.2 172.9,244.1 182.4,238.6 191.9,237.1 201.4,236.5 210.9,251.2 239.3,246.0 248.8,245.3 258.3,183.5 267.8,190.3 277.3,199.1 286.8,206.0 305.8,228.7 315.3,237.5 324.8,229.6 334.2,223.1 343.7,234.5 353.2,243.0 372.2,194.7 381.7,212.8 391.2,222.1 400.7,235.5 410.2,244.1 419.6,262.0 429.1,260.3 438.6,249.6 448.1,267.8 457.6,267.7 467.1,266.6 476.6,268.9 486.1,257.0 495.6,260.5 505.1,227.3 514.5,184.9 524.0,182.6 533.5,182.5 543.0,183.8 552.5,236.7 562.0,225.8 571.5,218.2 581.0,249.9 590.5,246.1 599.9,246.7 609.4,245.0 618.9,247.0 628.4,255.5 637.9,261.6 647.4,283.8 656.9,222.0 666.4,222.1 675.9,242.8 685.4,221.4 694.8,223.1 704.3,216.8 713.8,212.5 723.3,204.1 732.8,227.2 742.3,224.2 761.3,213.2 770.8,281.0 780.2,238.9 789.7,193.1 799.2,195.4 808.7,199.8 818.2,210.6 827.7,227.2 837.2,228.3 846.7,256.0 856.2,287.8 865.7,250.8 875.1,242.7 884.6,230.0 903.6,225.1 913.1,220.3 922.6,207.7 932.1,208.1 941.6,201.8 951.1,246.9 960.6,249.2 970.0,255.0 979.5,253.5 989.0,254.1 998.5,251.2 1008.0,188.5"/>
<polyline stroke="#555555" points="106.5,275.9 116.0,278.6 153.9,261.8 172.9,269.9 220.4,268.8 239.3,252.2 277.3,267.2 315.3,269.9 324.8,258.4 353.2,256.6 391.2,244.6 400.7,237.8 410.2,249.6 429.1,249.6 438.6,250.7 457.6,268.8 495.6,256.6 505.1,249.3 533.5,261.2 552.5,237.9 581.0,304.2 590.5,286.0 647.4,287.0 685.4,269.1 704.3,254.3 723.3,251.5 732.8,251.5 751.8,271.1 761.3,264.7 780.2,246.2 799.2,246.2 808.7,253.0 827.7,284.2 837.2,222.7 846.7,251.0 884.6,251.0 894.1,195.4 913.1,214.4 922.6,227.1 932.1,207.2 951.1,189.0 979.5,222.1 1008.0,224.7"/>
<polyline stroke="#4fa0ee" points="106.5,298.0 116.0,293.4 125.5,286.9 135.0,278.5 144.4,279.9 153.9,286.3 163.4,294.6 172.9,305.8 191.9,331.4 201.4,324.7 220.4,314.4 229.9,312.0 239.3,308.4 248.8,303.5 258.3,303.7 267.8,305.0 286.8,297.5 296.3,292.0 305.8,289.4 315.3,284.7 324.8,282.7 334.2,289.9 343.7,293.5 353.2,301.4 362.7,305.2 372.2,306.5 381.7,309.4 391.2,307.3 400.7,306.2 410.2,300.1 419.6,300.5 429.1,299.6 438.6,301.3 448.1,298.8 457.6,308.7 467.1,315.5 476.6,296.3 486.1,303.6 495.6,305.5 505.1,310.7 514.5,309.9 524.0,307.4 533.5,301.4 543.0,305.2 562.0,307.7 571.5,290.4 581.0,295.3 599.9,308.9 609.4,321.0 618.9,318.3 628.4,314.0 637.9,318.6 647.4,321.7 666.4,325.9 675.9,328.8 685.4,319.6 694.8,312.3 704.3,302.2 713.8,288.7 723.3,300.6 732.8,310.7 742.3,310.4 751.8,313.0 761.3,307.6 770.8,299.5 780.2,295.3 799.2,288.6 818.2,293.2 827.7,292.5 837.2,290.0 846.7,286.1 875.1,328.5 884.6,323.0 903.6,307.6 913.1,308.0 922.6,309.1 932.1,301.1 951.1,295.5 960.6,295.9 970.0,288.6 979.5,285.2 998.5,325.4 1008.0,310.5"/>
<polyline stroke="#3a0f2a" points="106.5,256.7 116.0,252.4 125.5,246.0 144.4,252.5 153.9,256.7 163.4,257.0 172.9,258.4 182.4,264.8 191.9,266.9 201.4,266.4 210.9,264.8 220.4,213.9 229.9,261.0 239.3,245.4 248.8,226.9 258.3,228.2 267.8,230.3 277.3,235.8 286.8,250.2 296.3,249.7 305.8,245.3 324.8,242.4 334.2,189.5 343.7,192.3 353.2,191.0 362.7,197.5 372.2,199.0 381.7,232.2 391.2,243.7 400.7,257.0 410.2,290.9 429.1,255.9 438.6,258.6 448.1,262.5 457.6,193.4 467.1,216.0 476.6,241.1 486.1,249.4 495.6,253.2 505.1,260.8 514.5,269.9 524.0,264.4 533.5,260.4 543.0,266.6 552.5,267.0 571.5,296.1 581.0,294.4 590.5,296.0 609.4,253.7 618.9,229.1 628.4,230.2 637.9,228.2 647.4,225.2 656.9,216.9 666.4,217.2 675.9,220.1 685.4,220.8 694.8,220.6 704.3,223.8 723.3,247.1 732.8,250.9 742.3,251.9 761.3,249.1 770.8,249.4 780.2,251.8 789.7,250.8 808.7,245.5 818.2,246.8 827.7,249.0 837.2,246.9 856.2,246.3 865.7,247.2 875.1,249.2 884.6,234.5 894.1,222.5 903.6,221.6 913.1,222.1 932.1,269.5 941.6,252.6 951.1,253.9 960.6,253.7 970.0,251.5 979.5,218.5 989.0,191.6 1008.0,221.4"/>
<polyline stroke="#1f5fff" points="106.5,257.3 125.5,289.4 144.4,301.3 153.9,305.5 163.4,304.5 172.9,307.9 182.4,307.3 191.9,291.6 210.9,275.9 220.4,268.9 229.9,287.6 239.3,249.4 248.8,250.4 267.8,282.7 277.3,280.8 286.8,266.9 296.3,262.8 305.8,265.2 315.3,265.9 324.8,264.9 334.2,258.5 343.7,262.3 353.2,267.4 362.7,268.3 372.2,266.3 381.7,265.5 400.7,285.6 410.2,277.2 419.6,278.2 429.1,277.0 438.6,270.1 448.1,257.8 457.6,291.1 467.1,253.8 476.6,256.1 495.6,258.3 505.1,257.7 514.5,260.7 552.5,246.6 562.0,246.7 571.5,251.8 581.0,248.9 590.5,254.7 599.9,270.6 609.4,288.7 618.9,245.3 628.4,244.1 637.9,237.7 647.4,264.2 656.9,260.7 666.4,254.9 675.9,255.7 694.8,274.4 704.3,264.7 713.8,257.2 723.3,244.8 742.3,273.4 751.8,295.0 761.3,295.8 770.8,297.5 780.2,294.5 789.7,292.6 799.2,274.9 808.7,261.0 818.2,266.2 827.7,265.3 837.2,266.0 846.7,266.1 856.2,275.6 865.7,251.0 884.6,271.2 913.1,269.3 922.6,245.4 941.6,251.6 951.1,255.6 960.6,276.1 970.0,272.6 979.5,275.2 998.5,281.8 1008.0,279.0"/>
<polyline stroke="#ff2a2a" points="106.5,279.5 125.5,279.5 135.0,295.6 144.4,284.9 163.4,284.9 182.4,286.3 210.9,276.7 229.9,293.1 267.8,293.1 286.8,283.9 324.8,278.2 334.2,278.2 362.7,251.9 372.2,253.4 381.7,250.5 410.2,272.7 438.6,255.1 457.6,255.1 476.6,298.9 505.1,276.6 524.0,263.3 533.5,280.5 571.5,263.2 581.0,249.0 609.4,280.7 618.9,280.7 656.9,274.3 675.9,280.0 685.4,255.4 704.3,272.5 732.8,272.5 761.3,268.5 780.2,268.5 818.2,272.7 827.7,280.1 837.2,233.8 865.7,227.7 903.6,227.7 941.6,225.1 960.6,214.4 970.0,212.9 998.5,195.8 1008.0,202.6"/>
<polyline stroke="#33dd33" points="106.5,190.9 125.5,174.0 153.9,185.4 172.9,174.3 191.9,184.6 201.4,198.8 210.9,198.8 229.9,193.9 258.3,201.6 286.8,227.4 315.3,197.3 343.7,197.3 372.2,166.7 381.7,166.7 400.7,186.1 419.6,191.9 429.1,179.5 457.6,188.7 467.1,194.5 486.1,226.8 495.6,203.9 533.5,203.9 543.0,185.3 562.0,212.7 571.5,212.7 590.5,172.2 599.9,172.2 618.9,157.6 628.4,157.6 647.4,194.3 656.9,186.6 675.9,186.6 704.3,216.2 732.8,188.7 761.3,187.1 770.8,184.7 780.2,194.5 799.2,179.6 818.2,197.0 827.7,193.9 837.2,156.3 846.7,153.1 856.2,157.0 875.1,178.6 894.1,178.6 922.6,181.5 951.1,157.3 960.6,147.1 1008.0,147.1"/>
<polyline stroke="#c8960a" points="106.5,310.7 116.0,314.8 144.4,324.4 153.9,326.6 163.4,312.8 172.9,304.2 182.4,328.1 191.9,341.1 210.9,341.1 220.4,336.4 239.3,327.9 258.3,317.2 267.8,310.7 277.3,309.8 286.8,320.1 296.3,326.2 305.8,340.0 324.8,326.6 334.2,323.4 343.7,304.6 362.7,341.1 400.7,341.1 410.2,339.6 419.6,341.1 448.1,341.1 457.6,307.9 467.1,313.6 476.6,322.4 486.1,306.9 495.6,310.0 505.1,311.8 514.5,316.1 524.0,303.5 533.5,298.8 543.0,298.3 552.5,299.5 562.0,299.2 571.5,297.2 590.5,302.2 599.9,300.4 609.4,304.9 628.4,317.2 637.9,297.2 647.4,319.8 656.9,321.5 666.4,320.5 675.9,298.9 685.4,280.6 704.3,285.8 713.8,287.5 723.3,284.0 751.8,279.1 761.3,280.1 780.2,301.9 789.7,310.4 799.2,317.6 808.7,322.6 818.2,325.0 827.7,325.1 837.2,329.0 846.7,330.2 856.2,323.7 865.7,311.0 875.1,309.3 884.6,311.7 894.1,291.4 903.6,289.8 913.1,309.9 922.6,308.0 941.6,307.9 960.6,315.7 970.0,321.7 989.0,316.2 998.5,317.9 1008.0,318.4"/>
<polyline stroke="#555555" points="106.5,245.5 116.0,249.0 125.5,250.0 144.4,256.7 163.4,252.5 172.9,255.1 182.4,252.8 191.9,253.4 201.4,255.5 210.9,249.8 220.4,236.9 229.9,230.3 239.3,229.5 248.8,227.1 258.3,222.6 277.3,275.3 296.3,267.3 305.8,264.5 315.3,272.0 324.8,278.3 334.2,286.1 343.7,294.9 353.2,300.7 372.2,292.7 381.7,292.3 391.2,296.4 400.7,266.6 410.2,267.4 419.6,270.8 429.1,258.6 438.6,261.3 448.1,260.1 457.6,263.6 467.1,265.5 476.6,265.2 486.1,261.7 505.1,248.6 514.5,274.1 533.5,270.2 543.0,265.0 562.0,261.7 581.0,271.7 590.5,274.7 599.9,275.9 609.4,287.5 618.9,287.4 628.4,278.2 637.9,264.8 656.9,242.6 666.4,228.9 675.9,239.1 685.4,248.0 694.8,255.5 713.8,262.5 723.3,296.1 732.8,283.0 742.3,274.5 751.8,262.0 761.3,251.0 770.8,222.2 780.2,246.4 789.7,229.0 818.2,223.4 827.7,217.5 837.2,246.3 846.7,280.5 856.2,277.4 865.7,271.3 875.1,264.2 884.6,259.4 894.1,251.8 913.1,276.0 922.6,284.2 932.1,280.4 941.6,281.3 951.1,276.3 960.6,291.6 970.0,293.9 979.5,291.2 989.0,290.5 998.5,290.5 1008.0,261.2"/>
<polyline stroke="#3a0f2a" points="106.5,208.2 116.0,210.5 125.5,296.6 135.0,297.2 144.4,294.8 153.9,297.0 172.9,294.0 182.4,297.7 201.4,288.7 210.9,288.0 220.4,284.2 229.9,283.6 239.3,277.4 248.8,272.3 258.3,270.6 267.8,292.2 277.3,288.3 286.8,276.1 296.3,265.5 305.8,265.3 315.3,266.1 324.8,270.8 334.2,282.4 343.7,285.2 353.2,289.4 362.7,295.9 372.2,298.0 381.7,303.4 391.2,300.7 400.7,301.1 410.2,300.4 419.6,300.8 429.1,299.4 438.6,289.2 457.6,274.1 467.1,286.5 476.6,283.7 486.1,275.5 495.6,275.1 505.1,276.3 514.5,280.1 524.0,281.9 533.5,290.9 543.0,297.2 552.5,292.0 562.0,288.4 571.5,286.2 581.0,292.5 590.5,294.9 609.4,302.7 618.9,303.0 628.4,307.2 637.9,323.5 647.4,336.1 656.9,317.3 666.4,303.2 675.9,297.1 685.4,293.5 694.8,297.1 704.3,294.0 713.8,300.2 723.3,295.3 732.8,314.8 742.3,311.6 751.8,283.4 761.3,279.8 770.8,274.0 780.2,273.2 799.2,269.3 808.7,280.4 818.2,289.6 827.7,292.3 846.7,295.1 856.2,292.8 865.7,285.9 875.1,282.4 884.6,277.0 894.1,281.3 903.6,284.0 922.6,294.6 932.1,291.8 941.6,290.2 951.1,290.7 960.6,303.1 970.0,309.3 989.0,291.4 998.5,303.6 1008.0,318.8"/>
<polyline stroke="#e81c4c" points="106.5,233.1 116.0,262.1 125.5,258.5 135.0,253.1 144.4,252.0 153.9,253.1 163.4,239.6 172.9,240.3 182.4,244.2 191.9,243.2 201.4,244.8 210.9,245.2 220.4,237.8 229.9,223.6 239.3,226.5 248.8,233.6 258.3,238.8 277.3,311.6 286.8,315.8 296.3,313.4 305.8,267.6 315.3,270.5 324.8,261.2 334.2,265.8 343.7,265.5 353.2,269.6 362.7,269.6 372.2,268.3 381.7,264.8 391.2,267.5 400.7,266.6 410.2,271.2 419.6,250.3 429.1,233.6 438.6,233.3 448.1,233.7 457.6,240.4 467.1,231.4 476.6,229.7 486.1,231.6 495.6,226.0 505.1,209.4 524.0,213.7 533.5,235.5 543.0,260.8 552.5,261.4 571.5,211.7 581.0,189.7 590.5,192.0 599.9,192.2 609.4,251.1 628.4,276.8 637.9,257.0 647.4,257.7 656.9,254.5 666.4,257.5 675.9,258.8 685.4,232.6 694.8,224.2 704.3,218.0 713.8,215.9 723.3,202.1 732.8,192.6 742.3,191.6 751.8,192.9 761.3,190.4 780.2,247.3 789.7,257.1 799.2,222.7 808.7,258.4 818.2,236.0 827.7,218.2 837.2,219.0 846.7,196.6 856.2,195.1 875.1,194.3 884.6,204.8 894.1,213.3 903.6,223.9 913.1,248.2 922.6,269.2 932.1,259.3 941.6,247.7 951.1,238.0 970.0,202.4 979.5,197.7 989.0,199.1 998.5,272.1 1008.0,268.5"/>
<polyline stroke="#50e8c0" points="106.5,281.0 116.0,286.4 125.5,293.2 135.0,296.0 144.4,287.2 163.4,310.4 182.4,328.8 191.9,309.4 210.9,284.3 220.4,281.7 229.9,282.6 239.3,275.9 248.8,266.6 258.3,258.6 267.8,261.2 286.8,272.7 296.3,273.0 315.3,268.6 324.8,274.5 334.2,282.7 343.7,292.8 362.7,309.1 372.2,288.9 381.7,299.6 391.2,312.0 400.7,268.9 410.2,254.8 419.6,261.0 429.1,263.1 438.6,267.0 448.1,262.7 457.6,256.7 467.1,256.0 476.6,258.2 486.1,259.7 495.6,262.8 505.1,261.4 514.5,247.5 524.0,262.8 533.5,281.5 543.0,278.0 562.0,261.7 571.5,276.0 581.0,284.8 590.5,297.5 599.9,287.9 609.4,280.6 628.4,270.1 637.9,314.1 647.4,323.9 656.9,325.7 666.4,329.7 675.9,322.1 685.4,322.2 694.8,315.6 704.3,310.4 713.8,302.1 723.3,303.8 732.8,308.0 751.8,311.7 761.3,315.4 770.8,316.4 780.2,316.2 789.7,318.0 799.2,305.5 808.7,298.2 818.2,286.7 827.7,288.2 837.2,291.4 846.7,295.6 856.2,310.2 865.7,310.2 875.1,307.2 884.6,307.4 894.1,309.3 903.6,306.5 913.1,308.7 922.6,313.0 932.1,314.8 941.6,284.5 951.1,274.0 960.6,267.8 979.5,270.3 989.0,292.5 998.5,289.6 1008.0,288.2"/>
<polyline stroke="#c8960a" points="106.5,337.9 116.0,337.2 125.5,341.1 391.2,341.1 400.7,334.8 410.2,315.8 419.6,325.1 429.1,325.8 438.6,324.1 448.1,331.0 457.6,335.0 467.1,336.5 476.6,330.0 486.1,336.1 495.6,335.4 505.1,329.1 514.5,325.1 524.0,321.9 533.5,323.2 543.0,320.9 552.5,326.1 562.0,329.5 571.5,334.8 581.0,333.1 590.5,334.1 599.9,332.8 609.4,332.2 618.9,333.2 637.9,328.8 647.4,309.9 656.9,309.0 666.4,301.7 685.4,303.7 694.8,308.9 713.8,311.4 723.3,309.7 742.3,310.0 751.8,304.9 761.3,302.9 770.8,312.8 780.2,320.4 789.7,307.4 799.2,300.1 818.2,312.9 827.7,317.2 837.2,310.7 846.7,299.0 856.2,303.2 865.7,299.2 875.1,298.5 884.6,301.3 894.1,305.2 903.6,306.1 913.1,293.3 922.6,298.3 932.1,300.6 941.6,306.2 951.1,306.4 960.6,309.2 970.0,310.4 979.5,310.2 998.5,308.5 1008.0,298.9"/>
<polyline stroke="#1f5fff" points="106.5,279.3 135.0,290.8 172.9,258.2 201.4,256.7 220.4,263.4 248.8,266.1 277.3,266.1 305.8,287.4 324.8,273.1 362.7,284.0 381.7,261.9 410.2,279.8 429.1,288.3 457.6,292.7 467.1,292.7 495.6,258.3 505.1,260.3 533.5,256.8 571.5,263.3 590.5,263.3 609.4,288.6 666.4,287.9 685.4,261.2 723.3,278.0 742.3,268.0 751.8,273.5 761.3,286.0 789.7,272.7 799.2,283.2 808.7,265.2 827.7,270.6 837.2,209.3 846.7,212.1 856.2,219.5 884.6,193.2 913.1,192.2 941.6,202.8 960.6,204.3 989.0,213.1 1008.0,221.9"/>
<polyline stroke="#e81c4c" points="106.5,214.6 116.0,237.7 125.5,235.9 135.0,236.8 144.4,235.7 153.9,198.3 163.4,197.3 172.9,197.2 182.4,198.1 210.9,197.8 220.4,211.3 229.9,220.7 239.3,231.9 248.8,230.1 258.3,229.1 267.8,230.7 277.3,204.9 286.8,189.4 305.8,161.3 315.3,204.0 324.8,240.7 362.7,204.6 372.2,204.5 381.7,209.1 391.2,211.1 400.7,224.2 419.6,245.2 429.1,254.0 438.6,232.7 448.1,225.8 457.6,221.6 467.1,212.4 476.6,198.1 486.1,191.3 495.6,180.8 505.1,245.7 514.5,246.3 524.0,249.2 533.5,247.3 552.5,221.2 562.0,226.7 571.5,228.7 581.0,228.0 590.5,209.6 599.9,235.7 609.4,273.7 618.9,246.5 637.9,201.6 647.4,220.2 656.9,220.2 666.4,222.1 675.9,214.6 704.3,196.8 713.8,226.7 723.3,188.4 732.8,186.0 742.3,191.4 751.8,192.7 761.3,197.1 770.8,193.4 780.2,196.6 789.7,197.2 799.2,200.5 808.7,189.9 827.7,174.3 856.2,201.1 865.7,211.3 875.1,173.9 884.6,218.7 894.1,227.3 903.6,241.8 922.6,231.3 932.1,223.1 941.6,230.0 951.1,238.4 970.0,218.8 979.5,213.7 989.0,202.1 1008.0,149.0"/>
<polyline stroke="#1f5fff" points="106.5,297.7 125.5,297.8 163.4,323.1 191.9,323.1 201.4,302.8 229.9,325.5 248.8,287.5 267.8,285.3 305.8,271.3 315.3,287.7 334.2,278.7 343.7,272.2 372.2,306.0 400.7,306.0 410.2,306.6 429.1,309.4 457.6,309.4 467.1,284.1 524.0,284.1 552.5,277.9 571.5,249.4 581.0,260.6 609.4,249.6 637.9,286.6 656.9,293.6 694.8,272.3 723.3,281.7 761.3,281.5 799.2,256.2 827.7,278.5 837.2,206.7 865.7,206.3 903.6,214.3 932.1,214.3 970.0,207.0 998.5,207.0 1008.0,223.2"/>
<polyline stroke="#c8960a" points="106.5,283.9 116.0,287.2 125.5,287.5 135.0,295.5 144.4,282.7 163.4,292.3 172.9,295.3 182.4,303.0 191.9,306.4 201.4,301.5 210.9,292.1 220.4,289.4 229.9,293.2 239.3,291.5 258.3,267.7 267.8,269.0 286.8,264.2 296.3,266.3 305.8,270.1 315.3,275.8 324.8,290.4 334.2,306.9 343.7,327.1 353.2,329.4 362.7,323.5 372.2,326.2 381.7,304.0 391.2,279.5 400.7,278.2 410.2,281.5 419.6,280.4 429.1,282.0 438.6,279.7 448.1,278.6 467.1,313.2 486.1,308.0 495.6,301.9 505.1,300.1 514.5,302.3 524.0,294.9 533.5,267.1 543.0,266.8 562.0,276.9 571.5,274.2 581.0,277.0 599.9,291.8 609.4,297.1 618.9,294.7 628.4,296.5 637.9,294.4 656.9,285.6 666.4,280.5 675.9,278.3 685.4,213.4 704.3,290.2 713.8,313.1 723.3,313.9 732.8,311.6 751.8,310.5 770.8,277.7 780.2,258.8 789.7,275.3 799.2,274.1 808.7,271.3 818.2,285.8 827.7,302.1 837.2,300.9 846.7,295.8 865.7,272.3 875.1,257.9 884.6,261.1 903.6,283.4 913.1,287.4 922.6,305.7 951.1,280.8 970.0,258.5 979.5,270.9 989.0,281.0 998.5,294.9 1008.0,314.2"/>
<polyline stroke="#e81c4c" points="106.5,261.4 135.0,270.8 163.4,297.7 182.4,279.8 220.4,311.4 229.9,304.6 239.3,287.1 267.8,287.2 286.8,283.2 305.8,289.7 315.3,217.6 334.2,207.8 372.2,201.7 391.2,193.4 400.7,204.2 410.2,204.2 438.6,195.1 467.1,202.7 476.6,202.7 486.1,278.2 505.1,278.2 524.0,282.5 533.5,281.5 571.5,280.1 609.4,295.0 637.9,295.0 656.9,301.8 675.9,282.1 694.8,295.6 723.3,295.6 742.3,298.2 780.2,284.9 808.7,293.1 827.7,279.0 865.7,279.0 903.6,290.4 941.6,294.1 979.5,294.1 1008.0,295.4"/>
<polyline stroke="#33dd33" points="106.5,145.3 116.0,146.8 125.5,175.1 135.0,169.4 144.4,169.0 153.9,167.4 163.4,163.0 172.9,152.8 182.4,147.7 191.9,148.2 201.4,149.8 210.9,148.7 220.4,152.8 229.9,166.1 239.3,168.1 258.3,164.4 267.8,170.4 277.3,173.4 305.8,185.6 315.3,188.2 324.8,185.4 334.2,179.9 343.7,202.3 353.2,192.4 362.7,176.8 372.2,173.7 391.2,170.4 400.7,174.4 419.6,187.2 429.1,188.5 438.6,188.0 448.1,184.1 457.6,176.5 467.1,167.4 476.6,155.7 495.6,172.9 505.1,173.7 524.0,173.0 533.5,175.9 543.0,171.7 552.5,168.9 562.0,169.0 571.5,162.1 581.0,158.0 590.5,150.4 609.4,148.8 618.9,149.4 637.9,179.7 647.4,168.0 656.9,159.1 666.4,177.2 675.9,178.4 685.4,177.8 694.8,181.0 713.8,196.0 732.8,185.2 742.3,178.9 751.8,178.9 761.3,177.2 770.8,184.8 780.2,188.6 789.7,183.9 808.7,172.0 827.7,166.9 837.2,160.3 846.7,163.0 856.2,160.1 865.7,155.6 875.1,155.2 884.6,148.8 894.1,160.0 903.6,168.5 913.1,170.6 922.6,171.6 941.6,187.3 951.1,203.0 960.6,206.8 979.5,200.8 998.5,178.5 1008.0,185.9"/>
<polyline stroke="#ff2a2a" points="106.5,264.1 116.0,284.8 135.0,280.8 153.9,256.2 163.4,252.3 182.4,275.0 201.4,302.1 210.9,282.3 220.4,284.1 258.3,266.7 277.3,266.7 305.8,247.0 315.3,192.4 324.8,192.4 362.7,230.8 372.2,212.0 391.2,233.6 400.7,236.5 410.2,294.2 438.6,273.7 448.1,273.7 467.1,266.8 476.6,283.3 495.6,300.2 533.5,320.1 562.0,320.1 590.5,291.4 647.4,291.4 675.9,299.6 685.4,276.8 723.3,301.8 751.8,268.5 780.2,276.2 799.2,277.9 856.2,277.9 865.7,280.6 903.6,282.7 913.1,287.5 922.6,270.8 951.1,279.9 960.6,279.9 970.0,268.7 998.5,264.8 1008.0,264.8"/>
<polyline stroke="#c8960a" points="106.5,172.9 116.0,170.3 125.5,196.1 135.0,192.0 144.4,209.0 153.9,222.0 163.4,207.0 172.9,189.2 182.4,198.0 191.9,230.2 210.9,219.0 220.4,214.3 229.9,206.0 239.3,203.7 248.8,200.2 258.3,187.9 267.8,209.2 277.3,208.4 286.8,225.8 296.3,228.6 305.8,234.4 315.3,238.8 324.8,216.7 334.2,207.1 343.7,193.2 353.2,201.4 362.7,204.5 372.2,214.9 381.7,216.1 391.2,220.8 400.7,218.5 410.2,220.4 429.1,189.2 438.6,175.0 448.1,187.1 467.1,208.0 486.1,211.8 495.6,216.7 505.1,215.1 514.5,208.5 524.0,198.9 533.5,197.9 543.0,196.0 552.5,205.3 562.0,203.2 571.5,202.3 581.0,197.8 590.5,214.2 599.9,223.7 609.4,221.1 618.9,213.8 628.4,210.9 637.9,212.3 647.4,215.0 656.9,227.6 666.4,229.1 675.9,227.1 685.4,199.9 694.8,180.6 713.8,151.9 723.3,149.7 732.8,151.6 742.3,229.9 751.8,199.5 761.3,218.8 770.8,213.0 780.2,212.6 789.7,209.8 808.7,207.4 818.2,207.9 827.7,206.9 837.2,204.9 846.7,208.0 856.2,197.8 865.7,184.9 875.1,182.0 884.6,182.3 894.1,154.1 922.6,175.7 932.1,156.4 941.6,148.9 951.1,148.6 960.6,147.6 970.0,148.6 979.5,164.6 989.0,184.3 998.5,168.9 1008.0,200.2"/>
<polyline stroke="#ff2a2a" points="106.5,236.7 116.0,235.8 125.5,237.2 153.9,238.5 163.4,235.2 182.4,245.0 191.9,254.1 201.4,257.1 210.9,262.8 220.4,280.0 229.9,275.3 239.3,269.4 248.8,259.0 258.3,292.8 267.8,307.1 277.3,316.0 286.8,315.4 296.3,311.0 305.8,303.7 324.8,308.7 334.2,255.8 343.7,254.0 353.2,250.6 362.7,251.1 372.2,238.5 381.7,229.0 391.2,217.4 410.2,232.6 419.6,255.0 429.1,226.6 438.6,230.7 448.1,233.5 457.6,238.5 467.1,279.2 476.6,275.7 486.1,280.1 495.6,270.9 505.1,266.0 514.5,264.9 533.5,242.3 543.0,244.5 552.5,242.6 562.0,241.5 571.5,229.4 581.0,222.7 590.5,230.1 599.9,235.4 609.4,242.0 618.9,243.1 628.4,240.2 647.4,241.8 656.9,240.6 666.4,243.6 675.9,243.9 685.4,245.9 704.3,248.1 713.8,247.9 723.3,263.0 732.8,256.3 742.3,241.0 751.8,229.1 761.3,253.9 770.8,203.9 780.2,202.5 799.2,229.0 818.2,250.0 827.7,257.4 837.2,257.8 846.7,252.2 856.2,251.2 865.7,245.2 875.1,245.3 884.6,241.9 903.6,225.0 913.1,227.9 922.6,229.5 932.1,230.0 941.6,226.6 951.1,228.4 960.6,228.5 970.0,208.5 979.5,208.3 989.0,209.1 998.5,209.0 1008.0,183.1"/>
<polyline stroke="#8a5cff" points="106.5,307.9 125.5,302.1 135.0,304.1 144.4,303.1 153.9,304.4 163.4,303.5 172.9,307.1 182.4,307.5 191.9,305.1 201.4,304.7 210.9,310.1 220.4,307.9 229.9,307.1 239.3,312.8 248.8,267.3 258.3,268.1 267.8,265.5 277.3,265.6 286.8,269.2 296.3,271.1 305.8,267.4 324.8,311.7 334.2,313.4 343.7,312.2 353.2,302.9 362.7,295.7 372.2,287.1 381.7,303.5 391.2,306.6 410.2,315.2 419.6,305.1 429.1,292.9 438.6,302.3 448.1,279.8 457.6,279.4 467.1,295.6 476.6,295.6 486.1,306.6 495.6,314.4 505.1,300.3 524.0,278.1 533.5,286.2 543.0,295.6 552.5,302.7 562.0,305.7 571.5,303.8 581.0,305.2 590.5,293.1 599.9,285.4 618.9,245.9 628.4,249.9 637.9,262.4 647.4,266.9 656.9,265.6 666.4,275.3 675.9,291.1 685.4,291.4 694.8,290.7 704.3,287.0 713.8,286.1 723.3,289.6 732.8,293.9 742.3,289.1 751.8,288.2 761.3,283.9 770.8,282.6 789.7,236.1 818.2,288.1 827.7,322.8 837.2,315.6 846.7,310.9 856.2,302.0 875.1,260.0 884.6,266.1 894.1,267.0 913.1,255.1 922.6,284.8 932.1,281.5 941.6,283.3 951.1,283.9 960.6,278.8 979.5,290.1 989.0,292.6 998.5,287.0 1008.0,279.7"/>
<polyline stroke="#77dd00" points="106.5,321.0 116.0,314.6 135.0,293.7 144.4,292.1 153.9,294.3 163.4,293.9 172.9,315.9 182.4,316.3 191.9,315.5 201.4,317.1 210.9,315.9 220.4,313.6 229.9,308.7 239.3,310.1 248.8,315.0 258.3,321.8 267.8,317.5 286.8,303.6 296.3,303.4 315.3,306.4 334.2,306.4 343.7,310.5 353.2,315.6 362.7,316.4 372.2,327.5 381.7,326.4 391.2,324.0 400.7,312.7 410.2,305.1 419.6,309.6 429.1,312.5 448.1,310.2 457.6,303.1 467.1,311.2 476.6,281.6 486.1,285.5 495.6,279.7 505.1,281.8 514.5,288.2 524.0,290.9 533.5,292.6 543.0,298.1 552.5,298.0 562.0,299.7 571.5,299.9 581.0,303.6 590.5,301.9 599.9,306.8 609.4,295.0 618.9,284.8 628.4,270.1 637.9,265.7 647.4,267.2 656.9,267.4 675.9,314.7 685.4,314.2 694.8,307.6 704.3,303.7 713.8,307.7 732.8,328.9 761.3,296.9 770.8,298.5 780.2,306.0 789.7,309.6 799.2,300.4 808.7,289.0 818.2,282.0 837.2,261.8 856.2,285.9 865.7,286.3 894.1,280.3 903.6,279.6 913.1,268.4 922.6,262.3 932.1,262.7 941.6,261.7 951.1,258.0 960.6,257.6 970.0,259.6 979.5,264.5 998.5,285.4 1008.0,255.3"/>
<polyline stroke="#1f5fff" points="106.5,293.6 144.4,271.5 153.9,248.8 172.9,274.2 201.4,251.6 239.3,251.6 248.8,256.3 286.8,261.2 315.3,261.0 353.2,275.4 362.7,271.7 381.7,271.7 400.7,279.3 457.6,278.6 476.6,285.8 514.5,267.7 543.0,282.3 581.0,282.3 656.9,285.6 666.4,304.7 704.3,267.5 742.3,294.9 780.2,275.4 789.7,254.9 808.7,266.6 827.7,269.1 837.2,216.0 856.2,232.6 875.1,229.2 913.1,248.2 932.1,193.2 941.6,195.5 970.0,210.6 979.5,204.9 1008.0,218.7"/>
<polyline stroke="#4fa0ee" points="106.5,294.4 125.5,293.3 144.4,297.4 191.9,297.4 220.4,273.2 248.8,273.2 258.3,279.0 267.8,281.2 296.3,274.4 315.3,299.0 334.2,304.2 362.7,283.7 400.7,287.4 429.1,287.4 448.1,291.8 486.1,291.8 524.0,284.4 562.0,284.4 581.0,275.5 590.5,298.9 618.9,286.3 647.4,271.7 685.4,279.6 704.3,280.2 742.3,273.6 827.7,273.6 837.2,196.7 865.7,213.7 903.6,206.2 932.1,219.5 970.0,226.2 989.0,226.2 1008.0,222.2"/>
<polyline stroke="#ff2a2a" points="106.5,232.7 116.0,229.3 125.5,280.9 135.0,293.5 144.4,295.9 153.9,294.5 172.9,289.6 182.4,288.2 191.9,285.9 201.4,282.3 210.9,284.4 229.9,302.3 239.3,314.9 248.8,312.9 258.3,307.9 267.8,308.6 277.3,290.8 286.8,293.0 296.3,288.4 305.8,286.2 315.3,280.1 324.8,283.2 334.2,284.5 343.7,287.8 353.2,285.2 362.7,285.0 372.2,282.3 391.2,258.6 400.7,262.6 410.2,264.6 419.6,265.6 429.1,268.9 438.6,267.6 448.1,264.7 457.6,274.1 467.1,270.7 476.6,268.7 486.1,268.6 495.6,274.1 505.1,266.5 514.5,260.5 524.0,251.9 543.0,260.5 552.5,261.3 562.0,255.3 571.5,248.3 581.0,246.4 590.5,247.6 599.9,251.8 609.4,250.8 618.9,256.5 628.4,260.7 637.9,293.7 647.4,281.6 656.9,277.0 666.4,279.9 675.9,283.8 685.4,282.7 694.8,268.0 704.3,257.1 713.8,244.7 723.3,247.7 732.8,249.8 742.3,248.2 751.8,248.7 761.3,256.1 770.8,233.8 780.2,255.4 789.7,280.2 799.2,269.6 808.7,257.0 818.2,246.0 827.7,247.5 846.7,259.3 856.2,261.5 865.7,264.5 875.1,265.1 884.6,266.8 903.6,247.1 913.1,247.4 932.1,251.2 941.6,254.2 951.1,255.9 960.6,256.9 970.0,262.8 979.5,264.9 989.0,263.6 998.5,264.1 1008.0,225.3"/>
<polyline stroke="#4fa0ee" points="106.5,264.1 125.5,290.7 135.0,295.6 144.4,288.6 153.9,284.7 163.4,276.2 172.9,283.3 191.9,294.3 201.4,302.7 210.9,309.1 220.4,313.9 229.9,322.2 239.3,324.2 248.8,330.0 258.3,315.9 267.8,304.3 277.3,291.0 286.8,306.2 296.3,289.7 305.8,291.3 315.3,297.0 324.8,303.8 343.7,308.0 353.2,304.3 362.7,307.1 372.2,330.0 381.7,323.3 391.2,318.9 400.7,317.1 410.2,321.3 419.6,324.1 429.1,328.9 438.6,319.0 448.1,313.8 457.6,306.1 467.1,300.6 486.1,294.5 495.6,286.7 505.1,296.9 514.5,303.5 524.0,304.3 533.5,302.8 543.0,305.0 552.5,304.1 562.0,298.5 571.5,298.3 581.0,308.8 590.5,317.8 609.4,313.3 628.4,304.7 637.9,301.9 647.4,295.3 656.9,293.9 666.4,310.4 675.9,307.0 685.4,307.4 694.8,310.7 713.8,297.8 723.3,298.3 732.8,301.2 742.3,305.5 751.8,327.1 761.3,323.9 770.8,316.2 780.2,310.0 789.7,301.3 799.2,312.8 818.2,328.6 827.7,303.2 837.2,296.5 846.7,290.8 856.2,288.6 865.7,285.1 875.1,287.1 884.6,294.4 894.1,306.5 903.6,308.0 913.1,311.2 922.6,316.6 941.6,316.0 951.1,299.3 960.6,278.8 970.0,278.7 979.5,280.9 989.0,280.0 998.5,282.8 1008.0,299.5"/>
<polyline stroke="#ff2a2a" points="106.5,269.1 144.4,263.3 182.4,265.2 191.9,280.7 201.4,269.6 239.3,262.8 277.3,267.5 353.2,267.5 372.2,263.5 381.7,285.2 400.7,285.2 419.6,261.7 448.1,256.1 457.6,246.0 476.6,248.2 533.5,248.2 562.0,278.0 590.5,279.3 599.9,295.0 618.9,278.5 637.9,278.5 647.4,266.6 685.4,265.6 694.8,264.1 704.3,274.6 742.3,286.8 789.7,286.8 818.2,269.2 827.7,296.2 837.2,236.1 865.7,209.8 884.6,239.2 903.6,232.6 913.1,220.3 951.1,220.1 960.6,218.1 970.0,205.8 979.5,223.4 989.0,207.3 1008.0,216.9"/>
<polyline stroke="#e81c4c" points="106.5,257.7 125.5,231.4 144.4,248.7 153.9,252.9 172.9,248.3 191.9,255.5 201.4,263.8 210.9,261.8 220.4,243.7 229.9,269.6 248.8,305.1 258.3,326.6 267.8,305.4 286.8,252.9 296.3,230.3 305.8,229.6 315.3,226.0 324.8,227.0 334.2,240.5 343.7,259.3 353.2,274.7 362.7,272.1 372.2,271.7 381.7,270.4 391.2,271.8 400.7,268.8 410.2,255.2 419.6,243.3 429.1,230.0 438.6,275.3 448.1,271.9 457.6,271.7 467.1,248.6 476.6,220.6 486.1,220.8 495.6,222.9 505.1,222.3 524.0,232.4 533.5,239.7 562.0,278.7 590.5,277.9 599.9,280.9 609.4,283.0 618.9,280.2 637.9,242.9 647.4,240.8 666.4,229.9 675.9,229.8 685.4,184.8 694.8,184.7 704.3,201.3 713.8,231.2 723.3,210.2 732.8,203.8 742.3,196.2 751.8,195.6 761.3,198.9 770.8,196.6 780.2,196.7 789.7,198.0 799.2,197.9 808.7,212.3 818.2,223.1 827.7,236.1 837.2,231.4 846.7,224.6 856.2,222.0 865.7,228.3 875.1,240.3 884.6,245.4 903.6,285.6 922.6,288.1 932.1,293.7 941.6,293.6 951.1,253.7 960.6,239.4 979.5,227.2 989.0,224.0 1008.0,211.0"/>
<polyline stroke="#4fa0ee" points="106.5,287.5 125.5,287.1 144.4,279.9 163.4,265.4 191.9,256.2 201.4,269.3 210.9,251.5 220.4,269.6 248.8,294.3 277.3,294.3 296.3,273.4 315.3,273.4 324.8,284.9 353.2,280.1 362.7,256.6 400.7,256.6 429.1,247.7 467.1,272.2 486.1,272.2 524.0,268.0 562.0,284.6 590.5,284.6 656.9,296.1 675.9,298.1 685.4,272.1 723.3,250.2 751.8,275.1 780.2,287.4 799.2,298.3 827.7,258.9 837.2,198.9 846.7,210.7 856.2,200.7 894.1,202.7 922.6,214.0 941.6,195.6 979.5,195.6 1008.0,201.1"/>
<polyline stroke="#ff2a2a" points="106.5,301.7 116.0,272.2 125.5,274.8 163.4,288.6 201.4,288.6 210.9,312.0 220.4,293.8 258.3,308.9 296.3,304.3 305.8,289.3 315.3,199.7 334.2,212.8 343.7,230.9 362.7,244.2 448.1,244.3 457.6,319.0 476.6,297.7 505.1,299.8 543.0,288.2 571.5,284.4 599.9,270.9 637.9,289.3 675.9,289.3 694.8,277.8 713.8,260.6 761.3,260.6 799.2,266.2 808.7,269.2 818.2,271.2 846.7,302.2 875.1,285.7 894.1,258.5 903.6,262.3 913.1,279.9 951.1,307.4 960.6,287.2 998.5,305.0 1008.0,278.1"/>
<polyline stroke="#ff5a10" points="106.5,242.1 135.0,253.8 191.9,253.8 210.9,233.8 248.8,264.2 286.8,308.5 305.8,298.7 315.3,219.2 334.2,214.5 343.7,214.7 372.2,197.9 381.7,197.9 400.7,158.8 429.1,151.5 438.6,170.4 467.1,195.1 486.1,206.5 495.6,288.7 505.1,296.4 514.5,263.2 552.5,278.3 609.4,278.3 618.9,262.8 647.4,258.5 656.9,245.7 685.4,217.7 704.3,242.7 732.8,248.5 742.3,248.5 761.3,288.3 780.2,288.3 818.2,248.1 827.7,277.9 865.7,254.8 903.6,289.7 913.1,275.4 979.5,275.4 1008.0,264.4"/>
<polyline stroke="#50e8c0" points="106.5,227.3 116.0,234.3 135.0,257.4 144.4,257.6 153.9,254.3 163.4,251.8 182.4,242.1 191.9,244.5 201.4,244.2 210.9,239.2 220.4,235.8 229.9,217.8 239.3,204.5 248.8,186.0 267.8,201.4 277.3,204.7 286.8,206.8 305.8,206.8 315.3,205.2 324.8,224.5 334.2,222.4 343.7,221.7 353.2,223.7 362.7,211.7 372.2,203.8 381.7,204.1 391.2,222.5 400.7,237.5 410.2,254.2 429.1,246.5 438.6,240.6 448.1,233.4 457.6,234.0 467.1,192.1 476.6,190.1 486.1,187.1 495.6,237.1 514.5,238.3 524.0,240.8 533.5,240.1 543.0,214.8 552.5,214.7 562.0,218.0 590.5,221.1 599.9,229.4 609.4,235.9 618.9,243.9 637.9,228.5 647.4,217.0 656.9,215.9 666.4,213.6 675.9,212.3 694.8,211.2 704.3,213.7 713.8,215.0 723.3,209.3 732.8,207.9 742.3,223.8 751.8,214.7 761.3,228.3 770.8,238.9 780.2,230.2 789.7,228.9 799.2,226.8 808.7,258.1 818.2,292.2 837.2,217.1 846.7,217.1 856.2,237.3 865.7,199.3 875.1,200.9 884.6,196.0 894.1,216.5 913.1,253.8 922.6,254.1 932.1,256.9 941.6,255.7 951.1,256.9 960.6,254.4 970.0,225.5 979.5,200.4 989.0,198.5 998.5,201.3 1008.0,253.2"/>
<polyline stroke="#ff5a10" points="106.5,278.9 116.0,270.5 125.5,288.7 135.0,281.5 144.4,275.5 153.9,267.0 163.4,281.5 172.9,271.8 182.4,274.4 191.9,274.4 201.4,270.7 210.9,259.5 220.4,254.4 229.9,245.9 239.3,240.1 248.8,232.2 258.3,249.3 267.8,261.4 277.3,276.2 286.8,272.1 296.3,272.2 305.8,270.3 315.3,266.6 324.8,271.2 334.2,271.3 343.7,270.3 353.2,272.0 362.7,272.9 372.2,314.0 391.2,282.1 400.7,292.5 410.2,301.2 419.6,298.8 429.1,292.9 438.6,289.9 448.1,289.8 457.6,287.5 467.1,278.9 476.6,264.2 486.1,272.7 514.5,282.3 524.0,279.8 533.5,276.5 543.0,271.8 552.5,272.8 562.0,253.1 571.5,237.7 581.0,231.8 590.5,221.4 609.4,240.4 618.9,252.5 628.4,251.0 637.9,251.4 647.4,245.7 656.9,244.7 666.4,254.7 675.9,266.8 685.4,265.2 694.8,245.9 704.3,231.9 713.8,237.1 723.3,245.8 732.8,257.2 742.3,264.9 751.8,278.9 761.3,273.1 770.8,306.2 780.2,271.5 789.7,271.4 799.2,270.2 808.7,270.8 818.2,275.1 837.2,280.7 846.7,287.2 856.2,286.5 865.7,287.1 875.1,284.5 894.1,287.6 903.6,286.0 913.1,269.9 922.6,259.9 932.1,247.1 941.6,238.9 951.1,232.4 960.6,224.4 970.0,275.2 979.5,253.2 989.0,256.7 998.5,255.9 1008.0,257.0"/>
<polyline stroke="#ff5a10" points="106.5,268.4 116.0,268.9 125.5,272.9 135.0,262.6 144.4,247.9 153.9,237.1 172.9,248.0 182.4,252.4 191.9,253.6 201.4,252.3 210.9,251.7 220.4,245.6 229.9,237.8 239.3,235.1 248.8,242.1 267.8,260.8 277.3,278.4 305.8,233.8 315.3,234.7 334.2,246.2 343.7,252.7 353.2,202.9 362.7,221.4 381.7,229.8 391.2,221.0 400.7,228.4 410.2,236.9 419.6,244.1 438.6,249.0 457.6,238.1 467.1,223.9 476.6,211.9 486.1,204.5 495.6,220.4 505.1,233.4 514.5,243.8 524.0,247.5 533.5,248.2 543.0,248.0 552.5,220.8 562.0,190.8 571.5,166.0 581.0,191.7 590.5,210.9 599.9,233.7 609.4,222.3 618.9,215.6 628.4,206.0 637.9,204.9 647.4,207.6 656.9,236.1 666.4,260.6 675.9,255.6 685.4,248.0 704.3,303.4 723.3,281.5 732.8,275.4 742.3,273.1 751.8,275.3 761.3,260.8 780.2,226.2 789.7,224.0 799.2,227.5 808.7,252.0 818.2,274.4 827.7,300.3 837.2,301.9 846.7,302.0 856.2,265.1 865.7,200.4 875.1,202.8 884.6,206.3 903.6,260.4 922.6,268.1 932.1,273.8 951.1,248.9 960.6,276.8 970.0,266.0 989.0,231.2 998.5,235.4 1008.0,238.2"/>
<polyline stroke="#1f5fff" points="106.5,244.4 116.0,252.9 125.5,263.6 144.4,221.9 153.9,226.6 163.4,230.1 172.9,230.6 191.9,208.4 201.4,198.9 210.9,215.6 220.4,212.2 229.9,205.1 248.8,268.6 258.3,269.2 267.8,254.2 277.3,244.9 296.3,231.6 305.8,227.5 324.8,229.1 334.2,226.7 343.7,226.4 353.2,227.6 362.7,266.0 372.2,261.4 381.7,259.4 391.2,259.1 410.2,264.7 429.1,221.8 438.6,212.2 448.1,223.6 457.6,230.7 467.1,241.6 476.6,251.0 486.1,253.6 495.6,253.2 505.1,257.5 514.5,266.5 524.0,273.6 533.5,277.7 543.0,290.2 552.5,304.2 571.5,269.4 581.0,249.1 590.5,244.9 609.4,197.4 618.9,214.1 628.4,224.9 637.9,233.0 647.4,234.8 656.9,233.3 685.4,290.6 704.3,267.9 713.8,259.4 723.3,240.2 732.8,225.1 742.3,205.2 751.8,208.4 780.2,278.9 789.7,287.2 799.2,297.3 808.7,238.9 827.7,262.7 837.2,276.4 846.7,280.3 856.2,286.0 865.7,289.7 875.1,249.0 884.6,212.6 913.1,272.7 922.6,256.1 932.1,243.5 941.6,235.9 951.1,221.9 960.6,210.8 970.0,194.5 979.5,186.7 989.0,256.9 1008.0,233.9"/>
<polyline stroke="#55dd22" points="106.5,138.1 116.0,118.5 125.5,139.7 135.0,139.5 153.9,140.8 172.9,140.5 182.4,145.3 191.9,141.4 201.4,142.6 210.9,145.8 220.4,143.3 229.9,146.7 239.3,142.8 248.8,144.2 258.3,143.7 267.8,144.3 277.3,141.4 286.8,142.2 296.3,140.5 305.8,143.2 315.3,126.6 324.8,123.7 334.2,126.4 343.7,126.2 353.2,122.2 362.7,123.9 372.2,122.0 381.7,123.7 391.2,123.2 400.7,121.9 410.2,119.0 419.6,118.3 429.1,121.1 438.6,133.8 448.1,125.5 457.6,122.2 476.6,134.8 486.1,137.8 495.6,139.0 505.1,144.2 514.5,150.6 524.0,148.8 533.5,144.2 543.0,140.6 562.0,136.7 571.5,136.2 581.0,139.6 590.5,138.7 599.9,138.6 609.4,140.9 618.9,139.6 628.4,140.6 637.9,139.8 647.4,140.9 656.9,140.7 666.4,137.1 685.4,136.7 704.3,138.2 713.8,134.9 723.3,138.8 732.8,138.4 742.3,137.0 751.8,136.9 770.8,132.0 780.2,128.1 789.7,128.4 799.2,126.1 808.7,121.6 818.2,120.2 827.7,121.9 837.2,118.8 856.2,120.8 865.7,119.7 875.1,119.9 884.6,122.0 894.1,120.3 903.6,123.5 913.1,122.3 922.6,117.5 932.1,122.8 941.6,120.9 951.1,117.5 960.6,116.3 970.0,119.8 979.5,121.0 989.0,120.7 998.5,118.9 1008.0,121.9"/>
<polyline stroke="#66ee33" points="106.5,146.5 116.0,151.1 125.5,150.4 135.0,154.0 144.4,150.4 153.9,155.4 163.4,154.6 172.9,158.0 182.4,159.9 210.9,163.8 220.4,159.0 229.9,158.1 239.3,156.2 258.3,158.5 267.8,152.8 277.3,158.4 286.8,156.9 296.3,149.3 305.8,148.6 315.3,145.9 324.8,140.0 334.2,138.1 343.7,139.1 353.2,134.8 362.7,132.7 372.2,131.5 381.7,132.7 391.2,127.7 400.7,129.8 419.6,141.3 438.6,150.2 448.1,149.4 457.6,146.3 467.1,141.1 476.6,137.4 495.6,135.8 505.1,134.4 514.5,130.9 524.0,136.6 533.5,144.1 552.5,154.7 562.0,148.8 571.5,150.7 581.0,146.4 590.5,144.5 599.9,145.4 609.4,144.0 618.9,144.8 628.4,143.5 637.9,145.6 647.4,143.6 656.9,144.3 666.4,141.9 675.9,144.2 685.4,145.1 713.8,144.8 723.3,145.3 732.8,143.1 742.3,145.5 751.8,143.4 761.3,149.8 770.8,153.9 780.2,160.7 789.7,155.9 799.2,153.3 808.7,145.9 818.2,144.9 827.7,137.0 846.7,130.7 856.2,134.7 865.7,131.8 884.6,128.2 894.1,131.8 913.1,131.3 922.6,134.5 932.1,132.2 951.1,132.7 970.0,134.2 979.5,133.1 989.0,132.8 998.5,130.5 1008.0,134.2"/>
<polyline stroke="#4fa0ee" points="106.5,159.5 116.0,162.0 125.5,161.5 135.0,165.9 144.4,166.0 153.9,164.8 163.4,168.3 172.9,167.3 182.4,169.9 201.4,170.3 210.9,169.2 220.4,165.0 229.9,172.8 239.3,173.0 248.8,169.0 258.3,167.0 267.8,166.8 277.3,167.8 296.3,165.2 305.8,160.7 315.3,160.6 324.8,155.9 343.7,155.8 362.7,152.3 372.2,151.6 381.7,150.1 391.2,151.0 400.7,149.2 410.2,153.8 419.6,151.9 438.6,152.6 448.1,155.0 457.6,155.8 467.1,152.3 476.6,153.1 486.1,154.7 495.6,158.9 505.1,160.9 514.5,158.4 524.0,155.1 533.5,157.9 543.0,157.8 552.5,158.8 562.0,164.4 571.5,165.0 581.0,158.3 590.5,155.0 599.9,158.7 609.4,158.5 618.9,155.4 628.4,157.7 637.9,155.0 647.4,149.2 675.9,149.4 685.4,142.9 694.8,142.5 713.8,136.9 723.3,135.6 732.8,140.7 742.3,136.7 751.8,136.2 761.3,143.6 770.8,145.6 780.2,151.1 799.2,146.5 808.7,147.6 827.7,140.6 837.2,140.2 856.2,136.3 865.7,133.1 875.1,125.5 884.6,114.8 903.6,120.1 913.1,118.1 922.6,118.4 932.1,117.6 941.6,131.0 951.1,141.0 960.6,138.8 970.0,139.1 979.5,141.1 989.0,144.1 998.5,142.0 1008.0,142.6"/>
<polyline stroke="#555555" points="106.5,179.7 116.0,180.0 125.5,176.8 135.0,177.0 144.4,176.2 153.9,173.6 163.4,174.4 172.9,171.1 182.4,172.4 191.9,169.4 201.4,167.8 210.9,163.3 220.4,165.9 229.9,162.2 248.8,166.3 258.3,170.2 267.8,170.8 277.3,169.9 286.8,168.3 296.3,169.5 305.8,167.6 315.3,166.7 324.8,167.2 334.2,165.1 343.7,160.1 353.2,161.3 372.2,151.3 381.7,147.9 391.2,139.1 400.7,133.1 410.2,125.2 419.6,123.2 429.1,127.0 438.6,126.9 448.1,128.1 457.6,131.5 467.1,136.3 476.6,138.4 495.6,146.9 505.1,154.9 514.5,161.4 533.5,166.1 543.0,167.7 552.5,170.9 571.5,171.9 581.0,169.3 590.5,172.6 599.9,168.6 609.4,169.8 628.4,168.8 637.9,167.1 647.4,166.4 656.9,167.2 666.4,165.8 675.9,166.8 685.4,165.3 713.8,157.5 723.3,161.6 732.8,159.0 742.3,153.6 751.8,152.4 761.3,149.6 770.8,151.1 780.2,149.8 789.7,146.9 799.2,146.5 808.7,148.3 818.2,150.8 827.7,148.0 837.2,146.4 846.7,142.1 856.2,146.5 875.1,145.3 884.6,139.3 894.1,131.9 913.1,148.6 922.6,149.3 941.6,153.1 951.1,154.4 960.6,157.3 970.0,153.9 979.5,156.5 989.0,158.0 998.5,153.9 1008.0,156.7"/>
<polyline stroke="#ee2255" points="106.5,169.3 116.0,168.7 125.5,169.5 135.0,171.1 144.4,175.0 153.9,177.3 163.4,177.5 172.9,173.4 201.4,166.4 220.4,168.1 229.9,169.9 239.3,169.9 248.8,167.9 258.3,174.8 267.8,174.6 277.3,172.2 286.8,174.8 296.3,172.0 315.3,168.3 324.8,167.2 334.2,164.6 343.7,163.9 353.2,159.2 362.7,161.7 372.2,167.7 381.7,167.7 391.2,165.4 400.7,165.4 410.2,170.4 419.6,168.0 429.1,172.6 438.6,172.5 467.1,163.8 476.6,159.6 486.1,159.9 495.6,154.3 505.1,157.4 514.5,158.7 524.0,160.9 533.5,162.4 552.5,163.2 562.0,162.2 571.5,169.0 581.0,166.1 590.5,166.3 599.9,162.4 609.4,159.3 628.4,161.9 637.9,165.0 647.4,160.3 656.9,161.1 666.4,162.7 685.4,164.1 694.8,161.4 704.3,168.4 713.8,166.4 723.3,166.4 742.3,162.3 751.8,160.8 761.3,156.1 770.8,154.2 780.2,156.2 799.2,149.5 808.7,143.1 818.2,145.5 827.7,145.1 837.2,139.0 846.7,130.8 856.2,126.6 865.7,119.9 884.6,138.3 894.1,152.1 903.6,146.9 922.6,140.5 932.1,138.4 951.1,148.4 960.6,157.3 970.0,160.4 979.5,156.2 989.0,155.8 998.5,151.5 1008.0,149.0"/>
<polyline stroke="#a08800" points="106.5,173.3 116.0,166.7 125.5,164.6 135.0,160.5 144.4,155.0 153.9,155.9 163.4,162.9 182.4,172.9 191.9,171.7 201.4,171.8 210.9,170.2 220.4,170.7 229.9,167.9 248.8,166.3 258.3,166.8 267.8,170.0 277.3,169.6 286.8,170.6 296.3,174.0 305.8,173.5 315.3,176.5 324.8,173.1 334.2,174.6 353.2,168.4 362.7,169.7 372.2,162.1 381.7,162.5 391.2,162.2 400.7,161.0 410.2,166.3 419.6,164.1 457.6,168.6 467.1,165.4 476.6,168.2 486.1,169.7 495.6,168.5 505.1,172.3 514.5,170.9 524.0,170.5 533.5,171.3 543.0,169.7 552.5,164.4 562.0,160.9 571.5,161.6 581.0,159.9 590.5,155.5 599.9,156.1 609.4,159.5 618.9,160.9 628.4,158.3 637.9,164.4 647.4,161.7 656.9,162.1 666.4,163.7 675.9,166.3 685.4,163.6 694.8,166.9 704.3,166.1 713.8,163.7 723.3,164.9 732.8,165.5 742.3,160.9 751.8,164.0 761.3,160.7 770.8,156.2 780.2,163.0 789.7,156.5 799.2,154.9 808.7,157.1 818.2,154.6 837.2,153.2 846.7,150.2 856.2,151.3 865.7,146.3 875.1,146.7 884.6,142.1 894.1,143.0 903.6,141.3 913.1,138.0 922.6,143.2 932.1,145.8 941.6,151.6 951.1,156.0 970.0,159.3 989.0,157.7 998.5,158.7 1008.0,161.0"/>
<polyline stroke="#000" stroke-width="2.2" points="106.5,321.4 116.0,328.5 123.6,333.0 128.3,343.9 135.0,335.5 153.0,265.4 165.3,267.9 173.9,267.1 185.3,267.1 192.8,234.4 211.8,233.0 221.3,271.3 229.9,265.4 238.4,291.9 248.8,327.1 259.3,333.0 267.8,304.0 277.3,248.2 286.8,233.0 302.9,267.9 308.6,271.0 326.6,276.9 341.8,276.9 356.1,274.1 382.6,267.1 398.8,260.9 412.1,267.1 430.1,258.1 449.1,258.1 462.3,269.9 480.4,269.1 492.7,287.1 505.1,300.9 513.6,283.1 524.0,280.0 551.6,276.9 569.6,267.1 580.0,236.1 592.4,224.0 619.9,150.0 637.0,140.1 648.3,160.1 667.3,173.9 675.9,157.0 696.7,182.1 704.3,195.9 713.8,195.0 727.1,181.0 738.5,165.5 752.7,199.0 760.3,175.3 771.7,150.0 780.2,147.5 789.7,153.4 809.7,148.9 819.2,161.0 829.6,161.0 847.6,184.1 863.8,208.0 880.8,235.0 896.0,267.9 922.6,278.1 940.6,253.0 952.0,253.0 972.9,227.1 976.7,227.1 989.0,240.9 998.5,265.1 1008.0,267.9"/>
</g>
<polyline fill="none" stroke="#f00" stroke-width="2.2" points="106.5,275.5 248.8,284.0 277.3,284.0 419.6,275.5 1008.0,275.5"/>
<rect x="99.2" y="268.6" width="14.6" height="13.8" fill="#f00"/>
<rect x="127.7" y="270.2" width="14.6" height="13.8" fill="#f00"/>
<rect x="156.1" y="271.8" width="14.6" height="13.8" fill="#f00"/>
<rect x="184.6" y="273.4" width="14.6" height="13.8" fill="#f00"/>
<rect x="213.1" y="275.3" width="14.6" height="13.8" fill="#f00"/>
<rect x="241.5" y="277.1" width="14.6" height="13.8" fill="#f00"/>
<rect x="270.0" y="277.1" width="14.6" height="13.8" fill="#f00"/>
<rect x="298.5" y="275.3" width="14.6" height="13.8" fill="#f00"/>
<rect x="326.9" y="273.4" width="14.6" height="13.8" fill="#f00"/>
<rect x="355.4" y="271.8" width="14.6" height="13.8" fill="#f00"/>
<rect x="383.9" y="270.2" width="14.6" height="13.8" fill="#f00"/>
<rect x="412.3" y="268.6" width="14.6" height="13.8" fill="#f00"/>
<rect x="440.8" y="268.6" width="14.6" height="13.8" fill="#f00"/>
<rect x="469.3" y="269.0" width="14.6" height="13.8" fill="#f00"/>
<rect x="497.8" y="269.3" width="14.6" height="13.8" fill="#f00"/>
<rect x="526.2" y="269.6" width="14.6" height="13.8" fill="#f00"/>
<rect x="554.7" y="269.9" width="14.6" height="13.8" fill="#f00"/>
<rect x="583.2" y="270.3" width="14.6" height="13.8" fill="#f00"/>
<rect x="611.6" y="270.6" width="14.6" height="13.8" fill="#f00"/>
<rect x="640.1" y="270.9" width="14.6" height="13.8" fill="#f00"/>
<rect x="668.6" y="271.1" width="14.6" height="13.8" fill="#f00"/>
<rect x="697.0" y="270.8" width="14.6" height="13.8" fill="#f00"/>
<rect x="725.5" y="270.5" width="14.6" height="13.8" fill="#f00"/>
<rect x="754.0" y="270.2" width="14.6" height="13.8" fill="#f00"/>
<rect x="782.4" y="269.8" width="14.6" height="13.8" fill="#f00"/>
<rect x="810.9" y="269.1" width="14.6" height="13.8" fill="#f00"/>
<rect x="839.4" y="268.3" width="14.6" height="13.8" fill="#f00"/>
<rect x="867.8" y="268.1" width="14.6" height="13.8" fill="#f00"/>
<rect x="896.3" y="268.3" width="14.6" height="13.8" fill="#f00"/>
<rect x="924.8" y="268.4" width="14.6" height="13.8" fill="#f00"/>
<rect x="953.3" y="268.5" width="14.6" height="13.8" fill="#f00"/>
<rect x="981.7" y="268.6" width="14.6" height="13.8" fill="#f00"/>
<rect x="1000.7" y="268.6" width="14.6" height="13.8" fill="#f00"/>
<line x1="236" y1="114" x2="269" y2="205" stroke="#000" stroke-width="1.6"/>
<text x="160" y="104" class="lg">风功率场景</text>
<g clip-path="url(#cb)" fill="none" stroke-linejoin="round" shape-rendering="crispEdges">
<polyline stroke="#3a0f2a" stroke-width="1.2" points="97.0,728.8 157.7,707.4 218.5,722.4 279.2,697.3 339.9,700.9 400.7,706.5 461.4,727.6 522.1,717.7 582.9,705.1 643.6,741.3 704.3,761.4 765.1,759.4 825.8,730.4 886.5,711.8 947.3,786.0 1008.0,729.1"/>
<polyline stroke="#4fa0ee" stroke-width="1.2" points="97.0,726.4 157.7,712.3 218.5,731.6 279.2,714.9 339.9,744.8 400.7,686.8 461.4,705.9 522.1,766.3 582.9,737.8 643.6,751.0 704.3,750.3 765.1,750.6 825.8,779.7 886.5,717.1 947.3,776.8 1008.0,726.2"/>
<polyline stroke="#33dd33" stroke-width="2" points="97.0,679.5 157.7,670.4 218.5,685.3 279.2,669.3 339.9,671.1 400.7,651.4 461.4,682.2 522.1,707.4 582.9,712.2 643.6,695.7 704.3,712.4 765.1,710.9 825.8,726.4 886.5,666.0 947.3,736.2 1008.0,713.0"/>
<polyline stroke="#1f5fff" stroke-width="1.2" points="97.0,693.3 157.7,669.0 218.5,680.9 279.2,675.4 339.9,694.0 400.7,655.6 461.4,680.1 522.1,715.1 582.9,689.3 643.6,713.7 704.3,728.1 765.1,715.6 825.8,737.3 886.5,678.1 947.3,717.1 1008.0,708.7"/>
<polyline stroke="#9a8400" stroke-width="1.2" points="97.0,676.8 157.7,650.9 218.5,701.7 279.2,675.3 339.9,650.0 400.7,654.8 461.4,652.1 522.1,688.1 582.9,706.4 643.6,671.9 704.3,698.6 765.1,714.4 825.8,697.1 886.5,671.0 947.3,747.1 1008.0,704.0"/>
<polyline stroke="#33dd33" stroke-width="1.2" points="97.0,683.2 157.7,638.4 218.5,647.9 279.2,691.1 339.9,655.7 400.7,660.9 461.4,652.5 522.1,682.6 582.9,679.4 643.6,693.3 704.3,686.4 765.1,675.9 825.8,705.7 886.5,674.9 947.3,659.6 1008.0,699.7"/>
<polyline stroke="#3a0f2a" stroke-width="1.2" points="97.0,675.4 157.7,625.4 218.5,644.7 279.2,665.4 339.9,643.4 400.7,612.1 461.4,625.7 522.1,659.2 582.9,687.5 643.6,673.8 704.3,692.5 765.1,686.1 825.8,711.7 886.5,655.4 947.3,710.6 1008.0,563.8"/>
<polyline stroke="#555555" stroke-width="2" points="97.0,709.9 157.7,689.4 218.5,690.5 279.2,687.7 339.9,669.8 400.7,685.5 461.4,717.4 522.1,725.4 582.9,704.9 643.6,724.7 704.3,742.9 765.1,745.9 825.8,738.4 886.5,705.2 947.3,746.3 1008.0,723.0"/>
<polyline stroke="#33dd33" stroke-width="2" points="97.0,707.9 157.7,709.6 218.5,723.7 279.2,726.9 339.9,734.1 400.7,715.2 461.4,732.6 522.1,767.1 582.9,733.0 643.6,755.8 704.3,755.1 765.1,760.3 825.8,788.8 886.5,719.6 947.3,785.7 1008.0,734.8"/>
<polyline stroke="#33dd33" stroke-width="1.2" points="97.0,671.0 157.7,633.1 218.5,634.7 279.2,665.9 339.9,669.7 400.7,667.3 461.4,682.3 522.1,692.5 582.9,694.7 643.6,709.8 704.3,696.7 765.1,721.7 825.8,726.2 886.5,613.2 947.3,690.9 1008.0,681.7"/>
<polyline stroke="#555555" stroke-width="2" points="97.0,632.2 157.7,632.1 218.5,689.5 279.2,659.7 339.9,649.0 400.7,669.1 461.4,664.1 522.1,689.9 582.9,698.7 643.6,684.8 704.3,704.6 765.1,701.2 825.8,709.1 886.5,662.0 947.3,707.9 1008.0,683.3"/>
<polyline stroke="#e81c4c" stroke-width="1.2" points="97.0,709.7 157.7,672.2 218.5,711.0 279.2,674.6 400.7,673.8 461.4,675.6 522.1,711.8 582.9,716.3 643.6,722.9 704.3,730.4 765.1,696.8 825.8,727.6 886.5,666.5 947.3,723.7 1008.0,697.9"/>
<polyline stroke="#8a5cff" stroke-width="1.2" points="97.0,689.6 157.7,680.7 218.5,693.2 339.9,686.6 400.7,691.2 461.4,677.1 522.1,688.4 582.9,724.1 643.6,728.9 704.3,710.9 765.1,712.4 825.8,722.9 886.5,713.9 947.3,745.0 1008.0,722.1"/>
<polyline stroke="#3a0f2a" stroke-width="2" points="97.0,601.9 157.7,579.3 218.5,653.0 279.2,639.4 339.9,593.8 400.7,575.9 461.4,630.4 522.1,614.6 582.9,673.8 643.6,639.9 704.3,686.2 765.1,648.8 825.8,695.6 886.5,622.9 947.3,664.6 1008.0,559.2"/>
<polyline stroke="#4fa0ee" stroke-width="1.2" points="97.0,676.4 157.7,657.2 218.5,695.5 279.2,668.3 400.7,660.6 461.4,666.8 522.1,695.8 582.9,683.0 643.6,692.9 704.3,712.3 765.1,682.5 825.8,730.5 886.5,691.0 947.3,712.0 1008.0,681.2"/>
<polyline stroke="#1f5fff" stroke-width="2" points="97.0,689.0 157.7,685.3 218.5,689.6 279.2,658.3 339.9,679.8 400.7,684.5 461.4,693.6 522.1,664.5 582.9,703.0 643.6,707.6 704.3,719.3 765.1,714.0 825.8,744.9 886.5,678.9 947.3,728.4 1008.0,723.3"/>
<polyline stroke="#e81c4c" stroke-width="1.2" points="97.0,706.1 157.7,713.9 218.5,710.5 279.2,692.7 339.9,656.6 400.7,684.2 461.4,697.4 522.1,736.6 582.9,701.1 643.6,702.1 704.3,742.0 765.1,719.2 825.8,736.5 886.5,702.2 947.3,778.3 1008.0,728.8"/>
<polyline stroke="#33dd33" stroke-width="1.2" points="97.0,718.9 157.7,720.7 218.5,712.9 279.2,713.6 339.9,718.3 400.7,682.7 461.4,727.3 522.1,724.1 582.9,729.9 643.6,726.1 704.3,732.1 765.1,751.2 825.8,734.7 886.5,709.1 947.3,750.6 1008.0,723.0"/>
<polyline stroke="#1f5fff" stroke-width="1.2" points="97.0,668.4 157.7,654.2 218.5,636.6 279.2,640.7 339.9,652.0 400.7,658.2 461.4,687.2 522.1,668.6 582.9,696.7 643.6,694.9 704.3,690.4 765.1,682.1 825.8,696.7 886.5,647.1 947.3,688.3 1008.0,688.6"/>
<polyline stroke="#ff5a10" stroke-width="1.2" points="97.0,643.8 157.7,656.7 218.5,698.2 279.2,648.9 339.9,650.8 400.7,646.6 461.4,623.2 522.1,667.3 582.9,679.5 643.6,684.4 704.3,686.7 765.1,679.7 825.8,710.3 886.5,638.7 947.3,669.5 1008.0,618.3"/>
<polyline stroke="#77ee00" stroke-width="2" points="97.0,727.4 157.7,717.5 218.5,730.8 279.2,721.5 339.9,753.3 400.7,704.7 461.4,743.4 522.1,783.3 582.9,780.0 643.6,742.0 704.3,789.2 765.1,758.7 825.8,763.8 886.5,718.8 947.3,783.0 1008.0,733.5"/>
<polyline stroke="#77ee00" stroke-width="2" points="97.0,691.6 157.7,675.7 218.5,716.2 279.2,722.4 339.9,682.5 400.7,690.7 461.4,697.0 522.1,693.7 582.9,704.5 643.6,743.0 704.3,753.4 765.1,709.1 825.8,741.0 886.5,690.5 947.3,753.4 1008.0,729.7"/>
<polyline stroke="#50e8c0" stroke-width="1.2" points="97.0,679.2 157.7,671.6 218.5,682.4 279.2,677.6 339.9,639.0 400.7,649.3 461.4,664.5 522.1,697.5 643.6,687.4 704.3,718.0 765.1,696.1 825.8,741.9 886.5,670.0 947.3,711.8 1008.0,691.5"/>
<polyline stroke="#50e8c0" stroke-width="1.2" points="97.0,676.6 157.7,665.2 218.5,662.7 279.2,675.5 339.9,654.2 400.7,652.0 461.4,682.6 522.1,709.8 582.9,674.9 643.6,699.5 704.3,697.1 765.1,688.1 825.8,703.2 886.5,677.6 947.3,721.4 1008.0,706.2"/>
<polyline stroke="#4fa0ee" stroke-width="1.2" points="97.0,598.7 157.7,572.9 218.5,622.6 279.2,583.8 339.9,594.2 400.7,595.6 461.4,636.8 522.1,633.0 582.9,621.4 643.6,585.9 765.1,668.3 825.8,650.0 886.5,588.2 947.3,636.9 1008.0,565.0"/>
<polyline stroke="#8a5cff" stroke-width="2" points="97.0,706.1 157.7,682.9 218.5,712.9 279.2,712.3 339.9,681.1 400.7,708.3 461.4,725.4 522.1,729.6 582.9,743.3 643.6,738.5 704.3,705.0 765.1,716.7 825.8,755.6 886.5,734.3 947.3,770.2 1008.0,735.0"/>
<polyline stroke="#4fa0ee" stroke-width="2" points="97.0,680.1 157.7,652.7 218.5,692.4 279.2,665.2 339.9,662.9 400.7,659.2 461.4,698.5 522.1,684.6 582.9,722.2 643.6,720.1 704.3,702.0 765.1,710.0 825.8,700.1 886.5,680.8 947.3,737.8 1008.0,698.5"/>
<polyline stroke="#4fa0ee" stroke-width="1.2" points="97.0,725.3 157.7,688.5 218.5,727.9 279.2,723.6 339.9,683.2 400.7,691.0 522.1,780.6 582.9,724.8 643.6,744.3 704.3,758.1 765.1,762.4 825.8,743.4 886.5,700.7 947.3,757.6 1008.0,734.0"/>
<polyline stroke="#8a5cff" stroke-width="1.2" points="97.0,642.8 157.7,656.5 218.5,644.9 279.2,639.2 339.9,667.2 400.7,647.5 461.4,654.1 522.1,685.6 582.9,686.7 643.6,693.2 704.3,694.5 765.1,685.3 825.8,694.9 886.5,642.4 947.3,715.0 1008.0,692.0"/>
<polyline stroke="#4fa0ee" stroke-width="1.2" points="97.0,708.9 157.7,694.3 218.5,721.6 279.2,690.3 339.9,698.1 400.7,710.7 461.4,694.2 522.1,742.3 582.9,718.0 643.6,753.3 704.3,747.9 765.1,721.0 825.8,755.0 886.5,700.1 947.3,751.3 1008.0,725.5"/>
<polyline stroke="#9a8400" stroke-width="1.2" points="97.0,666.8 157.7,653.8 218.5,682.9 279.2,678.8 339.9,648.6 400.7,662.7 461.4,655.9 522.1,677.9 582.9,690.0 643.6,708.3 704.3,705.1 765.1,688.4 825.8,711.1 886.5,660.5 947.3,716.7 1008.0,690.1"/>
<polyline stroke="#9a8400" stroke-width="1.2" points="97.0,730.1 157.7,714.0 218.5,718.7 279.2,727.7 339.9,735.3 400.7,711.8 461.4,748.3 522.1,772.8 582.9,767.2 643.6,745.2 704.3,771.6 765.1,755.0 825.8,771.1 886.5,702.9 947.3,789.8 1008.0,729.1"/>
<polyline stroke="#3a0f2a" stroke-width="1.2" points="97.0,703.4 157.7,709.3 218.5,715.8 279.2,689.1 339.9,677.3 400.7,685.9 461.4,684.5 522.1,712.7 582.9,716.3 643.6,700.0 704.3,752.2 765.1,735.8 825.8,741.6 886.5,705.5 947.3,750.5 1008.0,717.6"/>
<polyline stroke="#8a5cff" stroke-width="1.2" points="97.0,674.9 157.7,669.6 218.5,680.1 279.2,692.5 339.9,658.7 400.7,658.4 461.4,656.1 522.1,698.9 582.9,689.5 643.6,681.5 704.3,713.5 765.1,689.2 825.8,719.0 886.5,664.4 947.3,712.9 1008.0,683.7"/>
<polyline stroke="#50e8c0" stroke-width="1.2" points="97.0,646.1 157.7,672.0 218.5,683.9 279.2,676.8 339.9,658.6 400.7,661.3 461.4,688.2 522.1,686.0 582.9,709.2 643.6,680.0 704.3,691.6 765.1,689.6 825.8,699.5 886.5,662.2 947.3,716.9 1008.0,688.5"/>
<polyline stroke="#33dd33" stroke-width="1.2" points="97.0,675.6 157.7,675.1 218.5,673.7 279.2,658.5 339.9,654.8 400.7,670.8 461.4,704.2 522.1,721.5 582.9,690.6 643.6,694.0 704.3,753.9 765.1,708.5 825.8,708.9 886.5,666.4 947.3,733.0 1008.0,692.8"/>
<polyline stroke="#ff2a2a" stroke-width="2" points="97.0,731.8 157.7,712.3 218.5,729.2 279.2,721.2 339.9,750.5 400.7,716.1 461.4,736.4 522.1,753.9 582.9,756.9 643.6,756.4 704.3,766.2 765.1,757.3 825.8,768.2 886.5,744.7 947.3,797.6 1008.0,734.5"/>
<polyline stroke="#ff5a10" stroke-width="2" points="97.0,699.4 157.7,677.3 218.5,716.9 279.2,692.3 339.9,689.6 400.7,692.0 461.4,720.2 522.1,704.2 582.9,715.1 643.6,713.0 704.3,742.7 765.1,723.3 825.8,758.9 886.5,699.8 947.3,752.6 1008.0,711.2"/>
<polyline stroke="#ff5a10" stroke-width="1.2" points="97.0,634.9 157.7,599.2 218.5,693.8 279.2,661.4 339.9,636.2 400.7,669.4 461.4,674.6 522.1,681.0 582.9,684.3 643.6,669.2 704.3,717.2 765.1,696.4 825.8,702.8 886.5,663.3 947.3,707.5 1008.0,681.0"/>
<polyline stroke="#77ee00" stroke-width="1.2" points="97.0,652.0 157.7,584.1 218.5,647.8 279.2,613.8 339.9,634.5 400.7,611.8 461.4,593.7 522.1,657.3 582.9,675.9 643.6,666.0 704.3,670.6 765.1,693.2 825.8,663.6 886.5,591.1 947.3,715.0 1008.0,610.9"/>
<polyline stroke="#3a0f2a" stroke-width="2" points="97.0,651.6 157.7,670.2 218.5,698.3 279.2,660.5 339.9,658.1 400.7,693.4 461.4,681.3 522.1,699.4 582.9,715.3 643.6,712.5 704.3,731.8 765.1,707.8 825.8,750.1 886.5,712.3 947.3,743.6 1008.0,702.6"/>
<polyline stroke="#9a8400" stroke-width="2" points="97.0,684.3 157.7,700.0 218.5,717.5 279.2,697.4 339.9,669.7 400.7,693.1 461.4,686.7 522.1,696.6 582.9,680.2 643.6,705.6 704.3,723.2 765.1,692.8 825.8,723.5 886.5,680.6 947.3,722.2 1008.0,717.8"/>
<polyline stroke="#c09000" stroke-width="1.2" points="97.0,693.9 157.7,669.9 218.5,698.2 279.2,699.5 339.9,680.9 400.7,706.8 461.4,698.1 522.1,712.6 582.9,730.2 643.6,735.6 704.3,742.4 765.1,762.7 825.8,740.0 886.5,706.2 947.3,728.9 1008.0,716.9"/>
<polyline stroke="#c09000" stroke-width="2" points="97.0,699.9 157.7,674.6 218.5,709.1 279.2,690.9 339.9,681.0 400.7,654.3 461.4,684.5 522.1,694.3 582.9,736.6 643.6,701.7 704.3,706.8 765.1,730.6 825.8,738.8 886.5,660.6 947.3,744.1 1008.0,679.3"/>
<polyline stroke="#ff5a10" stroke-width="2" points="97.0,670.2 157.7,654.6 218.5,633.3 279.2,649.0 339.9,641.0 400.7,646.1 461.4,648.0 522.1,675.1 582.9,680.5 643.6,690.2 704.3,686.1 765.1,693.4 825.8,691.0 886.5,683.3 947.3,707.1 1008.0,652.9"/>
<polyline stroke="#555555" stroke-width="2" points="97.0,715.1 157.7,707.4 218.5,689.3 279.2,694.8 339.9,689.3 400.7,651.1 461.4,667.9 522.1,745.2 582.9,721.6 643.6,706.5 704.3,711.6 765.1,732.8 825.8,707.9 886.5,667.5 947.3,753.7 1008.0,735.7"/>
<polyline stroke="#77ee00" stroke-width="1.2" points="97.0,719.1 157.7,706.2 218.5,712.2 279.2,702.9 339.9,718.9 400.7,685.1 522.1,736.2 582.9,738.5 643.6,724.4 704.3,757.1 765.1,740.2 825.8,750.7 886.5,702.9 947.3,766.7 1008.0,704.8"/>
<polyline stroke="#9a8400" stroke-width="1.2" points="97.0,672.7 157.7,658.5 218.5,681.7 279.2,659.7 339.9,649.1 400.7,668.6 461.4,671.4 522.1,694.3 582.9,681.7 643.6,711.4 704.3,705.5 765.1,682.4 825.8,707.1 886.5,650.3 947.3,694.1 1008.0,713.5"/>
<polyline stroke="#77ee00" stroke-width="2" points="97.0,701.1 157.7,682.6 218.5,706.9 279.2,682.1 339.9,680.0 400.7,694.3 461.4,690.0 522.1,737.7 582.9,700.9 643.6,727.1 704.3,725.2 765.1,760.0 825.8,710.5 886.5,683.6 947.3,729.7 1008.0,717.4"/>
<polyline stroke="#c09000" stroke-width="2" points="97.0,631.3 157.7,625.4 218.5,675.8 279.2,634.6 339.9,642.0 400.7,596.3 461.4,598.2 522.1,658.6 582.9,671.7 643.6,608.9 704.3,665.6 765.1,674.2 825.8,673.1 886.5,632.9 947.3,674.4 1008.0,588.5"/>
<polyline stroke="#555555" stroke-width="2" points="97.0,724.6 157.7,702.7 218.5,711.8 279.2,722.2 339.9,710.1 400.7,704.0 461.4,710.3 522.1,739.4 582.9,715.4 643.6,732.4 704.3,755.3 765.1,708.2 825.8,764.1 886.5,735.3 947.3,747.8 1008.0,726.4"/>
<polyline stroke="#50e8c0" stroke-width="1.2" points="97.0,709.2 157.7,710.7 218.5,724.1 279.2,716.7 339.9,742.5 400.7,706.6 461.4,688.9 522.1,751.5 582.9,726.6 643.6,752.8 704.3,750.4 765.1,745.5 825.8,752.8 886.5,702.6 947.3,737.6 1008.0,728.3"/>
<polyline stroke="#3a0f2a" stroke-width="1.2" points="97.0,704.3 157.7,708.1 218.5,709.5 279.2,667.6 339.9,680.2 400.7,684.5 461.4,690.7 522.1,705.3 582.9,698.4 643.6,744.8 704.3,733.9 765.1,707.7 825.8,734.6 886.5,676.2 947.3,745.5 1008.0,697.6"/>
<polyline stroke="#e81c4c" stroke-width="1.2" points="97.0,728.5 157.7,707.8 218.5,724.9 279.2,729.3 339.9,729.0 400.7,722.7 461.4,726.7 522.1,777.3 582.9,763.7 643.6,767.8 704.3,774.9 765.1,791.2 825.8,788.7 886.5,718.4 947.3,761.9 1008.0,730.3"/>
<polyline stroke="#555555" stroke-width="1.2" points="97.0,664.2 157.7,620.1 218.5,683.1 279.2,668.5 339.9,643.8 400.7,660.3 461.4,643.7 522.1,671.5 582.9,690.1 643.6,717.1 704.3,725.7 765.1,676.4 825.8,733.8 886.5,673.4 947.3,701.1 1008.0,682.8"/>
<polyline stroke="#ff2a2a" stroke-width="1.2" points="97.0,683.5 157.7,674.1 218.5,701.7 279.2,677.6 339.9,664.0 400.7,636.9 461.4,678.3 522.1,711.3 582.9,710.3 643.6,711.9 704.3,720.3 765.1,706.7 825.8,723.5 886.5,684.7 947.3,724.3 1008.0,686.0"/>
<polyline stroke="#77ee00" stroke-width="2" points="97.0,666.9 157.7,657.2 218.5,681.3 279.2,658.1 339.9,656.6 400.7,667.4 461.4,652.8 522.1,688.6 582.9,677.9 643.6,682.4 704.3,689.0 765.1,721.8 825.8,721.8 886.5,628.5 947.3,733.3 1008.0,676.1"/>
<polyline stroke="#8a5cff" stroke-width="1.2" points="97.0,723.3 157.7,720.7 218.5,720.0 279.2,714.6 339.9,753.0 400.7,730.7 461.4,738.3 522.1,776.9 582.9,776.6 643.6,751.5 704.3,773.9 765.1,740.4 825.8,770.5 886.5,738.0 947.3,793.2 1008.0,744.0"/>
<polyline stroke="#8a5cff" stroke-width="2" points="97.0,640.2 157.7,612.5 218.5,637.0 279.2,602.5 339.9,645.8 400.7,593.6 522.1,592.5 582.9,672.3 643.6,663.7 704.3,662.2 765.1,689.4 825.8,658.9 886.5,582.0 947.3,669.6 1008.0,575.6"/>
<polyline stroke="#9a8400" stroke-width="2" points="97.0,674.8 157.7,667.6 218.5,690.5 279.2,666.2 339.9,666.0 400.7,674.9 461.4,660.2 522.1,682.6 582.9,687.9 643.6,699.6 704.3,751.2 765.1,697.1 825.8,718.6 886.5,701.3 947.3,698.7 1008.0,691.9"/>
<polyline stroke="#4fa0ee" stroke-width="2" points="97.0,673.3 157.7,670.7 218.5,692.8 279.2,661.6 339.9,667.0 400.7,675.9 461.4,676.7 522.1,675.7 582.9,685.3 643.6,693.0 704.3,693.4 765.1,692.5 825.8,717.8 886.5,676.0 947.3,724.7 1008.0,631.3"/>
<polyline stroke="#33dd33" stroke-width="2" points="97.0,591.6 157.7,579.0 218.5,606.5 279.2,579.8 339.9,615.1 400.7,572.2 461.4,575.4 522.1,633.0 582.9,645.3 643.6,619.5 704.3,665.2 765.1,608.5 825.8,624.4 886.5,624.4 947.3,635.4 1008.0,567.7"/>
<polyline stroke="#1f5fff" stroke-width="1.2" points="97.0,728.3 157.7,733.5 218.5,746.6 279.2,745.5 339.9,749.2 400.7,739.9 461.4,747.9 522.1,788.9 582.9,781.7 643.6,770.1 704.3,777.8 765.1,789.9 825.8,776.3 886.5,751.7 947.3,815.5 1008.0,758.3"/>
<polyline stroke="#3a0f2a" stroke-width="2" points="97.0,658.8 157.7,663.9 218.5,648.1 279.2,649.1 339.9,644.2 400.7,655.5 461.4,652.8 522.1,620.7 582.9,664.4 643.6,669.7 704.3,689.3 765.1,686.1 825.8,691.5 886.5,642.3 947.3,696.3 1008.0,674.2"/>
<polyline stroke="#8a5cff" stroke-width="2" points="97.0,719.3 157.7,701.8 218.5,725.6 279.2,688.3 339.9,685.0 400.7,685.7 461.4,732.8 522.1,711.4 582.9,721.5 643.6,735.8 704.3,730.9 765.1,716.4 825.8,746.0 886.5,691.1 947.3,765.0 1008.0,724.2"/>
<polyline stroke="#50e8c0" stroke-width="2" points="97.0,711.0 157.7,656.0 218.5,685.0 279.2,672.1 339.9,653.4 400.7,682.6 461.4,670.4 522.1,698.0 582.9,718.9 643.6,723.3 704.3,721.6 765.1,745.9 886.5,673.4 947.3,733.6 1008.0,696.1"/>
<polyline stroke="#33dd33" stroke-width="1.2" points="97.0,730.2 157.7,713.9 218.5,707.7 279.2,704.3 339.9,691.4 400.7,728.3 461.4,744.0 522.1,756.5 582.9,718.4 643.6,730.5 704.3,777.1 765.1,767.3 825.8,750.6 886.5,712.1 947.3,760.1 1008.0,728.3"/>
<polyline stroke="#8a5cff" stroke-width="2" points="97.0,690.1 157.7,685.5 218.5,691.5 279.2,665.4 339.9,664.5 400.7,654.4 461.4,704.4 522.1,689.4 582.9,679.3 643.6,703.1 704.3,715.8 765.1,706.0 825.8,703.7 886.5,676.1 947.3,736.3 1008.0,722.0"/>
<polyline stroke="#33dd33" stroke-width="1.2" points="97.0,679.9 157.7,616.5 218.5,669.8 279.2,645.0 339.9,643.1 400.7,625.9 461.4,651.8 522.1,692.7 582.9,676.4 643.6,693.3 704.3,693.7 765.1,679.3 825.8,712.6 886.5,653.6 947.3,710.8 1008.0,693.7"/>
<polyline stroke="#4fa0ee" stroke-width="1.2" points="97.0,727.7 157.7,689.7 218.5,723.8 279.2,705.9 339.9,675.4 400.7,705.3 461.4,731.6 522.1,764.0 582.9,720.5 704.3,753.1 765.1,765.6 825.8,751.8 886.5,722.3 947.3,755.2 1008.0,733.1"/>
<polyline stroke="#3a0f2a" stroke-width="2" points="97.0,735.2 157.7,720.4 218.5,730.2 279.2,718.0 339.9,740.6 400.7,704.4 461.4,734.9 522.1,739.0 582.9,752.1 643.6,747.9 704.3,759.8 765.1,751.9 825.8,766.2 886.5,756.4 947.3,780.4 1008.0,729.5"/>
<polyline stroke="#50e8c0" stroke-width="1.2" points="97.0,676.2 157.7,652.5 218.5,650.2 279.2,669.3 339.9,660.2 400.7,680.3 461.4,678.3 522.1,700.2 582.9,685.3 643.6,694.7 704.3,714.2 765.1,698.9 825.8,695.3 886.5,637.6 947.3,710.8 1008.0,668.0"/>
<polyline stroke="#50e8c0" stroke-width="2" points="97.0,670.3 157.7,636.8 218.5,690.6 279.2,660.5 339.9,660.5 461.4,648.1 522.1,690.9 582.9,687.4 643.6,695.8 704.3,707.7 765.1,683.9 825.8,721.9 886.5,644.7 947.3,690.7 1008.0,602.1"/>
<polyline stroke="#33dd33" stroke-width="1.2" points="97.0,683.4 157.7,703.3 218.5,721.8 279.2,711.7 339.9,670.2 400.7,631.4 461.4,680.1 522.1,714.4 582.9,707.8 643.6,712.1 765.1,717.6 825.8,735.2 886.5,715.2 947.3,727.3 1008.0,705.9"/>
<polyline stroke="#4fa0ee" stroke-width="2" points="97.0,693.2 157.7,671.0 218.5,728.8 279.2,703.4 339.9,666.9 400.7,624.7 461.4,690.5 522.1,680.0 582.9,695.0 643.6,699.1 704.3,738.1 765.1,704.6 825.8,739.9 886.5,705.6 947.3,723.6 1008.0,716.9"/>
<polyline stroke="#555555" stroke-width="1.2" points="97.0,712.2 157.7,714.1 218.5,724.8 279.2,724.1 339.9,741.8 400.7,706.3 461.4,740.3 522.1,712.4 582.9,756.8 643.6,761.5 704.3,760.6 765.1,740.3 825.8,768.5 886.5,713.9 947.3,782.3 1008.0,739.3"/>
<polyline stroke="#c09000" stroke-width="2" points="97.0,668.8 157.7,689.4 218.5,698.4 279.2,695.4 339.9,683.3 400.7,681.6 461.4,664.3 522.1,688.9 582.9,705.0 643.6,712.7 704.3,711.3 765.1,711.9 825.8,725.8 886.5,682.5 947.3,719.2 1008.0,701.7"/>
<polyline stroke="#ff5a10" stroke-width="2" points="97.0,680.1 157.7,631.3 218.5,684.0 279.2,680.8 339.9,650.8 400.7,663.0 461.4,682.4 522.1,686.5 582.9,679.0 643.6,697.6 704.3,708.9 765.1,710.4 825.8,717.8 886.5,663.4 947.3,726.0 1008.0,703.9"/>
<polyline stroke="#555555" stroke-width="1.2" points="97.0,688.6 157.7,683.3 218.5,697.1 279.2,701.6 339.9,672.0 400.7,674.7 461.4,694.1 522.1,704.4 582.9,737.6 643.6,718.1 704.3,729.6 765.1,698.5 825.8,717.3 886.5,688.8 947.3,745.8 1008.0,643.7"/>
<polyline stroke="#50e8c0" stroke-width="2" points="97.0,713.7 157.7,672.9 218.5,720.1 279.2,711.9 339.9,700.2 400.7,701.9 461.4,696.4 522.1,720.7 582.9,735.5 704.3,743.8 765.1,750.2 825.8,740.9 886.5,717.0 947.3,745.8 1008.0,727.1"/>
<polyline stroke="#9a8400" stroke-width="1.2" points="97.0,731.3 157.7,717.2 218.5,721.0 279.2,717.1 339.9,693.5 400.7,724.2 461.4,701.1 522.1,768.6 582.9,767.3 643.6,748.7 704.3,763.2 765.1,755.6 825.8,767.0 886.5,722.3 947.3,774.0 1008.0,736.4"/>
<polyline stroke="#ff5a10" stroke-width="2" points="97.0,658.5 157.7,658.1 218.5,681.9 279.2,673.3 339.9,668.8 400.7,657.4 461.4,646.8 522.1,684.8 582.9,713.2 643.6,698.0 704.3,717.4 765.1,708.2 825.8,714.7 886.5,677.9 947.3,731.2 1008.0,626.8"/>
<polyline stroke="#3a0f2a" stroke-width="1.2" points="97.0,645.6 157.7,652.2 218.5,685.9 279.2,671.1 339.9,655.4 400.7,663.5 461.4,676.2 522.1,679.2 582.9,710.6 643.6,710.4 704.3,711.3 765.1,688.7 825.8,698.7 886.5,658.9 947.3,709.9 1008.0,687.9"/>
<polyline stroke="#555555" stroke-width="1.2" points="97.0,710.2 157.7,685.2 218.5,716.7 279.2,679.7 339.9,686.6 400.7,683.6 461.4,702.1 522.1,686.9 582.9,695.7 643.6,722.7 704.3,751.9 765.1,712.5 825.8,725.1 886.5,709.6 947.3,743.6 1008.0,691.2"/>
<polyline stroke="#555555" stroke-width="2" points="97.0,721.9 157.7,696.6 218.5,724.0 279.2,682.4 339.9,690.2 400.7,668.1 461.4,723.0 522.1,744.2 582.9,710.7 643.6,750.0 704.3,749.3 765.1,763.5 825.8,738.8 886.5,727.4 947.3,756.9 1008.0,731.1"/>
<polyline stroke="#555555" stroke-width="1.2" points="97.0,719.2 157.7,703.7 218.5,723.7 279.2,693.1 339.9,710.4 400.7,690.4 461.4,734.0 522.1,716.3 582.9,738.3 643.6,749.1 704.3,732.5 765.1,722.4 825.8,741.1 886.5,698.8 947.3,778.6 1008.0,717.0"/>
<polyline stroke="#c09000" stroke-width="2" points="97.0,722.6 218.5,709.8 279.2,708.1 339.9,761.8 400.7,707.9 461.4,731.9 522.1,757.4 582.9,748.5 643.6,750.1 704.3,748.2 765.1,761.9 825.8,744.6 886.5,725.4 947.3,753.3 1008.0,739.1"/>
<polyline stroke="#555555" stroke-width="1.2" points="97.0,672.3 157.7,655.1 218.5,679.1 279.2,630.9 339.9,642.8 400.7,576.1 461.4,647.3 522.1,669.4 582.9,677.5 643.6,666.0 704.3,661.9 765.1,678.8 825.8,657.6 886.5,593.3 947.3,684.4 1008.0,614.3"/>
<polyline stroke="#ff2a2a" stroke-width="2" points="97.0,680.3 157.7,695.0 279.2,693.2 339.9,682.5 400.7,667.9 461.4,671.1 522.1,708.6 582.9,706.8 643.6,693.8 704.3,733.6 765.1,694.6 825.8,745.5 886.5,715.9 947.3,724.2 1008.0,716.8"/>
<polyline stroke="#3a0f2a" stroke-width="1.2" points="97.0,713.2 157.7,712.8 218.5,718.1 279.2,691.2 339.9,692.5 400.7,697.2 461.4,726.9 522.1,725.3 582.9,713.0 643.6,748.2 704.3,757.6 765.1,717.3 825.8,756.6 886.5,706.5 947.3,769.1 1008.0,725.7"/>
<polyline stroke="#e81c4c" stroke-width="1.2" points="97.0,716.2 157.7,707.1 218.5,712.2 279.2,703.0 339.9,739.8 400.7,695.4 461.4,737.1 522.1,732.0 582.9,726.1 643.6,749.9 704.3,757.4 765.1,737.0 825.8,763.8 886.5,733.0 947.3,738.5 1008.0,721.9"/>
<polyline stroke="#50e8c0" stroke-width="2" points="97.0,649.2 157.7,676.1 218.5,709.2 279.2,682.2 339.9,658.0 400.7,673.8 522.1,694.0 582.9,684.6 643.6,721.1 704.3,704.1 765.1,699.2 825.8,696.5 886.5,669.9 947.3,740.5 1008.0,692.8"/>
<polyline stroke="#50e8c0" stroke-width="2" points="97.0,712.0 157.7,670.8 218.5,710.7 279.2,678.6 339.9,678.2 400.7,696.1 461.4,663.0 522.1,704.2 582.9,708.6 643.6,715.0 704.3,701.6 765.1,712.9 825.8,718.0 886.5,684.6 947.3,754.0 1008.0,697.7"/>
<polyline stroke="#e81c4c" stroke-width="2" points="97.0,717.5 157.7,691.7 218.5,719.9 279.2,712.8 339.9,713.3 400.7,716.9 461.4,713.8 522.1,727.7 582.9,736.3 643.6,750.1 704.3,760.5 765.1,725.6 825.8,766.4 886.5,733.6 947.3,744.1 1008.0,728.7"/>
<polyline stroke="#e81c4c" stroke-width="1.2" points="97.0,726.7 157.7,709.8 218.5,723.3 279.2,726.7 339.9,720.8 400.7,719.5 461.4,712.5 522.1,752.1 582.9,722.7 643.6,750.8 704.3,786.1 765.1,756.8 825.8,772.4 886.5,726.3 947.3,778.8 1008.0,726.9"/>
<polyline stroke="#33dd33" stroke-width="2" points="97.0,715.1 157.7,712.0 218.5,734.7 279.2,719.6 339.9,716.0 400.7,697.7 461.4,742.6 522.1,720.8 582.9,756.7 643.6,740.1 704.3,752.6 765.1,759.6 825.8,751.0 886.5,726.8 947.3,781.1 1008.0,735.3"/>
<polyline stroke="#e81c4c" stroke-width="2" points="97.0,685.9 157.7,614.7 218.5,649.7 339.9,672.0 400.7,653.9 461.4,647.7 522.1,648.3 582.9,679.3 643.6,661.9 704.3,688.3 765.1,657.5 825.8,686.2 886.5,592.4 947.3,691.4 1008.0,648.8"/>
<polyline stroke="#ff2a2a" stroke-width="1.2" points="97.0,697.5 157.7,682.1 218.5,696.2 279.2,678.7 339.9,668.4 400.7,674.0 461.4,700.1 522.1,690.5 582.9,685.5 643.6,705.4 704.3,724.0 765.1,709.2 825.8,723.0 886.5,682.0 947.3,760.8 1008.0,714.9"/>
<polyline stroke="#33dd33" stroke-width="1.2" points="97.0,711.6 157.7,673.2 218.5,691.5 279.2,674.7 339.9,678.4 400.7,650.9 461.4,676.5 522.1,707.1 582.9,699.7 643.6,727.0 704.3,762.7 765.1,697.1 825.8,721.8 886.5,662.9 947.3,733.2 1008.0,713.6"/>
<polyline stroke="#9a8400" stroke-width="2" points="97.0,693.1 157.7,676.1 218.5,719.3 279.2,700.6 339.9,646.9 400.7,705.5 461.4,689.2 522.1,722.3 582.9,714.9 643.6,729.9 704.3,725.2 765.1,735.8 825.8,717.2 886.5,663.9 947.3,777.7 1008.0,720.9"/>
<polyline stroke="#1f5fff" stroke-width="1.2" points="97.0,671.0 157.7,679.0 218.5,695.8 279.2,668.9 339.9,648.9 400.7,669.8 461.4,671.5 522.1,708.8 582.9,707.6 643.6,688.7 704.3,709.6 765.1,688.6 825.8,711.8 886.5,612.4 947.3,724.4 1008.0,679.4"/>
<polyline stroke="#33dd33" stroke-width="1.2" points="97.0,685.5 157.7,675.8 218.5,686.4 279.2,691.4 339.9,670.6 400.7,698.6 461.4,674.7 522.1,697.4 582.9,711.0 643.6,694.1 704.3,714.6 765.1,726.1 825.8,712.4 886.5,685.7 947.3,783.9 1008.0,699.9"/>
<polyline stroke="#555555" stroke-width="1.2" points="97.0,717.6 157.7,709.8 218.5,717.3 279.2,676.6 339.9,689.4 400.7,682.1 461.4,695.3 522.1,710.6 582.9,750.8 643.6,746.7 704.3,712.6 765.1,722.5 825.8,758.7 886.5,692.3 947.3,757.4 1008.0,720.0"/>
<polyline stroke="#33dd33" stroke-width="1.2" points="97.0,707.9 157.7,715.0 218.5,712.1 279.2,722.2 339.9,708.3 400.7,685.2 461.4,710.0 522.1,716.7 582.9,752.2 643.6,756.7 704.3,770.2 765.1,734.0 825.8,766.5 886.5,696.7 947.3,776.2 1008.0,719.4"/>
<polyline stroke="#1f5fff" stroke-width="2" points="97.0,674.8 157.7,698.3 218.5,706.6 279.2,672.3 339.9,665.2 400.7,667.9 461.4,683.7 522.1,723.0 582.9,703.8 643.6,733.1 704.3,720.0 765.1,720.6 825.8,742.8 886.5,684.6 947.3,727.4 1008.0,717.5"/>
<polyline stroke="#50e8c0" stroke-width="2" points="97.0,710.6 157.7,684.1 218.5,715.6 279.2,706.7 339.9,681.1 400.7,686.8 461.4,681.8 522.1,719.8 582.9,735.0 643.6,720.8 704.3,745.7 765.1,707.6 825.8,747.9 886.5,678.3 947.3,740.9 1008.0,722.8"/>
<polyline stroke="#77ee00" stroke-width="1.2" points="97.0,712.8 157.7,704.0 218.5,717.1 279.2,688.6 339.9,702.1 400.7,714.8 461.4,736.9 522.1,745.8 582.9,721.0 643.6,738.0 704.3,748.0 765.1,752.8 825.8,738.5 886.5,726.8 947.3,739.8 1008.0,717.0"/>
<polyline stroke="#ff2a2a" stroke-width="2" points="97.0,704.3 157.7,705.4 218.5,725.2 279.2,673.5 339.9,691.9 400.7,696.8 461.4,677.6 522.1,685.0 582.9,716.9 643.6,728.2 704.3,702.1 765.1,734.6 825.8,720.8 886.5,682.0 947.3,755.0 1008.0,728.8"/>
<polyline stroke="#33dd33" stroke-width="1.2" points="97.0,671.7 157.7,669.5 218.5,708.6 279.2,688.7 339.9,678.0 461.4,672.3 522.1,704.0 582.9,702.6 643.6,724.6 704.3,705.9 765.1,703.4 825.8,741.6 886.5,684.8 947.3,721.5 1008.0,681.7"/>
<polyline stroke="#33dd33" stroke-width="2" points="97.0,655.5 157.7,660.4 218.5,677.4 279.2,635.9 339.9,635.4 400.7,653.7 461.4,642.9 522.1,675.2 582.9,675.7 643.6,695.3 704.3,686.0 765.1,691.3 825.8,711.7 886.5,638.2 947.3,693.0 1008.0,696.9"/>
<polyline stroke="#77ee00" stroke-width="2" points="97.0,699.3 157.7,705.3 218.5,698.2 279.2,698.2 339.9,678.4 400.7,693.9 461.4,719.3 522.1,706.4 582.9,718.3 643.6,723.3 704.3,724.1 765.1,694.9 825.8,736.9 886.5,685.0 947.3,717.5 1008.0,719.9"/>
<polyline stroke="#e81c4c" stroke-width="2" points="97.0,711.4 157.7,677.9 218.5,702.7 279.2,665.8 339.9,747.1 400.7,676.4 461.4,686.7 522.1,681.5 582.9,718.8 643.6,734.3 704.3,733.3 765.1,749.9 825.8,754.4 886.5,689.7 947.3,777.4 1008.0,737.1"/>
<polyline stroke="#50e8c0" stroke-width="1.2" points="97.0,692.2 157.7,693.0 218.5,712.1 279.2,695.2 339.9,690.9 400.7,667.8 461.4,661.4 522.1,707.5 582.9,706.2 643.6,700.4 704.3,721.9 765.1,686.6 825.8,713.9 886.5,674.1 947.3,740.0 1008.0,720.4"/>
<polyline stroke="#e81c4c" stroke-width="1.2" points="97.0,672.0 157.7,665.2 218.5,707.6 279.2,708.3 339.9,676.6 400.7,689.6 461.4,667.3 522.1,715.6 582.9,694.4 643.6,707.9 704.3,700.9 765.1,710.2 825.8,748.3 886.5,720.7 947.3,729.6 1008.0,716.2"/>
<polyline stroke="#3a0f2a" stroke-width="2" points="97.0,689.1 157.7,680.8 218.5,712.7 279.2,710.3 339.9,668.7 400.7,666.8 461.4,690.8 522.1,694.2 582.9,690.0 643.6,717.5 704.3,710.9 765.1,699.4 825.8,711.0 886.5,680.2 947.3,732.6 1008.0,705.4"/>
<polyline stroke="#ff2a2a" stroke-width="2" points="97.0,724.9 157.7,707.6 218.5,725.9 279.2,711.4 339.9,743.3 400.7,718.9 461.4,726.5 522.1,722.9 582.9,765.4 643.6,773.6 704.3,773.8 765.1,784.0 825.8,764.5 886.5,720.1 947.3,776.5 1008.0,730.7"/>
<polyline stroke="#4fa0ee" stroke-width="1.2" points="97.0,674.7 157.7,645.2 218.5,693.8 279.2,659.6 339.9,649.8 400.7,649.1 461.4,668.6 522.1,692.7 582.9,696.5 643.6,715.5 704.3,698.2 765.1,679.5 825.8,696.0 886.5,645.3 947.3,705.9 1008.0,679.3"/>
<polyline stroke="#50e8c0" stroke-width="1.2" points="97.0,726.8 157.7,712.6 218.5,707.5 279.2,693.6 339.9,674.9 400.7,688.6 461.4,693.7 522.1,716.8 582.9,741.4 643.6,736.5 704.3,732.7 765.1,736.0 825.8,761.8 886.5,721.3 947.3,716.1 1008.0,734.2"/>
<polyline stroke="#50e8c0" stroke-width="1.2" points="97.0,679.5 157.7,681.3 218.5,707.1 279.2,673.3 339.9,672.0 400.7,686.9 461.4,666.8 522.1,712.4 582.9,691.7 643.6,710.3 704.3,718.4 765.1,701.6 825.8,740.5 886.5,706.5 947.3,741.7 1008.0,714.2"/>
<polyline stroke="#33dd33" stroke-width="1.2" points="97.0,702.2 157.7,660.2 218.5,719.3 279.2,676.9 339.9,675.8 400.7,689.2 461.4,657.9 522.1,705.1 582.9,721.7 643.6,718.9 704.3,713.9 765.1,695.8 825.8,719.0 886.5,693.3 947.3,707.0 1008.0,690.2"/>
<polyline stroke="#4fa0ee" stroke-width="2" points="97.0,705.3 157.7,678.4 218.5,723.6 279.2,695.8 339.9,673.8 400.7,680.4 461.4,697.6 522.1,724.2 582.9,730.2 643.6,706.7 704.3,730.4 765.1,750.5 825.8,763.6 886.5,695.6 947.3,721.6 1008.0,725.2"/>
<polyline stroke="#e81c4c" stroke-width="1.2" points="97.0,689.0 157.7,667.6 218.5,703.8 279.2,696.0 339.9,675.6 400.7,674.0 461.4,665.0 522.1,714.8 582.9,697.6 643.6,703.3 765.1,719.3 825.8,749.8 886.5,674.4 947.3,720.0 1008.0,702.3"/>
<polyline stroke="#4fa0ee" stroke-width="2" points="97.0,716.2 157.7,723.9 218.5,725.0 279.2,727.3 339.9,705.6 400.7,715.1 461.4,730.6 522.1,776.6 582.9,734.9 643.6,759.0 704.3,755.3 765.1,768.0 825.8,754.4 886.5,728.7 947.3,789.0 1008.0,733.8"/>
<polyline stroke="#9a8400" stroke-width="1.2" points="97.0,721.4 157.7,692.2 218.5,688.4 279.2,703.5 339.9,656.2 400.7,654.1 461.4,681.7 522.1,715.6 582.9,708.0 643.6,740.6 704.3,711.9 765.1,704.7 825.8,746.3 886.5,692.6 947.3,745.9 1008.0,693.2"/>
<polyline stroke="#33dd33" stroke-width="1.2" points="97.0,671.7 157.7,659.6 218.5,689.2 279.2,672.0 339.9,659.2 400.7,684.7 461.4,655.9 522.1,701.3 582.9,684.4 643.6,699.7 704.3,692.2 765.1,691.4 825.8,712.6 886.5,666.7 947.3,701.1 1008.0,695.0"/>
<polyline stroke="#555555" stroke-width="2" points="97.0,590.3 157.7,576.1 218.5,615.4 279.2,619.4 339.9,640.2 400.7,558.7 461.4,616.4 522.1,620.0 582.9,605.3 643.6,604.8 704.3,629.3 765.1,617.0 825.8,700.3 886.5,594.5 947.3,631.1 1008.0,583.0"/>
<polyline stroke="#8a5cff" stroke-width="1.2" points="97.0,689.3 218.5,717.8 279.2,704.8 339.9,736.6 400.7,712.9 461.4,702.0 522.1,712.3 582.9,720.8 643.6,740.4 704.3,744.2 765.1,740.5 825.8,730.5 886.5,696.3 947.3,755.0 1008.0,702.7"/>
<polyline stroke="#ff5a10" stroke-width="1.2" points="97.0,698.2 157.7,673.5 218.5,713.9 279.2,680.6 339.9,664.0 400.7,682.2 461.4,704.0 522.1,700.7 582.9,693.3 643.6,711.5 765.1,697.9 825.8,711.9 886.5,709.3 947.3,750.8 1008.0,705.9"/>
<polyline stroke="#77ee00" stroke-width="2" points="97.0,663.4 157.7,662.4 218.5,660.7 279.2,681.0 339.9,670.2 400.7,652.7 461.4,677.2 522.1,674.6 582.9,719.8 643.6,718.0 704.3,692.4 765.1,704.2 825.8,713.0 886.5,673.5 947.3,721.7 1008.0,623.5"/>
<polyline stroke="#50e8c0" stroke-width="2" points="97.0,714.2 157.7,701.5 279.2,693.5 339.9,683.0 400.7,650.8 461.4,675.6 522.1,695.6 582.9,712.9 643.6,726.6 704.3,715.4 765.1,719.6 825.8,733.3 886.5,701.5 947.3,733.9 1008.0,712.6"/>
<polyline stroke="#e81c4c" stroke-width="1.2" points="97.0,658.4 157.7,694.0 218.5,711.7 279.2,680.0 339.9,660.5 400.7,663.5 461.4,692.1 522.1,722.0 582.9,713.4 643.6,658.2 704.3,726.7 765.1,714.3 825.8,706.5 886.5,663.8 947.3,732.0 1008.0,731.7"/>
<polyline stroke="#8a5cff" stroke-width="1.2" points="97.0,704.6 157.7,678.3 218.5,718.3 279.2,682.8 339.9,653.6 400.7,684.7 461.4,704.1 522.1,715.8 582.9,706.5 643.6,715.3 704.3,738.5 765.1,763.4 825.8,727.2 886.5,686.2 947.3,733.3 1008.0,726.5"/>
<polyline stroke="#555555" stroke-width="1.2" points="97.0,637.8 157.7,622.7 218.5,619.3 279.2,676.4 339.9,656.9 400.7,643.3 461.4,604.1 522.1,623.4 582.9,674.1 643.6,678.5 704.3,695.5 765.1,675.9 825.8,694.4 886.5,643.3 947.3,660.2 1008.0,569.7"/>
<polyline stroke="#4fa0ee" stroke-width="2" points="97.0,676.7 157.7,720.6 218.5,716.8 279.2,720.0 339.9,681.0 400.7,685.5 461.4,739.9 522.1,740.3 582.9,745.3 643.6,735.3 704.3,749.5 765.1,734.2 825.8,747.6 886.5,725.7 947.3,748.7 1008.0,729.9"/>
<polyline stroke="#4fa0ee" stroke-width="1.2" points="97.0,716.1 157.7,684.6 218.5,697.9 279.2,677.2 339.9,674.1 400.7,683.5 522.1,710.6 582.9,688.7 643.6,736.5 704.3,732.4 765.1,749.1 825.8,717.4 886.5,707.2 947.3,757.8 1008.0,727.3"/>
<polyline stroke="#e81c4c" stroke-width="2" points="97.0,722.6 157.7,714.1 218.5,720.0 279.2,712.9 339.9,704.1 400.7,703.0 461.4,732.9 522.1,733.9 582.9,734.0 643.6,747.5 704.3,765.2 765.1,777.7 825.8,767.2 886.5,736.2 947.3,784.5 1008.0,729.2"/>
<polyline stroke="#ff5a10" stroke-width="2" points="97.0,709.7 157.7,664.2 218.5,702.0 279.2,690.1 339.9,694.3 400.7,669.0 461.4,687.5 522.1,693.7 582.9,696.6 643.6,739.0 704.3,713.8 765.1,754.1 825.8,764.9 886.5,688.2 947.3,719.6 1008.0,707.2"/>
<polyline stroke="#33dd33" stroke-width="1.2" points="97.0,725.9 157.7,665.3 218.5,720.1 279.2,680.3 339.9,738.5 400.7,706.1 461.4,686.6 522.1,736.3 582.9,740.4 643.6,742.9 704.3,760.0 765.1,752.1 825.8,718.1 886.5,724.0 947.3,737.6 1008.0,723.7"/>
<polyline stroke="#8a5cff" stroke-width="1.2" points="97.0,698.1 157.7,683.7 218.5,687.5 279.2,716.5 339.9,689.3 400.7,700.8 461.4,693.5 522.1,716.6 582.9,745.5 643.6,740.4 704.3,742.4 765.1,748.5 825.8,747.7 886.5,695.9 947.3,726.8 1008.0,717.0"/>
<polyline stroke="#77ee00" stroke-width="1.2" points="97.0,705.1 157.7,667.2 218.5,713.0 279.2,710.8 339.9,683.8 400.7,655.9 461.4,697.9 522.1,705.0 582.9,689.7 643.6,716.5 704.3,745.2 765.1,738.6 825.8,736.1 886.5,683.6 947.3,738.4 1008.0,719.4"/>
<polyline stroke="#4fa0ee" stroke-width="2" points="97.0,643.5 157.7,622.8 218.5,670.1 279.2,664.3 339.9,629.7 400.7,646.8 461.4,677.8 522.1,688.8 582.9,683.9 643.6,699.4 704.3,697.1 765.1,688.4 825.8,709.1 886.5,676.9 947.3,689.4 1008.0,699.5"/>
<polyline stroke="#8a5cff" stroke-width="1.2" points="97.0,701.2 157.7,715.6 218.5,724.7 279.2,725.9 339.9,711.5 400.7,687.7 461.4,741.1 522.1,745.1 582.9,754.9 643.6,738.7 704.3,755.2 765.1,787.0 825.8,768.3 886.5,720.2 947.3,774.9 1008.0,719.8"/>
<polyline stroke="#50e8c0" stroke-width="2" points="97.0,729.8 157.7,690.3 218.5,715.0 279.2,701.3 339.9,671.3 400.7,714.5 461.4,704.9 522.1,707.2 582.9,715.9 643.6,709.4 704.3,737.0 765.1,747.4 825.8,763.9 886.5,696.4 947.3,776.8 1008.0,698.2"/>
<polyline stroke="#50e8c0" stroke-width="2" points="97.0,726.3 157.7,702.9 218.5,727.7 279.2,708.7 339.9,733.7 400.7,711.6 461.4,698.5 522.1,734.4 582.9,745.6 643.6,745.2 704.3,785.1 765.1,771.1 825.8,741.8 886.5,738.3 947.3,759.6 1008.0,727.5"/>
<polyline stroke="#8a5cff" stroke-width="2" points="97.0,710.1 157.7,678.5 218.5,681.5 279.2,706.8 339.9,654.6 400.7,676.2 461.4,667.5 522.1,701.9 582.9,675.7 643.6,696.0 704.3,699.6 765.1,692.0 825.8,733.7 886.5,703.8 947.3,728.9 1008.0,693.0"/>
<polyline stroke="#555555" stroke-width="1.2" points="97.0,700.2 157.7,658.0 218.5,708.5 279.2,673.6 339.9,665.2 400.7,678.5 461.4,664.2 522.1,736.8 582.9,699.1 643.6,722.3 704.3,754.8 765.1,719.0 825.8,721.7 886.5,714.0 947.3,727.7 1008.0,725.8"/>
<polyline stroke="#50e8c0" stroke-width="1.2" points="97.0,675.3 157.7,676.8 218.5,719.5 279.2,684.5 339.9,678.6 400.7,683.4 461.4,651.1 522.1,705.0 582.9,698.6 643.6,710.7 704.3,721.0 765.1,734.0 825.8,741.2 886.5,665.2 947.3,751.8 1008.0,697.9"/>
<polyline stroke="#8a5cff" stroke-width="2" points="97.0,656.9 157.7,576.1 218.5,695.9 279.2,657.9 339.9,646.1 400.7,688.3 461.4,668.6 522.1,673.0 582.9,682.4 643.6,695.8 704.3,700.1 765.1,687.0 825.8,706.0 886.5,624.3 947.3,710.3 1008.0,599.3"/>
<polyline stroke="#555555" stroke-width="1.2" points="97.0,629.5 157.7,656.9 218.5,675.4 279.2,647.0 339.9,638.0 400.7,635.2 461.4,640.8 522.1,638.8 582.9,687.7 643.6,687.9 704.3,700.6 765.1,697.7 825.8,696.3 886.5,599.3 947.3,689.7 1008.0,685.9"/>
<polyline stroke="#4fa0ee" stroke-width="1.2" points="97.0,715.7 157.7,691.3 218.5,726.3 279.2,707.5 339.9,667.2 400.7,684.5 461.4,695.7 522.1,699.5 582.9,742.0 643.6,752.6 704.3,718.4 765.1,727.0 825.8,699.9 947.3,747.3 1008.0,727.1"/>
<polyline stroke="#555555" stroke-width="1.3" points="97.0,581.6 157.7,567.5 218.5,607.0 279.2,571.7 339.9,578.8 400.7,557.0 461.4,592.9 522.1,612.6 582.9,630.6 643.6,595.7 704.3,616.8 765.1,607.0 825.8,660.5 886.5,612.6 947.3,669.0 1008.0,626.7"/>
<polyline stroke="#8a5cff" stroke-width="1.3" points="97.0,607.0 157.7,583.0 218.5,584.4 279.2,587.2 339.9,612.6 400.7,598.5 461.4,598.5 522.1,599.9 582.9,605.8 643.6,638.0 765.1,654.9 825.8,669.0 886.5,629.5 947.3,683.1 1008.0,640.8"/>
<polyline stroke="#666666" stroke-width="1.3" points="97.0,592.9 157.7,591.5 218.5,615.4 339.9,621.1 400.7,607.0 522.1,629.5 582.9,632.3 643.6,621.1 704.3,635.2 825.8,646.4 886.5,601.3 947.3,654.9 1008.0,612.6"/>
<polyline stroke="#3a0f2a" stroke-width="1.3" points="97.0,604.1 218.5,601.3 279.2,601.3 339.9,623.9 400.7,612.6 582.9,654.9 643.6,646.4 704.3,663.4 765.1,669.0 825.8,605.5 886.5,580.2 947.3,640.8 1008.0,592.9"/>
<polyline stroke="#33dd33" stroke-width="1.3" points="97.0,640.8 157.7,626.7 218.5,646.4 279.2,607.0 339.9,598.5 400.7,584.4 461.4,573.1 522.1,612.6 582.9,623.9 643.6,582.1 704.3,604.1 765.1,635.2 825.8,626.7 886.5,590.0 947.3,646.4 1008.0,578.8"/>
<polyline stroke="#9a8400" stroke-width="1.3" points="97.0,635.2 157.7,618.2 218.5,640.8 279.2,623.9 339.9,612.6 400.7,575.9 461.4,612.6 522.1,635.2 582.9,654.9 643.6,640.8 704.3,646.4 765.1,635.2 825.8,612.6 886.5,571.1 947.3,615.4 1008.0,584.4"/>
<polyline stroke="#4fa0ee" stroke-width="1.3" points="97.0,629.5 157.7,612.6 218.5,635.2 279.2,623.9 339.9,618.2 400.7,601.3 461.4,612.6 522.1,614.0 582.9,621.1 643.6,621.1 704.3,640.8 765.1,623.9 825.8,635.2 886.5,595.7 947.3,635.2 1008.0,559.0"/>
<polyline stroke="#000" stroke-width="1.6" points="97.0,690.7 157.7,680.3 1008.0,680.3"/>
</g>
<polyline fill="none" stroke="#1e46ff" stroke-width="2.2" points="97.0,713.3 157.7,700.7 218.5,723.4 279.2,706.8 339.9,694.4 400.7,697.2 461.4,705.4 522.1,725.7 582.9,726.8 643.6,736.1 704.3,743.4 765.1,733.0 825.8,748.2 886.5,705.7 947.3,756.7 1008.0,729.6"/>
<circle cx="97.0" cy="713.3" r="8" fill="#1e46ff"/>
<circle cx="157.7" cy="700.7" r="8" fill="#1e46ff"/>
<circle cx="218.5" cy="723.4" r="8" fill="#1e46ff"/>
<circle cx="279.2" cy="706.8" r="8" fill="#1e46ff"/>
<circle cx="339.9" cy="694.4" r="8" fill="#1e46ff"/>
<circle cx="400.7" cy="697.2" r="8" fill="#1e46ff"/>
<circle cx="461.4" cy="705.4" r="8" fill="#1e46ff"/>
<circle cx="522.1" cy="725.7" r="8" fill="#1e46ff"/>
<circle cx="582.9" cy="726.8" r="8" fill="#1e46ff"/>
<circle cx="643.6" cy="736.1" r="8" fill="#1e46ff"/>
<circle cx="704.3" cy="743.4" r="8" fill="#1e46ff"/>
<circle cx="765.1" cy="733.0" r="8" fill="#1e46ff"/>
<circle cx="825.8" cy="748.2" r="8" fill="#1e46ff"/>
<circle cx="886.5" cy="705.7" r="8" fill="#1e46ff"/>
<circle cx="947.3" cy="756.7" r="8" fill="#1e46ff"/>
<circle cx="1008.0" cy="729.6" r="8" fill="#1e46ff"/>
<line x1="312" y1="775.5" x2="523" y2="755" stroke="#000" stroke-width="1.6"/>
<text x="139" y="791" class="lg">风功率场景</text>
<line x1="180" y1="18" x2="247" y2="18" stroke="#000" stroke-width="1.6"/>
<text x="254" y="31" class="lg">实际值</text>
<line x1="381" y1="18" x2="447.5" y2="18" stroke="#f00" stroke-width="1.6"/>
<rect x="407" y="10.5" width="15" height="15" fill="#f00"/>
<text x="451" y="31" class="lg">日前预测值</text>
<line x1="653" y1="18" x2="720" y2="18" stroke="#1f3fff" stroke-width="1.6"/>
<circle cx="686.3" cy="18" r="7.6" fill="#1f3fff"/>
<text x="724" y="31" class="lg">日内预测值</text>
<line x1="180" y1="493.5" x2="247" y2="493.5" stroke="#000" stroke-width="1.6"/>
<text x="254" y="506.5" class="lg">实际值</text>
<line x1="381" y1="493.5" x2="447.5" y2="493.5" stroke="#f00" stroke-width="1.6"/>
<rect x="407" y="486.0" width="15" height="15" fill="#f00"/>
<text x="451" y="506.5" class="lg">日前预测值</text>
<line x1="653" y1="493.5" x2="720" y2="493.5" stroke="#1f3fff" stroke-width="1.6"/>
<circle cx="686.3" cy="493.5" r="7.6" fill="#1f3fff"/>
<text x="724" y="506.5" class="lg">日内预测值</text>
<rect x="97" y="54" width="911" height="281.5" fill="none" stroke="#000" stroke-width="2"/>
<rect x="97" y="528" width="911" height="282" fill="none" stroke="#000" stroke-width="2"/>
<line x1="97" y1="279.2" x2="112" y2="279.2" stroke="#000" stroke-width="2"/>
<text transform="matrix(0.93,0,0,1,6.23,0)" x="89" y="293.7" text-anchor="end" class="tk">20</text>
<line x1="97" y1="222.9" x2="112" y2="222.9" stroke="#000" stroke-width="2"/>
<text transform="matrix(0.93,0,0,1,6.23,0)" x="89" y="237.4" text-anchor="end" class="tk">40</text>
<line x1="97" y1="166.6" x2="112" y2="166.6" stroke="#000" stroke-width="2"/>
<text transform="matrix(0.93,0,0,1,6.23,0)" x="89" y="181.1" text-anchor="end" class="tk">60</text>
<line x1="97" y1="110.3" x2="112" y2="110.3" stroke="#000" stroke-width="2"/>
<text transform="matrix(0.93,0,0,1,6.23,0)" x="89" y="124.8" text-anchor="end" class="tk">80</text>
<text transform="matrix(0.93,0,0,1,6.23,0)" x="89" y="67.5" text-anchor="end" class="tk">100</text>
<text transform="matrix(0.93,0,0,1,6.23,0)" x="89" y="369" text-anchor="end" class="tk">0</text>
<line x1="248.8" y1="335.5" x2="248.8" y2="320.5" stroke="#000" stroke-width="2"/>
<line x1="400.7" y1="335.5" x2="400.7" y2="320.5" stroke="#000" stroke-width="2"/>
<line x1="552.5" y1="335.5" x2="552.5" y2="320.5" stroke="#000" stroke-width="2"/>
<line x1="704.3" y1="335.5" x2="704.3" y2="320.5" stroke="#000" stroke-width="2"/>
<line x1="856.2" y1="335.5" x2="856.2" y2="320.5" stroke="#000" stroke-width="2"/>
<text transform="matrix(0.93,0,0,1,17.49,0)" x="249.8" y="369" text-anchor="middle" class="tk">16</text>
<text transform="matrix(0.93,0,0,1,28.12,0)" x="401.7" y="369" text-anchor="middle" class="tk">32</text>
<text transform="matrix(0.93,0,0,1,38.75,0)" x="553.5" y="369" text-anchor="middle" class="tk">48</text>
<text transform="matrix(0.93,0,0,1,49.37,0)" x="705.3" y="369" text-anchor="middle" class="tk">64</text>
<text transform="matrix(0.93,0,0,1,60.00,0)" x="857.2" y="369" text-anchor="middle" class="tk">80</text>
<text transform="matrix(0.93,0,0,1,70.60,0)" x="1008.5" y="369" text-anchor="middle" class="tk">96</text>
<text x="20.5" y="194" transform="rotate(-90 20.5 194)" text-anchor="middle" dominant-baseline="central" class="lg">功率/MW</text>
<text x="553" y="406" text-anchor="middle" class="lg">时段/(15 min)</text>
<text class="cap" y="446"><tspan x="357.2" stroke-width="0">(</tspan><tspan x="373.5" font-weight="bold" stroke-width="0">a</tspan><tspan x="390" stroke-width="0">)</tspan><tspan x="422.8" letter-spacing="-2.2">日前典型日风功率场景</tspan></text>
<line x1="97" y1="753.6" x2="112" y2="753.6" stroke="#000" stroke-width="2"/>
<text transform="matrix(0.93,0,0,1,6.23,0)" x="89" y="766.4" text-anchor="end" class="tk">20</text>
<line x1="97" y1="697.2" x2="112" y2="697.2" stroke="#000" stroke-width="2"/>
<text transform="matrix(0.93,0,0,1,6.23,0)" x="89" y="710.0" text-anchor="end" class="tk">40</text>
<line x1="97" y1="640.8" x2="112" y2="640.8" stroke="#000" stroke-width="2"/>
<text transform="matrix(0.93,0,0,1,6.23,0)" x="89" y="653.6" text-anchor="end" class="tk">60</text>
<line x1="97" y1="584.4" x2="112" y2="584.4" stroke="#000" stroke-width="2"/>
<text transform="matrix(0.93,0,0,1,6.23,0)" x="89" y="597.2" text-anchor="end" class="tk">80</text>
<text transform="matrix(0.93,0,0,1,6.23,0)" x="89" y="540.5" text-anchor="end" class="tk">100</text>
<text transform="matrix(0.93,0,0,1,6.23,0)" x="89" y="823" text-anchor="end" class="tk">0</text>
<line x1="157.7" y1="810" x2="157.7" y2="795" stroke="#000" stroke-width="2"/>
<line x1="218.5" y1="810" x2="218.5" y2="795" stroke="#000" stroke-width="2"/>
<line x1="279.2" y1="810" x2="279.2" y2="795" stroke="#000" stroke-width="2"/>
<line x1="339.9" y1="810" x2="339.9" y2="795" stroke="#000" stroke-width="2"/>
<line x1="400.7" y1="810" x2="400.7" y2="795" stroke="#000" stroke-width="2"/>
<line x1="461.4" y1="810" x2="461.4" y2="795" stroke="#000" stroke-width="2"/>
<line x1="522.1" y1="810" x2="522.1" y2="795" stroke="#000" stroke-width="2"/>
<line x1="582.9" y1="810" x2="582.9" y2="795" stroke="#000" stroke-width="2"/>
<line x1="643.6" y1="810" x2="643.6" y2="795" stroke="#000" stroke-width="2"/>
<line x1="704.3" y1="810" x2="704.3" y2="795" stroke="#000" stroke-width="2"/>
<line x1="765.1" y1="810" x2="765.1" y2="795" stroke="#000" stroke-width="2"/>
<line x1="825.8" y1="810" x2="825.8" y2="795" stroke="#000" stroke-width="2"/>
<line x1="886.5" y1="810" x2="886.5" y2="795" stroke="#000" stroke-width="2"/>
<line x1="947.3" y1="810" x2="947.3" y2="795" stroke="#000" stroke-width="2"/>
<text transform="matrix(0.93,0,0,1,6.79,0)" x="97.0" y="844" text-anchor="middle" class="tk">1</text>
<text transform="matrix(0.93,0,0,1,11.04,0)" x="157.7" y="844" text-anchor="middle" class="tk">2</text>
<text transform="matrix(0.93,0,0,1,15.30,0)" x="218.5" y="844" text-anchor="middle" class="tk">3</text>
<text transform="matrix(0.93,0,0,1,19.54,0)" x="279.2" y="844" text-anchor="middle" class="tk">4</text>
<text transform="matrix(0.93,0,0,1,23.79,0)" x="339.9" y="844" text-anchor="middle" class="tk">5</text>
<text transform="matrix(0.93,0,0,1,28.05,0)" x="400.7" y="844" text-anchor="middle" class="tk">6</text>
<text transform="matrix(0.93,0,0,1,32.30,0)" x="461.4" y="844" text-anchor="middle" class="tk">7</text>
<text transform="matrix(0.93,0,0,1,36.55,0)" x="522.1" y="844" text-anchor="middle" class="tk">8</text>
<text transform="matrix(0.93,0,0,1,40.80,0)" x="582.9" y="844" text-anchor="middle" class="tk">9</text>
<text transform="matrix(0.93,0,0,1,45.05,0)" x="643.6" y="844" text-anchor="middle" class="tk">10</text>
<text transform="matrix(0.93,0,0,1,49.30,0)" x="704.3" y="844" text-anchor="middle" class="tk">11</text>
<text transform="matrix(0.93,0,0,1,53.56,0)" x="765.1" y="844" text-anchor="middle" class="tk">12</text>
<text transform="matrix(0.93,0,0,1,57.81,0)" x="825.8" y="844" text-anchor="middle" class="tk">13</text>
<text transform="matrix(0.93,0,0,1,62.06,0)" x="886.5" y="844" text-anchor="middle" class="tk">14</text>
<text transform="matrix(0.93,0,0,1,66.31,0)" x="947.3" y="844" text-anchor="middle" class="tk">15</text>
<text transform="matrix(0.93,0,0,1,70.56,0)" x="1008.0" y="844" text-anchor="middle" class="tk">16</text>
<text x="20.5" y="668" transform="rotate(-90 20.5 668)" text-anchor="middle" dominant-baseline="central" class="lg">功率/MW</text>
<text x="552" y="886" text-anchor="middle" class="lg">预测时间步</text>
<text class="cap" y="931"><tspan x="339.2" stroke-width="0">(</tspan><tspan x="352.5" font-weight="bold" stroke-width="0">b</tspan><tspan x="375.2" stroke-width="0">)</tspan><tspan x="406.9" letter-spacing="-2.2">日内典型时段风功率场景</tspan></text>
</svg>
</body></html>
